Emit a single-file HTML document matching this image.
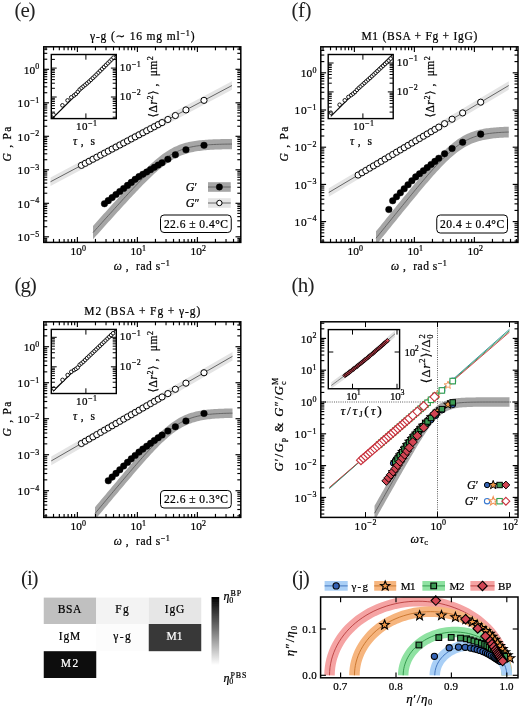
<!DOCTYPE html>
<html lang="en"><head><meta charset="utf-8"><title>Figure panels e-j</title>
<style>html,body{margin:0;padding:0;background:#fff}svg{display:block}</style></head>
<body>
<svg width="520" height="709" viewBox="0 0 520 709" font-family='"Liberation Serif", "DejaVu Serif", serif'>
<rect x="0" y="0" width="520" height="709" fill="#fff" stroke="none" stroke-width="1" />
<defs><filter id="soft" x="0" y="0" width="100%" height="100%" filterUnits="userSpaceOnUse"><feGaussianBlur stdDeviation="0.5"/></filter></defs>
<g filter="url(#soft)">
<rect x="0" y="0" width="520" height="709" fill="#fff" stroke="none" stroke-width="1" />
<clipPath id="clipe"><rect x="43.75" y="46.8" width="197.05" height="195.6"/></clipPath>
<g clip-path="url(#clipe)">
<path d="M50.5 177.45 L141.25 129.32 L232 81.2 L232 89.8 L141.25 137.93 L50.5 186.05 Z" fill="#e4e4e4" stroke="none" stroke-width="1" />
<path d="M50.5 181.75 L141.25 133.62 L232 85.5" fill="none" stroke="#444" stroke-width="0.8" />
<path d="M93 225.9 L94.54 224.18 L96.09 222.46 L97.63 220.74 L99.18 219.02 L100.72 217.31 L102.27 215.59 L103.81 213.87 L105.36 212.16 L106.9 210.45 L108.44 208.74 L109.99 207.03 L111.53 205.32 L113.08 203.61 L114.62 201.91 L116.17 200.21 L117.71 198.51 L119.26 196.82 L120.8 195.12 L122.34 193.44 L123.89 191.76 L125.43 190.08 L126.98 188.41 L128.52 186.74 L130.07 185.09 L131.61 183.44 L133.16 181.8 L134.7 180.17 L136.24 178.55 L137.79 176.94 L139.33 175.35 L140.88 173.77 L142.42 172.21 L143.97 170.67 L145.51 169.15 L147.06 167.65 L148.6 166.17 L150.14 164.72 L151.69 163.3 L153.23 161.91 L154.78 160.55 L156.32 159.23 L157.87 157.95 L159.41 156.71 L160.96 155.5 L162.5 154.35 L164.04 153.24 L165.59 152.17 L167.13 151.16 L168.68 150.2 L170.22 149.28 L171.77 148.42 L173.31 147.61 L174.86 146.85 L176.4 146.14 L177.94 145.48 L179.49 144.87 L181.03 144.3 L182.58 143.78 L184.12 143.3 L185.67 142.86 L187.21 142.46 L188.76 142.09 L190.3 141.76 L191.84 141.46 L193.39 141.18 L194.93 140.93 L196.48 140.71 L198.02 140.51 L199.57 140.33 L201.11 140.16 L202.66 140.02 L204.2 139.89 L205.74 139.77 L207.29 139.66 L208.83 139.57 L210.38 139.49 L211.92 139.41 L213.47 139.34 L215.01 139.28 L216.56 139.23 L218.1 139.18 L219.64 139.14 L221.19 139.1 L222.73 139.07 L224.28 139.04 L225.82 139.01 L227.37 138.99 L228.91 138.97 L230.46 138.95 L232 138.93 L232 149.17 L230.46 149.19 L228.91 149.21 L227.37 149.24 L225.82 149.27 L224.28 149.3 L222.73 149.34 L221.19 149.38 L219.64 149.42 L218.1 149.48 L216.56 149.54 L215.01 149.6 L213.47 149.67 L211.92 149.76 L210.38 149.85 L208.83 149.95 L207.29 150.07 L205.74 150.2 L204.2 150.34 L202.66 150.5 L201.11 150.68 L199.57 150.88 L198.02 151.1 L196.48 151.35 L194.93 151.62 L193.39 151.92 L191.84 152.24 L190.3 152.61 L188.76 153 L187.21 153.44 L185.67 153.91 L184.12 154.43 L182.58 154.99 L181.03 155.59 L179.49 156.25 L177.94 156.95 L176.4 157.7 L174.86 158.5 L173.31 159.36 L171.77 160.26 L170.22 161.22 L168.68 162.22 L167.13 163.28 L165.59 164.38 L164.04 165.53 L162.5 166.73 L160.96 167.96 L159.41 169.24 L157.87 170.56 L156.32 171.91 L154.78 173.3 L153.23 174.71 L151.69 176.16 L150.14 177.63 L148.6 179.13 L147.06 180.65 L145.51 182.18 L143.97 183.74 L142.42 185.32 L140.88 186.91 L139.33 188.51 L137.79 190.13 L136.24 191.76 L134.7 193.4 L133.16 195.05 L131.61 196.7 L130.07 198.37 L128.52 200.04 L126.98 201.71 L125.43 203.39 L123.89 205.08 L122.34 206.77 L120.8 208.46 L119.26 210.16 L117.71 211.86 L116.17 213.57 L114.62 215.27 L113.08 216.98 L111.53 218.69 L109.99 220.4 L108.44 222.11 L106.9 223.83 L105.36 225.54 L103.81 227.26 L102.27 228.97 L100.72 230.69 L99.18 232.41 L97.63 234.13 L96.09 235.85 L94.54 237.57 L93 239.29 Z" fill="#a6a6a6" stroke="none" stroke-width="1" />
<path d="M93 232.6 L94.54 230.88 L96.09 229.16 L97.63 227.44 L99.18 225.72 L100.72 224 L102.27 222.28 L103.81 220.57 L105.36 218.85 L106.9 217.14 L108.44 215.42 L109.99 213.71 L111.53 212 L113.08 210.3 L114.62 208.59 L116.17 206.89 L117.71 205.19 L119.26 203.49 L120.8 201.79 L122.34 200.1 L123.89 198.42 L125.43 196.74 L126.98 195.06 L128.52 193.39 L130.07 191.73 L131.61 190.07 L133.16 188.42 L134.7 186.78 L136.24 185.15 L137.79 183.54 L139.33 181.93 L140.88 180.34 L142.42 178.76 L143.97 177.21 L145.51 175.66 L147.06 174.15 L148.6 172.65 L150.14 171.17 L151.69 169.73 L153.23 168.31 L154.78 166.92 L156.32 165.57 L157.87 164.25 L159.41 162.97 L160.96 161.73 L162.5 160.54 L164.04 159.39 L165.59 158.28 L167.13 157.22 L168.68 156.21 L170.22 155.25 L171.77 154.34 L173.31 153.48 L174.86 152.68 L176.4 151.92 L177.94 151.22 L179.49 150.56 L181.03 149.95 L182.58 149.38 L184.12 148.86 L185.67 148.39 L187.21 147.95 L188.76 147.55 L190.3 147.18 L191.84 146.85 L193.39 146.55 L194.93 146.28 L196.48 146.03 L198.02 145.81 L199.57 145.6 L201.11 145.42 L202.66 145.26 L204.2 145.11 L205.74 144.98 L207.29 144.87 L208.83 144.76 L210.38 144.67 L211.92 144.58 L213.47 144.51 L215.01 144.44 L216.56 144.38 L218.1 144.33 L219.64 144.28 L221.19 144.24 L222.73 144.2 L224.28 144.17 L225.82 144.14 L227.37 144.11 L228.91 144.09 L230.46 144.07 L232 144.05" fill="none" stroke="#555" stroke-width="0.8" />
</g>
<circle cx="104.46" cy="203.69" r="3.3" fill="#000" stroke="#000" stroke-width="0.4"/>
<circle cx="108.3" cy="200.64" r="3.3" fill="#000" stroke="#000" stroke-width="0.4"/>
<circle cx="112.14" cy="197.6" r="3.3" fill="#000" stroke="#000" stroke-width="0.4"/>
<circle cx="115.98" cy="194.56" r="3.3" fill="#000" stroke="#000" stroke-width="0.4"/>
<circle cx="119.82" cy="191.51" r="3.3" fill="#000" stroke="#000" stroke-width="0.4"/>
<circle cx="123.66" cy="188.47" r="3.3" fill="#000" stroke="#000" stroke-width="0.4"/>
<circle cx="127.5" cy="185.42" r="3.3" fill="#000" stroke="#000" stroke-width="0.4"/>
<circle cx="131.34" cy="182.38" r="3.3" fill="#000" stroke="#000" stroke-width="0.4"/>
<circle cx="135.18" cy="179.34" r="3.3" fill="#000" stroke="#000" stroke-width="0.4"/>
<circle cx="139.02" cy="176.59" r="3.3" fill="#000" stroke="#000" stroke-width="0.4"/>
<circle cx="142.86" cy="174.28" r="3.3" fill="#000" stroke="#000" stroke-width="0.4"/>
<circle cx="146.7" cy="171.98" r="3.3" fill="#000" stroke="#000" stroke-width="0.4"/>
<circle cx="150.54" cy="169.67" r="3.3" fill="#000" stroke="#000" stroke-width="0.4"/>
<circle cx="154.38" cy="167.37" r="3.3" fill="#000" stroke="#000" stroke-width="0.4"/>
<circle cx="158.22" cy="165.07" r="3.3" fill="#000" stroke="#000" stroke-width="0.4"/>
<circle cx="162.06" cy="162.76" r="3.3" fill="#000" stroke="#000" stroke-width="0.4"/>
<circle cx="167.88" cy="159.27" r="3.3" fill="#000" stroke="#000" stroke-width="0.4"/>
<circle cx="175.37" cy="154.81" r="3.3" fill="#000" stroke="#000" stroke-width="0.4"/>
<circle cx="185.94" cy="149.77" r="3.3" fill="#000" stroke="#000" stroke-width="0.4"/>
<circle cx="204" cy="145.32" r="3.3" fill="#000" stroke="#000" stroke-width="0.4"/>
<circle cx="81.42" cy="165.35" r="3.1" fill="#fff" stroke="#000" stroke-width="1"/>
<circle cx="85.26" cy="163.32" r="3.1" fill="#fff" stroke="#000" stroke-width="1"/>
<circle cx="89.1" cy="161.28" r="3.1" fill="#fff" stroke="#000" stroke-width="1"/>
<circle cx="92.94" cy="159.24" r="3.1" fill="#fff" stroke="#000" stroke-width="1"/>
<circle cx="96.78" cy="157.21" r="3.1" fill="#fff" stroke="#000" stroke-width="1"/>
<circle cx="100.62" cy="155.17" r="3.1" fill="#fff" stroke="#000" stroke-width="1"/>
<circle cx="104.46" cy="153.13" r="3.1" fill="#fff" stroke="#000" stroke-width="1"/>
<circle cx="108.3" cy="151.1" r="3.1" fill="#fff" stroke="#000" stroke-width="1"/>
<circle cx="112.14" cy="149.06" r="3.1" fill="#fff" stroke="#000" stroke-width="1"/>
<circle cx="115.98" cy="147.02" r="3.1" fill="#fff" stroke="#000" stroke-width="1"/>
<circle cx="119.82" cy="144.99" r="3.1" fill="#fff" stroke="#000" stroke-width="1"/>
<circle cx="123.66" cy="142.95" r="3.1" fill="#fff" stroke="#000" stroke-width="1"/>
<circle cx="127.5" cy="140.92" r="3.1" fill="#fff" stroke="#000" stroke-width="1"/>
<circle cx="131.34" cy="138.88" r="3.1" fill="#fff" stroke="#000" stroke-width="1"/>
<circle cx="135.18" cy="136.84" r="3.1" fill="#fff" stroke="#000" stroke-width="1"/>
<circle cx="139.02" cy="134.81" r="3.1" fill="#fff" stroke="#000" stroke-width="1"/>
<circle cx="142.86" cy="132.77" r="3.1" fill="#fff" stroke="#000" stroke-width="1"/>
<circle cx="146.7" cy="130.73" r="3.1" fill="#fff" stroke="#000" stroke-width="1"/>
<circle cx="150.54" cy="128.7" r="3.1" fill="#fff" stroke="#000" stroke-width="1"/>
<circle cx="154.38" cy="126.66" r="3.1" fill="#fff" stroke="#000" stroke-width="1"/>
<circle cx="158.22" cy="124.62" r="3.1" fill="#fff" stroke="#000" stroke-width="1"/>
<circle cx="162.06" cy="122.59" r="3.1" fill="#fff" stroke="#000" stroke-width="1"/>
<circle cx="167.88" cy="119.5" r="3.1" fill="#fff" stroke="#000" stroke-width="1"/>
<circle cx="175.37" cy="115.53" r="3.1" fill="#fff" stroke="#000" stroke-width="1"/>
<circle cx="185.94" cy="109.93" r="3.1" fill="#fff" stroke="#000" stroke-width="1"/>
<circle cx="204" cy="100.35" r="3.1" fill="#fff" stroke="#000" stroke-width="1"/>
<line x1="46.03" y1="242.4" x2="46.03" y2="238.9" stroke="#000" stroke-width="1.15" />
<line x1="46.03" y1="46.8" x2="46.03" y2="50.3" stroke="#000" stroke-width="1.15" />
<line x1="53.52" y1="242.4" x2="53.52" y2="238.9" stroke="#000" stroke-width="1.15" />
<line x1="53.52" y1="46.8" x2="53.52" y2="50.3" stroke="#000" stroke-width="1.15" />
<line x1="59.34" y1="242.4" x2="59.34" y2="238.9" stroke="#000" stroke-width="1.15" />
<line x1="59.34" y1="46.8" x2="59.34" y2="50.3" stroke="#000" stroke-width="1.15" />
<line x1="64.09" y1="242.4" x2="64.09" y2="238.9" stroke="#000" stroke-width="1.15" />
<line x1="64.09" y1="46.8" x2="64.09" y2="50.3" stroke="#000" stroke-width="1.15" />
<line x1="68.11" y1="242.4" x2="68.11" y2="238.9" stroke="#000" stroke-width="1.15" />
<line x1="68.11" y1="46.8" x2="68.11" y2="50.3" stroke="#000" stroke-width="1.15" />
<line x1="71.59" y1="242.4" x2="71.59" y2="238.9" stroke="#000" stroke-width="1.15" />
<line x1="71.59" y1="46.8" x2="71.59" y2="50.3" stroke="#000" stroke-width="1.15" />
<line x1="74.65" y1="242.4" x2="74.65" y2="238.9" stroke="#000" stroke-width="1.15" />
<line x1="74.65" y1="46.8" x2="74.65" y2="50.3" stroke="#000" stroke-width="1.15" />
<line x1="77.4" y1="242.4" x2="77.4" y2="237.1" stroke="#000" stroke-width="1.15" />
<line x1="77.4" y1="46.8" x2="77.4" y2="52.1" stroke="#000" stroke-width="1.15" />
<line x1="95.46" y1="242.4" x2="95.46" y2="238.9" stroke="#000" stroke-width="1.15" />
<line x1="95.46" y1="46.8" x2="95.46" y2="50.3" stroke="#000" stroke-width="1.15" />
<line x1="106.03" y1="242.4" x2="106.03" y2="238.9" stroke="#000" stroke-width="1.15" />
<line x1="106.03" y1="46.8" x2="106.03" y2="50.3" stroke="#000" stroke-width="1.15" />
<line x1="113.52" y1="242.4" x2="113.52" y2="238.9" stroke="#000" stroke-width="1.15" />
<line x1="113.52" y1="46.8" x2="113.52" y2="50.3" stroke="#000" stroke-width="1.15" />
<line x1="119.34" y1="242.4" x2="119.34" y2="238.9" stroke="#000" stroke-width="1.15" />
<line x1="119.34" y1="46.8" x2="119.34" y2="50.3" stroke="#000" stroke-width="1.15" />
<line x1="124.09" y1="242.4" x2="124.09" y2="238.9" stroke="#000" stroke-width="1.15" />
<line x1="124.09" y1="46.8" x2="124.09" y2="50.3" stroke="#000" stroke-width="1.15" />
<line x1="128.11" y1="242.4" x2="128.11" y2="238.9" stroke="#000" stroke-width="1.15" />
<line x1="128.11" y1="46.8" x2="128.11" y2="50.3" stroke="#000" stroke-width="1.15" />
<line x1="131.59" y1="242.4" x2="131.59" y2="238.9" stroke="#000" stroke-width="1.15" />
<line x1="131.59" y1="46.8" x2="131.59" y2="50.3" stroke="#000" stroke-width="1.15" />
<line x1="134.65" y1="242.4" x2="134.65" y2="238.9" stroke="#000" stroke-width="1.15" />
<line x1="134.65" y1="46.8" x2="134.65" y2="50.3" stroke="#000" stroke-width="1.15" />
<line x1="137.4" y1="242.4" x2="137.4" y2="237.1" stroke="#000" stroke-width="1.15" />
<line x1="137.4" y1="46.8" x2="137.4" y2="52.1" stroke="#000" stroke-width="1.15" />
<line x1="155.46" y1="242.4" x2="155.46" y2="238.9" stroke="#000" stroke-width="1.15" />
<line x1="155.46" y1="46.8" x2="155.46" y2="50.3" stroke="#000" stroke-width="1.15" />
<line x1="166.03" y1="242.4" x2="166.03" y2="238.9" stroke="#000" stroke-width="1.15" />
<line x1="166.03" y1="46.8" x2="166.03" y2="50.3" stroke="#000" stroke-width="1.15" />
<line x1="173.52" y1="242.4" x2="173.52" y2="238.9" stroke="#000" stroke-width="1.15" />
<line x1="173.52" y1="46.8" x2="173.52" y2="50.3" stroke="#000" stroke-width="1.15" />
<line x1="179.34" y1="242.4" x2="179.34" y2="238.9" stroke="#000" stroke-width="1.15" />
<line x1="179.34" y1="46.8" x2="179.34" y2="50.3" stroke="#000" stroke-width="1.15" />
<line x1="184.09" y1="242.4" x2="184.09" y2="238.9" stroke="#000" stroke-width="1.15" />
<line x1="184.09" y1="46.8" x2="184.09" y2="50.3" stroke="#000" stroke-width="1.15" />
<line x1="188.11" y1="242.4" x2="188.11" y2="238.9" stroke="#000" stroke-width="1.15" />
<line x1="188.11" y1="46.8" x2="188.11" y2="50.3" stroke="#000" stroke-width="1.15" />
<line x1="191.59" y1="242.4" x2="191.59" y2="238.9" stroke="#000" stroke-width="1.15" />
<line x1="191.59" y1="46.8" x2="191.59" y2="50.3" stroke="#000" stroke-width="1.15" />
<line x1="194.65" y1="242.4" x2="194.65" y2="238.9" stroke="#000" stroke-width="1.15" />
<line x1="194.65" y1="46.8" x2="194.65" y2="50.3" stroke="#000" stroke-width="1.15" />
<line x1="197.4" y1="242.4" x2="197.4" y2="237.1" stroke="#000" stroke-width="1.15" />
<line x1="197.4" y1="46.8" x2="197.4" y2="52.1" stroke="#000" stroke-width="1.15" />
<line x1="215.46" y1="242.4" x2="215.46" y2="238.9" stroke="#000" stroke-width="1.15" />
<line x1="215.46" y1="46.8" x2="215.46" y2="50.3" stroke="#000" stroke-width="1.15" />
<line x1="226.03" y1="242.4" x2="226.03" y2="238.9" stroke="#000" stroke-width="1.15" />
<line x1="226.03" y1="46.8" x2="226.03" y2="50.3" stroke="#000" stroke-width="1.15" />
<line x1="233.52" y1="242.4" x2="233.52" y2="238.9" stroke="#000" stroke-width="1.15" />
<line x1="233.52" y1="46.8" x2="233.52" y2="50.3" stroke="#000" stroke-width="1.15" />
<line x1="239.34" y1="242.4" x2="239.34" y2="238.9" stroke="#000" stroke-width="1.15" />
<line x1="239.34" y1="46.8" x2="239.34" y2="50.3" stroke="#000" stroke-width="1.15" />
<line x1="43.75" y1="241.99" x2="47.25" y2="241.99" stroke="#000" stroke-width="1.15" />
<line x1="240.8" y1="241.99" x2="237.3" y2="241.99" stroke="#000" stroke-width="1.15" />
<line x1="43.75" y1="240.05" x2="47.25" y2="240.05" stroke="#000" stroke-width="1.15" />
<line x1="240.8" y1="240.05" x2="237.3" y2="240.05" stroke="#000" stroke-width="1.15" />
<line x1="43.75" y1="238.33" x2="47.25" y2="238.33" stroke="#000" stroke-width="1.15" />
<line x1="240.8" y1="238.33" x2="237.3" y2="238.33" stroke="#000" stroke-width="1.15" />
<line x1="43.75" y1="236.8" x2="49.05" y2="236.8" stroke="#000" stroke-width="1.15" />
<line x1="240.8" y1="236.8" x2="235.5" y2="236.8" stroke="#000" stroke-width="1.15" />
<line x1="43.75" y1="226.72" x2="47.25" y2="226.72" stroke="#000" stroke-width="1.15" />
<line x1="240.8" y1="226.72" x2="237.3" y2="226.72" stroke="#000" stroke-width="1.15" />
<line x1="43.75" y1="220.82" x2="47.25" y2="220.82" stroke="#000" stroke-width="1.15" />
<line x1="240.8" y1="220.82" x2="237.3" y2="220.82" stroke="#000" stroke-width="1.15" />
<line x1="43.75" y1="216.63" x2="47.25" y2="216.63" stroke="#000" stroke-width="1.15" />
<line x1="240.8" y1="216.63" x2="237.3" y2="216.63" stroke="#000" stroke-width="1.15" />
<line x1="43.75" y1="213.38" x2="47.25" y2="213.38" stroke="#000" stroke-width="1.15" />
<line x1="240.8" y1="213.38" x2="237.3" y2="213.38" stroke="#000" stroke-width="1.15" />
<line x1="43.75" y1="210.73" x2="47.25" y2="210.73" stroke="#000" stroke-width="1.15" />
<line x1="240.8" y1="210.73" x2="237.3" y2="210.73" stroke="#000" stroke-width="1.15" />
<line x1="43.75" y1="208.49" x2="47.25" y2="208.49" stroke="#000" stroke-width="1.15" />
<line x1="240.8" y1="208.49" x2="237.3" y2="208.49" stroke="#000" stroke-width="1.15" />
<line x1="43.75" y1="206.55" x2="47.25" y2="206.55" stroke="#000" stroke-width="1.15" />
<line x1="240.8" y1="206.55" x2="237.3" y2="206.55" stroke="#000" stroke-width="1.15" />
<line x1="43.75" y1="204.83" x2="47.25" y2="204.83" stroke="#000" stroke-width="1.15" />
<line x1="240.8" y1="204.83" x2="237.3" y2="204.83" stroke="#000" stroke-width="1.15" />
<line x1="43.75" y1="203.3" x2="49.05" y2="203.3" stroke="#000" stroke-width="1.15" />
<line x1="240.8" y1="203.3" x2="235.5" y2="203.3" stroke="#000" stroke-width="1.15" />
<line x1="43.75" y1="193.22" x2="47.25" y2="193.22" stroke="#000" stroke-width="1.15" />
<line x1="240.8" y1="193.22" x2="237.3" y2="193.22" stroke="#000" stroke-width="1.15" />
<line x1="43.75" y1="187.32" x2="47.25" y2="187.32" stroke="#000" stroke-width="1.15" />
<line x1="240.8" y1="187.32" x2="237.3" y2="187.32" stroke="#000" stroke-width="1.15" />
<line x1="43.75" y1="183.13" x2="47.25" y2="183.13" stroke="#000" stroke-width="1.15" />
<line x1="240.8" y1="183.13" x2="237.3" y2="183.13" stroke="#000" stroke-width="1.15" />
<line x1="43.75" y1="179.88" x2="47.25" y2="179.88" stroke="#000" stroke-width="1.15" />
<line x1="240.8" y1="179.88" x2="237.3" y2="179.88" stroke="#000" stroke-width="1.15" />
<line x1="43.75" y1="177.23" x2="47.25" y2="177.23" stroke="#000" stroke-width="1.15" />
<line x1="240.8" y1="177.23" x2="237.3" y2="177.23" stroke="#000" stroke-width="1.15" />
<line x1="43.75" y1="174.99" x2="47.25" y2="174.99" stroke="#000" stroke-width="1.15" />
<line x1="240.8" y1="174.99" x2="237.3" y2="174.99" stroke="#000" stroke-width="1.15" />
<line x1="43.75" y1="173.05" x2="47.25" y2="173.05" stroke="#000" stroke-width="1.15" />
<line x1="240.8" y1="173.05" x2="237.3" y2="173.05" stroke="#000" stroke-width="1.15" />
<line x1="43.75" y1="171.33" x2="47.25" y2="171.33" stroke="#000" stroke-width="1.15" />
<line x1="240.8" y1="171.33" x2="237.3" y2="171.33" stroke="#000" stroke-width="1.15" />
<line x1="43.75" y1="169.8" x2="49.05" y2="169.8" stroke="#000" stroke-width="1.15" />
<line x1="240.8" y1="169.8" x2="235.5" y2="169.8" stroke="#000" stroke-width="1.15" />
<line x1="43.75" y1="159.72" x2="47.25" y2="159.72" stroke="#000" stroke-width="1.15" />
<line x1="240.8" y1="159.72" x2="237.3" y2="159.72" stroke="#000" stroke-width="1.15" />
<line x1="43.75" y1="153.82" x2="47.25" y2="153.82" stroke="#000" stroke-width="1.15" />
<line x1="240.8" y1="153.82" x2="237.3" y2="153.82" stroke="#000" stroke-width="1.15" />
<line x1="43.75" y1="149.63" x2="47.25" y2="149.63" stroke="#000" stroke-width="1.15" />
<line x1="240.8" y1="149.63" x2="237.3" y2="149.63" stroke="#000" stroke-width="1.15" />
<line x1="43.75" y1="146.38" x2="47.25" y2="146.38" stroke="#000" stroke-width="1.15" />
<line x1="240.8" y1="146.38" x2="237.3" y2="146.38" stroke="#000" stroke-width="1.15" />
<line x1="43.75" y1="143.73" x2="47.25" y2="143.73" stroke="#000" stroke-width="1.15" />
<line x1="240.8" y1="143.73" x2="237.3" y2="143.73" stroke="#000" stroke-width="1.15" />
<line x1="43.75" y1="141.49" x2="47.25" y2="141.49" stroke="#000" stroke-width="1.15" />
<line x1="240.8" y1="141.49" x2="237.3" y2="141.49" stroke="#000" stroke-width="1.15" />
<line x1="43.75" y1="139.55" x2="47.25" y2="139.55" stroke="#000" stroke-width="1.15" />
<line x1="240.8" y1="139.55" x2="237.3" y2="139.55" stroke="#000" stroke-width="1.15" />
<line x1="43.75" y1="137.83" x2="47.25" y2="137.83" stroke="#000" stroke-width="1.15" />
<line x1="240.8" y1="137.83" x2="237.3" y2="137.83" stroke="#000" stroke-width="1.15" />
<line x1="43.75" y1="136.3" x2="49.05" y2="136.3" stroke="#000" stroke-width="1.15" />
<line x1="240.8" y1="136.3" x2="235.5" y2="136.3" stroke="#000" stroke-width="1.15" />
<line x1="43.75" y1="126.22" x2="47.25" y2="126.22" stroke="#000" stroke-width="1.15" />
<line x1="240.8" y1="126.22" x2="237.3" y2="126.22" stroke="#000" stroke-width="1.15" />
<line x1="43.75" y1="120.32" x2="47.25" y2="120.32" stroke="#000" stroke-width="1.15" />
<line x1="240.8" y1="120.32" x2="237.3" y2="120.32" stroke="#000" stroke-width="1.15" />
<line x1="43.75" y1="116.13" x2="47.25" y2="116.13" stroke="#000" stroke-width="1.15" />
<line x1="240.8" y1="116.13" x2="237.3" y2="116.13" stroke="#000" stroke-width="1.15" />
<line x1="43.75" y1="112.88" x2="47.25" y2="112.88" stroke="#000" stroke-width="1.15" />
<line x1="240.8" y1="112.88" x2="237.3" y2="112.88" stroke="#000" stroke-width="1.15" />
<line x1="43.75" y1="110.23" x2="47.25" y2="110.23" stroke="#000" stroke-width="1.15" />
<line x1="240.8" y1="110.23" x2="237.3" y2="110.23" stroke="#000" stroke-width="1.15" />
<line x1="43.75" y1="107.99" x2="47.25" y2="107.99" stroke="#000" stroke-width="1.15" />
<line x1="240.8" y1="107.99" x2="237.3" y2="107.99" stroke="#000" stroke-width="1.15" />
<line x1="43.75" y1="106.05" x2="47.25" y2="106.05" stroke="#000" stroke-width="1.15" />
<line x1="240.8" y1="106.05" x2="237.3" y2="106.05" stroke="#000" stroke-width="1.15" />
<line x1="43.75" y1="104.33" x2="47.25" y2="104.33" stroke="#000" stroke-width="1.15" />
<line x1="240.8" y1="104.33" x2="237.3" y2="104.33" stroke="#000" stroke-width="1.15" />
<line x1="43.75" y1="102.8" x2="49.05" y2="102.8" stroke="#000" stroke-width="1.15" />
<line x1="240.8" y1="102.8" x2="235.5" y2="102.8" stroke="#000" stroke-width="1.15" />
<line x1="43.75" y1="92.72" x2="47.25" y2="92.72" stroke="#000" stroke-width="1.15" />
<line x1="240.8" y1="92.72" x2="237.3" y2="92.72" stroke="#000" stroke-width="1.15" />
<line x1="43.75" y1="86.82" x2="47.25" y2="86.82" stroke="#000" stroke-width="1.15" />
<line x1="240.8" y1="86.82" x2="237.3" y2="86.82" stroke="#000" stroke-width="1.15" />
<line x1="43.75" y1="82.63" x2="47.25" y2="82.63" stroke="#000" stroke-width="1.15" />
<line x1="240.8" y1="82.63" x2="237.3" y2="82.63" stroke="#000" stroke-width="1.15" />
<line x1="43.75" y1="79.38" x2="47.25" y2="79.38" stroke="#000" stroke-width="1.15" />
<line x1="240.8" y1="79.38" x2="237.3" y2="79.38" stroke="#000" stroke-width="1.15" />
<line x1="43.75" y1="76.73" x2="47.25" y2="76.73" stroke="#000" stroke-width="1.15" />
<line x1="240.8" y1="76.73" x2="237.3" y2="76.73" stroke="#000" stroke-width="1.15" />
<line x1="43.75" y1="74.49" x2="47.25" y2="74.49" stroke="#000" stroke-width="1.15" />
<line x1="240.8" y1="74.49" x2="237.3" y2="74.49" stroke="#000" stroke-width="1.15" />
<line x1="43.75" y1="72.55" x2="47.25" y2="72.55" stroke="#000" stroke-width="1.15" />
<line x1="240.8" y1="72.55" x2="237.3" y2="72.55" stroke="#000" stroke-width="1.15" />
<line x1="43.75" y1="70.83" x2="47.25" y2="70.83" stroke="#000" stroke-width="1.15" />
<line x1="240.8" y1="70.83" x2="237.3" y2="70.83" stroke="#000" stroke-width="1.15" />
<line x1="43.75" y1="69.3" x2="49.05" y2="69.3" stroke="#000" stroke-width="1.15" />
<line x1="240.8" y1="69.3" x2="235.5" y2="69.3" stroke="#000" stroke-width="1.15" />
<line x1="43.75" y1="59.22" x2="47.25" y2="59.22" stroke="#000" stroke-width="1.15" />
<line x1="240.8" y1="59.22" x2="237.3" y2="59.22" stroke="#000" stroke-width="1.15" />
<line x1="43.75" y1="53.32" x2="47.25" y2="53.32" stroke="#000" stroke-width="1.15" />
<line x1="240.8" y1="53.32" x2="237.3" y2="53.32" stroke="#000" stroke-width="1.15" />
<line x1="43.75" y1="49.13" x2="47.25" y2="49.13" stroke="#000" stroke-width="1.15" />
<line x1="240.8" y1="49.13" x2="237.3" y2="49.13" stroke="#000" stroke-width="1.15" />
<rect x="43.75" y="46.8" width="197.05" height="195.6" fill="none" stroke="#000" stroke-width="1.5" />
<text x="78.2" y="255.2" font-size="11.4" text-anchor="middle" fill="#000" stroke="#000" stroke-width="0.22"  textLength="15.6" lengthAdjust="spacing">10<tspan font-size="7.98" dy="-4.33">0</tspan></text>
<text x="138.2" y="255.2" font-size="11.4" text-anchor="middle" fill="#000" stroke="#000" stroke-width="0.22"  textLength="15.6" lengthAdjust="spacing">10<tspan font-size="7.98" dy="-4.33">1</tspan></text>
<text x="198.2" y="255.2" font-size="11.4" text-anchor="middle" fill="#000" stroke="#000" stroke-width="0.22"  textLength="15.6" lengthAdjust="spacing">10<tspan font-size="7.98" dy="-4.33">2</tspan></text>
<text x="39.35" y="73.5" font-size="11.4" text-anchor="end" fill="#000" stroke="#000" stroke-width="0.22"  textLength="15.6" lengthAdjust="spacing">10<tspan font-size="7.98" dy="-4.33">0</tspan></text>
<text x="39.35" y="107" font-size="11.4" text-anchor="end" fill="#000" stroke="#000" stroke-width="0.22"  textLength="21.8" lengthAdjust="spacing">10<tspan font-size="7.98" dy="-4.33">−1</tspan></text>
<text x="39.35" y="140.5" font-size="11.4" text-anchor="end" fill="#000" stroke="#000" stroke-width="0.22"  textLength="21.8" lengthAdjust="spacing">10<tspan font-size="7.98" dy="-4.33">−2</tspan></text>
<text x="39.35" y="174" font-size="11.4" text-anchor="end" fill="#000" stroke="#000" stroke-width="0.22"  textLength="21.8" lengthAdjust="spacing">10<tspan font-size="7.98" dy="-4.33">−3</tspan></text>
<text x="39.35" y="207.5" font-size="11.4" text-anchor="end" fill="#000" stroke="#000" stroke-width="0.22"  textLength="21.8" lengthAdjust="spacing">10<tspan font-size="7.98" dy="-4.33">−4</tspan></text>
<text x="39.35" y="241" font-size="11.4" text-anchor="end" fill="#000" stroke="#000" stroke-width="0.22"  textLength="21.8" lengthAdjust="spacing">10<tspan font-size="7.98" dy="-4.33">−5</tspan></text>
<text x="141.78" y="270.4" font-size="11.5" text-anchor="middle" fill="#000" stroke="#000" stroke-width="0.22"  textLength="56" lengthAdjust="spacing"><tspan font-style="italic">&#969;</tspan><tspan> ,&#160; rad s</tspan><tspan font-size="8.05" dy="-4.37">&#8722;1</tspan></text>
<text x="10.55" y="144.1" font-size="11.5" text-anchor="middle" fill="#000" stroke="#000" stroke-width="0.22" transform="rotate(-90 10.55 144.1)"  textLength="35" lengthAdjust="spacing"><tspan font-style="italic">G</tspan><tspan> ,&#160;Pa</tspan></text>
<text x="142.28" y="40" font-size="11.5" text-anchor="middle" fill="#000" stroke="#000" stroke-width="0.22"  textLength="104.5" lengthAdjust="spacing"><tspan>&#947;-g (&#8764; 16 mg ml</tspan><tspan font-size="8.05" dy="-4.37">&#8722;1</tspan><tspan dy="4.37">)</tspan></text>
<rect x="160.5" y="215" width="70.75" height="17.5" fill="#fff" stroke="#000" stroke-width="1" rx="3.5" ry="3.5"/>
<text x="195.88" y="227.75" font-size="11.5" text-anchor="middle" fill="#000" stroke="#000" stroke-width="0.22"  textLength="64" lengthAdjust="spacing">22.6 &#177; 0.4&#176;C</text>
<rect x="208" y="182.2" width="22.75" height="9.6" fill="#a6a6a6" stroke="none" stroke-width="1" />
<line x1="208" y1="187" x2="230.75" y2="187" stroke="#555" stroke-width="0.8" />
<circle cx="219.38" cy="187" r="3.2" fill="#000" stroke="#000" stroke-width="0.4"/>
<rect x="208" y="198.2" width="22.75" height="9.6" fill="#e4e4e4" stroke="none" stroke-width="1" />
<line x1="208" y1="203" x2="230.75" y2="203" stroke="#444" stroke-width="0.8" />
<circle cx="219.38" cy="203" r="2.7" fill="#fff" stroke="#000" stroke-width="1"/>
<text x="197" y="191.2" font-size="12" text-anchor="end" fill="#000" stroke="#000" stroke-width="0.22" ><tspan font-style="italic">G</tspan>&#8242;</text>
<text x="199.5" y="207.4" font-size="12" text-anchor="end" fill="#000" stroke="#000" stroke-width="0.22" ><tspan font-style="italic">G</tspan>&#8243;</text>
<rect x="51.3" y="54.5" width="65" height="64.1" fill="#fff" stroke="none" stroke-width="1" />
<clipPath id="clipei"><rect x="51.3" y="54.5" width="65" height="64.1"/></clipPath>
<g clip-path="url(#clipei)">
<line x1="52.2" y1="118.6" x2="116.6" y2="54.2" stroke="#000" stroke-width="1.2" />
<circle cx="53.6" cy="114.79" r="1.8" fill="#fff" stroke="#000" stroke-width="0.9"/>
<circle cx="62.42" cy="105.32" r="1.8" fill="#fff" stroke="#000" stroke-width="0.9"/>
<circle cx="67.58" cy="100.39" r="1.8" fill="#fff" stroke="#000" stroke-width="0.9"/>
<circle cx="71.24" cy="97.35" r="1.8" fill="#fff" stroke="#000" stroke-width="0.9"/>
<circle cx="74.08" cy="95.41" r="1.8" fill="#fff" stroke="#000" stroke-width="0.9"/>
<circle cx="75.96" cy="93.98" r="1.8" fill="#fff" stroke="#000" stroke-width="0.9"/>
<circle cx="77.83" cy="91.8" r="1.8" fill="#fff" stroke="#000" stroke-width="0.9"/>
<circle cx="79.71" cy="89.49" r="1.8" fill="#fff" stroke="#000" stroke-width="0.9"/>
<circle cx="81.58" cy="87.88" r="1.8" fill="#fff" stroke="#000" stroke-width="0.9"/>
<circle cx="83.46" cy="86.32" r="1.8" fill="#fff" stroke="#000" stroke-width="0.9"/>
<circle cx="85.33" cy="84.79" r="1.8" fill="#fff" stroke="#000" stroke-width="0.9"/>
<circle cx="87.21" cy="83.25" r="1.8" fill="#fff" stroke="#000" stroke-width="0.9"/>
<circle cx="89.08" cy="81.58" r="1.8" fill="#fff" stroke="#000" stroke-width="0.9"/>
<circle cx="90.96" cy="79.81" r="1.8" fill="#fff" stroke="#000" stroke-width="0.9"/>
<circle cx="92.83" cy="78.04" r="1.8" fill="#fff" stroke="#000" stroke-width="0.9"/>
<circle cx="94.71" cy="76.28" r="1.8" fill="#fff" stroke="#000" stroke-width="0.9"/>
<circle cx="96.58" cy="74.43" r="1.8" fill="#fff" stroke="#000" stroke-width="0.9"/>
<circle cx="98.46" cy="72.56" r="1.8" fill="#fff" stroke="#000" stroke-width="0.9"/>
<circle cx="100.33" cy="70.7" r="1.8" fill="#fff" stroke="#000" stroke-width="0.9"/>
<circle cx="102.21" cy="68.83" r="1.8" fill="#fff" stroke="#000" stroke-width="0.9"/>
<circle cx="104.08" cy="66.97" r="1.8" fill="#fff" stroke="#000" stroke-width="0.9"/>
<circle cx="105.96" cy="65.1" r="1.8" fill="#fff" stroke="#000" stroke-width="0.9"/>
<circle cx="107.83" cy="63.24" r="1.8" fill="#fff" stroke="#000" stroke-width="0.9"/>
<circle cx="109.71" cy="61.37" r="1.8" fill="#fff" stroke="#000" stroke-width="0.9"/>
<circle cx="111.58" cy="59.51" r="1.8" fill="#fff" stroke="#000" stroke-width="0.9"/>
<circle cx="113.46" cy="57.64" r="1.8" fill="#fff" stroke="#000" stroke-width="0.9"/>
</g>
<line x1="51.3" y1="117.2" x2="54.9" y2="117.2" stroke="#000" stroke-width="1" />
<line x1="116.3" y1="117.2" x2="112.7" y2="117.2" stroke="#000" stroke-width="1" />
<line x1="51.3" y1="112.11" x2="54.9" y2="112.11" stroke="#000" stroke-width="1" />
<line x1="116.3" y1="112.11" x2="112.7" y2="112.11" stroke="#000" stroke-width="1" />
<line x1="51.3" y1="108.5" x2="54.9" y2="108.5" stroke="#000" stroke-width="1" />
<line x1="116.3" y1="108.5" x2="112.7" y2="108.5" stroke="#000" stroke-width="1" />
<line x1="51.3" y1="105.7" x2="54.9" y2="105.7" stroke="#000" stroke-width="1" />
<line x1="116.3" y1="105.7" x2="112.7" y2="105.7" stroke="#000" stroke-width="1" />
<line x1="51.3" y1="103.41" x2="54.9" y2="103.41" stroke="#000" stroke-width="1" />
<line x1="116.3" y1="103.41" x2="112.7" y2="103.41" stroke="#000" stroke-width="1" />
<line x1="51.3" y1="101.48" x2="54.9" y2="101.48" stroke="#000" stroke-width="1" />
<line x1="116.3" y1="101.48" x2="112.7" y2="101.48" stroke="#000" stroke-width="1" />
<line x1="51.3" y1="99.8" x2="54.9" y2="99.8" stroke="#000" stroke-width="1" />
<line x1="116.3" y1="99.8" x2="112.7" y2="99.8" stroke="#000" stroke-width="1" />
<line x1="51.3" y1="98.32" x2="54.9" y2="98.32" stroke="#000" stroke-width="1" />
<line x1="116.3" y1="98.32" x2="112.7" y2="98.32" stroke="#000" stroke-width="1" />
<line x1="51.3" y1="97" x2="56.7" y2="97" stroke="#000" stroke-width="1" />
<line x1="116.3" y1="97" x2="110.9" y2="97" stroke="#000" stroke-width="1" />
<line x1="51.3" y1="88.3" x2="54.9" y2="88.3" stroke="#000" stroke-width="1" />
<line x1="116.3" y1="88.3" x2="112.7" y2="88.3" stroke="#000" stroke-width="1" />
<line x1="51.3" y1="83.21" x2="54.9" y2="83.21" stroke="#000" stroke-width="1" />
<line x1="116.3" y1="83.21" x2="112.7" y2="83.21" stroke="#000" stroke-width="1" />
<line x1="51.3" y1="79.6" x2="54.9" y2="79.6" stroke="#000" stroke-width="1" />
<line x1="116.3" y1="79.6" x2="112.7" y2="79.6" stroke="#000" stroke-width="1" />
<line x1="51.3" y1="76.8" x2="54.9" y2="76.8" stroke="#000" stroke-width="1" />
<line x1="116.3" y1="76.8" x2="112.7" y2="76.8" stroke="#000" stroke-width="1" />
<line x1="51.3" y1="74.51" x2="54.9" y2="74.51" stroke="#000" stroke-width="1" />
<line x1="116.3" y1="74.51" x2="112.7" y2="74.51" stroke="#000" stroke-width="1" />
<line x1="51.3" y1="72.58" x2="54.9" y2="72.58" stroke="#000" stroke-width="1" />
<line x1="116.3" y1="72.58" x2="112.7" y2="72.58" stroke="#000" stroke-width="1" />
<line x1="51.3" y1="70.9" x2="54.9" y2="70.9" stroke="#000" stroke-width="1" />
<line x1="116.3" y1="70.9" x2="112.7" y2="70.9" stroke="#000" stroke-width="1" />
<line x1="51.3" y1="69.42" x2="54.9" y2="69.42" stroke="#000" stroke-width="1" />
<line x1="116.3" y1="69.42" x2="112.7" y2="69.42" stroke="#000" stroke-width="1" />
<line x1="51.3" y1="68.1" x2="56.7" y2="68.1" stroke="#000" stroke-width="1" />
<line x1="116.3" y1="68.1" x2="110.9" y2="68.1" stroke="#000" stroke-width="1" />
<line x1="51.3" y1="59.4" x2="54.9" y2="59.4" stroke="#000" stroke-width="1" />
<line x1="116.3" y1="59.4" x2="112.7" y2="59.4" stroke="#000" stroke-width="1" />
<line x1="85.9" y1="118.6" x2="85.9" y2="113.4" stroke="#000" stroke-width="1" />
<line x1="85.9" y1="54.5" x2="85.9" y2="59.7" stroke="#000" stroke-width="1" />
<rect x="51.3" y="54.5" width="65" height="64.1" fill="none" stroke="#000" stroke-width="1.4" />
<text x="86.4" y="130.4" font-size="11" text-anchor="middle" fill="#000" stroke="#000" stroke-width="0.22"  textLength="21" lengthAdjust="spacing">10<tspan font-size="7.98" dy="-4.33">−1</tspan></text>
<text x="119.8" y="70.9" font-size="11" text-anchor="start" fill="#000" stroke="#000" stroke-width="0.22"  textLength="21" lengthAdjust="spacing">10<tspan font-size="7.98" dy="-4.33">−1</tspan></text>
<text x="119.8" y="99.8" font-size="11" text-anchor="start" fill="#000" stroke="#000" stroke-width="0.22"  textLength="21" lengthAdjust="spacing">10<tspan font-size="7.98" dy="-4.33">−2</tspan></text>
<text x="83.9" y="145.1" font-size="11.5" text-anchor="middle" fill="#000" stroke="#000" stroke-width="0.22"  textLength="22" lengthAdjust="spacing"><tspan font-style="italic">&#964;</tspan><tspan> ,&#160; s</tspan></text>
<text x="157.3" y="86.85" font-size="11.5" text-anchor="middle" fill="#000" stroke="#000" stroke-width="0.22" transform="rotate(-90 157.3 86.85)"  textLength="61.5" lengthAdjust="spacing"><tspan>&#10216;&#916;</tspan><tspan font-style="italic">r</tspan><tspan font-size="8.05" dy="-4.37">2</tspan><tspan dy="4.37">&#10217; ,&#160; &#956;m</tspan><tspan font-size="8.05" dy="-4.37">2</tspan></text>
<clipPath id="clipf"><rect x="320.8" y="46.8" width="197.2" height="195.6"/></clipPath>
<g clip-path="url(#clipf)">
<path d="M328.75 188.2 L418.75 134.7 L508.75 81.2 L508.75 89.8 L418.75 143.3 L328.75 196.8 Z" fill="#e4e4e4" stroke="none" stroke-width="1" />
<path d="M328.75 192.5 L418.75 139 L508.75 85.5" fill="none" stroke="#444" stroke-width="0.8" />
<path d="M376 231.36 L377.48 229.54 L378.95 227.71 L380.43 225.89 L381.9 224.06 L383.38 222.24 L384.85 220.41 L386.32 218.59 L387.8 216.77 L389.27 214.95 L390.75 213.12 L392.23 211.3 L393.7 209.49 L395.18 207.67 L396.65 205.85 L398.12 204.04 L399.6 202.22 L401.07 200.41 L402.55 198.6 L404.02 196.8 L405.5 194.99 L406.98 193.19 L408.45 191.39 L409.93 189.6 L411.4 187.81 L412.88 186.02 L414.35 184.24 L415.82 182.46 L417.3 180.69 L418.77 178.93 L420.25 177.18 L421.73 175.43 L423.2 173.69 L424.68 171.96 L426.15 170.25 L427.62 168.55 L429.1 166.86 L430.57 165.19 L432.05 163.53 L433.52 161.89 L435 160.27 L436.48 158.68 L437.95 157.11 L439.43 155.56 L440.9 154.05 L442.38 152.56 L443.85 151.11 L445.32 149.69 L446.8 148.31 L448.27 146.97 L449.75 145.67 L451.23 144.41 L452.7 143.2 L454.18 142.03 L455.65 140.92 L457.12 139.85 L458.6 138.84 L460.07 137.88 L461.55 136.97 L463.02 136.11 L464.5 135.3 L465.98 134.54 L467.45 133.84 L468.93 133.18 L470.4 132.56 L471.88 132 L473.35 131.48 L474.82 130.99 L476.3 130.55 L477.77 130.15 L479.25 129.78 L480.73 129.44 L482.2 129.13 L483.68 128.85 L485.15 128.59 L486.62 128.36 L488.1 128.15 L489.57 127.97 L491.05 127.8 L492.52 127.64 L494 127.5 L495.48 127.38 L496.95 127.27 L498.43 127.17 L499.9 127.08 L501.38 126.99 L502.85 126.92 L504.32 126.86 L505.8 126.8 L507.27 126.74 L508.75 126.7 L508.75 137.38 L507.27 137.44 L505.8 137.5 L504.32 137.58 L502.85 137.65 L501.38 137.74 L499.9 137.84 L498.43 137.95 L496.95 138.07 L495.48 138.21 L494 138.36 L492.52 138.52 L491.05 138.71 L489.57 138.91 L488.1 139.13 L486.62 139.38 L485.15 139.66 L483.68 139.96 L482.2 140.29 L480.73 140.65 L479.25 141.05 L477.77 141.48 L476.3 141.95 L474.82 142.46 L473.35 143.02 L471.88 143.62 L470.4 144.27 L468.93 144.96 L467.45 145.71 L465.98 146.5 L464.5 147.35 L463.02 148.24 L461.55 149.19 L460.07 150.19 L458.6 151.25 L457.12 152.35 L455.65 153.5 L454.18 154.7 L452.7 155.95 L451.23 157.24 L449.75 158.57 L448.27 159.94 L446.8 161.35 L445.32 162.79 L443.85 164.27 L442.38 165.78 L440.9 167.32 L439.43 168.88 L437.95 170.47 L436.48 172.08 L435 173.72 L433.52 175.37 L432.05 177.04 L430.57 178.72 L429.1 180.42 L427.62 182.13 L426.15 183.86 L424.68 185.59 L423.2 187.34 L421.73 189.09 L420.25 190.85 L418.77 192.62 L417.3 194.39 L415.82 196.17 L414.35 197.96 L412.88 199.75 L411.4 201.54 L409.93 203.34 L408.45 205.14 L406.98 206.94 L405.5 208.75 L404.02 210.56 L402.55 212.37 L401.07 214.18 L399.6 216 L398.12 217.81 L396.65 219.63 L395.18 221.45 L393.7 223.27 L392.23 225.09 L390.75 226.91 L389.27 228.73 L387.8 230.56 L386.32 232.38 L384.85 234.2 L383.38 236.03 L381.9 237.86 L380.43 239.68 L378.95 241.51 L377.48 243.33 L376 245.16 Z" fill="#a6a6a6" stroke="none" stroke-width="1" />
<path d="M376 238.26 L377.48 236.44 L378.95 234.61 L380.43 232.78 L381.9 230.96 L383.38 229.13 L384.85 227.31 L386.32 225.49 L387.8 223.66 L389.27 221.84 L390.75 220.02 L392.23 218.2 L393.7 216.38 L395.18 214.56 L396.65 212.74 L398.12 210.92 L399.6 209.11 L401.07 207.3 L402.55 205.49 L404.02 203.68 L405.5 201.87 L406.98 200.07 L408.45 198.26 L409.93 196.47 L411.4 194.67 L412.88 192.88 L414.35 191.1 L415.82 189.32 L417.3 187.54 L418.77 185.77 L420.25 184.01 L421.73 182.26 L423.2 180.51 L424.68 178.78 L426.15 177.05 L427.62 175.34 L429.1 173.64 L430.57 171.95 L432.05 170.28 L433.52 168.63 L435 167 L436.48 165.38 L437.95 163.79 L439.43 162.22 L440.9 160.68 L442.38 159.17 L443.85 157.69 L445.32 156.24 L446.8 154.83 L448.27 153.45 L449.75 152.12 L451.23 150.82 L452.7 149.57 L454.18 148.37 L455.65 147.21 L457.12 146.1 L458.6 145.04 L460.07 144.04 L461.55 143.08 L463.02 142.18 L464.5 141.32 L465.98 140.52 L467.45 139.77 L468.93 139.07 L470.4 138.42 L471.88 137.81 L473.35 137.25 L474.82 136.73 L476.3 136.25 L477.77 135.81 L479.25 135.41 L480.73 135.04 L482.2 134.71 L483.68 134.4 L485.15 134.13 L486.62 133.87 L488.1 133.64 L489.57 133.44 L491.05 133.25 L492.52 133.08 L494 132.93 L495.48 132.79 L496.95 132.67 L498.43 132.56 L499.9 132.46 L501.38 132.37 L502.85 132.29 L504.32 132.22 L505.8 132.15 L507.27 132.09 L508.75 132.04" fill="none" stroke="#555" stroke-width="0.8" />
</g>
<circle cx="388.84" cy="209.51" r="3.3" fill="#000" stroke="#000" stroke-width="0.4"/>
<circle cx="392.68" cy="200.75" r="3.3" fill="#000" stroke="#000" stroke-width="0.4"/>
<circle cx="396.52" cy="196.75" r="3.3" fill="#000" stroke="#000" stroke-width="0.4"/>
<circle cx="400.36" cy="192.75" r="3.3" fill="#000" stroke="#000" stroke-width="0.4"/>
<circle cx="404.2" cy="188.75" r="3.3" fill="#000" stroke="#000" stroke-width="0.4"/>
<circle cx="408.04" cy="184.75" r="3.3" fill="#000" stroke="#000" stroke-width="0.4"/>
<circle cx="411.88" cy="180.75" r="3.3" fill="#000" stroke="#000" stroke-width="0.4"/>
<circle cx="415.72" cy="176.92" r="3.3" fill="#000" stroke="#000" stroke-width="0.4"/>
<circle cx="419.56" cy="173.81" r="3.3" fill="#000" stroke="#000" stroke-width="0.4"/>
<circle cx="423.4" cy="170.71" r="3.3" fill="#000" stroke="#000" stroke-width="0.4"/>
<circle cx="427.24" cy="167.6" r="3.3" fill="#000" stroke="#000" stroke-width="0.4"/>
<circle cx="431.08" cy="164.49" r="3.3" fill="#000" stroke="#000" stroke-width="0.4"/>
<circle cx="434.92" cy="161.39" r="3.3" fill="#000" stroke="#000" stroke-width="0.4"/>
<circle cx="438.76" cy="158.28" r="3.3" fill="#000" stroke="#000" stroke-width="0.4"/>
<circle cx="444.58" cy="153.68" r="3.3" fill="#000" stroke="#000" stroke-width="0.4"/>
<circle cx="452.07" cy="148.55" r="3.3" fill="#000" stroke="#000" stroke-width="0.4"/>
<circle cx="462.64" cy="142.22" r="3.3" fill="#000" stroke="#000" stroke-width="0.4"/>
<circle cx="480.7" cy="134.16" r="3.3" fill="#000" stroke="#000" stroke-width="0.4"/>
<circle cx="358.12" cy="175.04" r="3.1" fill="#fff" stroke="#000" stroke-width="1"/>
<circle cx="361.96" cy="172.76" r="3.1" fill="#fff" stroke="#000" stroke-width="1"/>
<circle cx="365.8" cy="170.47" r="3.1" fill="#fff" stroke="#000" stroke-width="1"/>
<circle cx="369.64" cy="168.19" r="3.1" fill="#fff" stroke="#000" stroke-width="1"/>
<circle cx="373.48" cy="165.91" r="3.1" fill="#fff" stroke="#000" stroke-width="1"/>
<circle cx="377.32" cy="163.63" r="3.1" fill="#fff" stroke="#000" stroke-width="1"/>
<circle cx="381.16" cy="161.34" r="3.1" fill="#fff" stroke="#000" stroke-width="1"/>
<circle cx="385" cy="159.06" r="3.1" fill="#fff" stroke="#000" stroke-width="1"/>
<circle cx="388.84" cy="156.78" r="3.1" fill="#fff" stroke="#000" stroke-width="1"/>
<circle cx="392.68" cy="154.5" r="3.1" fill="#fff" stroke="#000" stroke-width="1"/>
<circle cx="396.52" cy="152.21" r="3.1" fill="#fff" stroke="#000" stroke-width="1"/>
<circle cx="400.36" cy="149.93" r="3.1" fill="#fff" stroke="#000" stroke-width="1"/>
<circle cx="404.2" cy="147.65" r="3.1" fill="#fff" stroke="#000" stroke-width="1"/>
<circle cx="408.04" cy="145.37" r="3.1" fill="#fff" stroke="#000" stroke-width="1"/>
<circle cx="411.88" cy="143.08" r="3.1" fill="#fff" stroke="#000" stroke-width="1"/>
<circle cx="415.72" cy="140.8" r="3.1" fill="#fff" stroke="#000" stroke-width="1"/>
<circle cx="419.56" cy="138.52" r="3.1" fill="#fff" stroke="#000" stroke-width="1"/>
<circle cx="423.4" cy="136.23" r="3.1" fill="#fff" stroke="#000" stroke-width="1"/>
<circle cx="427.24" cy="133.95" r="3.1" fill="#fff" stroke="#000" stroke-width="1"/>
<circle cx="431.08" cy="131.67" r="3.1" fill="#fff" stroke="#000" stroke-width="1"/>
<circle cx="434.92" cy="129.39" r="3.1" fill="#fff" stroke="#000" stroke-width="1"/>
<circle cx="438.76" cy="127.1" r="3.1" fill="#fff" stroke="#000" stroke-width="1"/>
<circle cx="444.58" cy="123.65" r="3.1" fill="#fff" stroke="#000" stroke-width="1"/>
<circle cx="452.07" cy="119.19" r="3.1" fill="#fff" stroke="#000" stroke-width="1"/>
<circle cx="462.64" cy="112.91" r="3.1" fill="#fff" stroke="#000" stroke-width="1"/>
<circle cx="480.7" cy="102.17" r="3.1" fill="#fff" stroke="#000" stroke-width="1"/>
<line x1="323.03" y1="242.4" x2="323.03" y2="238.9" stroke="#000" stroke-width="1.15" />
<line x1="323.03" y1="46.8" x2="323.03" y2="50.3" stroke="#000" stroke-width="1.15" />
<line x1="330.52" y1="242.4" x2="330.52" y2="238.9" stroke="#000" stroke-width="1.15" />
<line x1="330.52" y1="46.8" x2="330.52" y2="50.3" stroke="#000" stroke-width="1.15" />
<line x1="336.34" y1="242.4" x2="336.34" y2="238.9" stroke="#000" stroke-width="1.15" />
<line x1="336.34" y1="46.8" x2="336.34" y2="50.3" stroke="#000" stroke-width="1.15" />
<line x1="341.09" y1="242.4" x2="341.09" y2="238.9" stroke="#000" stroke-width="1.15" />
<line x1="341.09" y1="46.8" x2="341.09" y2="50.3" stroke="#000" stroke-width="1.15" />
<line x1="345.11" y1="242.4" x2="345.11" y2="238.9" stroke="#000" stroke-width="1.15" />
<line x1="345.11" y1="46.8" x2="345.11" y2="50.3" stroke="#000" stroke-width="1.15" />
<line x1="348.59" y1="242.4" x2="348.59" y2="238.9" stroke="#000" stroke-width="1.15" />
<line x1="348.59" y1="46.8" x2="348.59" y2="50.3" stroke="#000" stroke-width="1.15" />
<line x1="351.65" y1="242.4" x2="351.65" y2="238.9" stroke="#000" stroke-width="1.15" />
<line x1="351.65" y1="46.8" x2="351.65" y2="50.3" stroke="#000" stroke-width="1.15" />
<line x1="354.4" y1="242.4" x2="354.4" y2="237.1" stroke="#000" stroke-width="1.15" />
<line x1="354.4" y1="46.8" x2="354.4" y2="52.1" stroke="#000" stroke-width="1.15" />
<line x1="372.46" y1="242.4" x2="372.46" y2="238.9" stroke="#000" stroke-width="1.15" />
<line x1="372.46" y1="46.8" x2="372.46" y2="50.3" stroke="#000" stroke-width="1.15" />
<line x1="383.03" y1="242.4" x2="383.03" y2="238.9" stroke="#000" stroke-width="1.15" />
<line x1="383.03" y1="46.8" x2="383.03" y2="50.3" stroke="#000" stroke-width="1.15" />
<line x1="390.52" y1="242.4" x2="390.52" y2="238.9" stroke="#000" stroke-width="1.15" />
<line x1="390.52" y1="46.8" x2="390.52" y2="50.3" stroke="#000" stroke-width="1.15" />
<line x1="396.34" y1="242.4" x2="396.34" y2="238.9" stroke="#000" stroke-width="1.15" />
<line x1="396.34" y1="46.8" x2="396.34" y2="50.3" stroke="#000" stroke-width="1.15" />
<line x1="401.09" y1="242.4" x2="401.09" y2="238.9" stroke="#000" stroke-width="1.15" />
<line x1="401.09" y1="46.8" x2="401.09" y2="50.3" stroke="#000" stroke-width="1.15" />
<line x1="405.11" y1="242.4" x2="405.11" y2="238.9" stroke="#000" stroke-width="1.15" />
<line x1="405.11" y1="46.8" x2="405.11" y2="50.3" stroke="#000" stroke-width="1.15" />
<line x1="408.59" y1="242.4" x2="408.59" y2="238.9" stroke="#000" stroke-width="1.15" />
<line x1="408.59" y1="46.8" x2="408.59" y2="50.3" stroke="#000" stroke-width="1.15" />
<line x1="411.65" y1="242.4" x2="411.65" y2="238.9" stroke="#000" stroke-width="1.15" />
<line x1="411.65" y1="46.8" x2="411.65" y2="50.3" stroke="#000" stroke-width="1.15" />
<line x1="414.4" y1="242.4" x2="414.4" y2="237.1" stroke="#000" stroke-width="1.15" />
<line x1="414.4" y1="46.8" x2="414.4" y2="52.1" stroke="#000" stroke-width="1.15" />
<line x1="432.46" y1="242.4" x2="432.46" y2="238.9" stroke="#000" stroke-width="1.15" />
<line x1="432.46" y1="46.8" x2="432.46" y2="50.3" stroke="#000" stroke-width="1.15" />
<line x1="443.03" y1="242.4" x2="443.03" y2="238.9" stroke="#000" stroke-width="1.15" />
<line x1="443.03" y1="46.8" x2="443.03" y2="50.3" stroke="#000" stroke-width="1.15" />
<line x1="450.52" y1="242.4" x2="450.52" y2="238.9" stroke="#000" stroke-width="1.15" />
<line x1="450.52" y1="46.8" x2="450.52" y2="50.3" stroke="#000" stroke-width="1.15" />
<line x1="456.34" y1="242.4" x2="456.34" y2="238.9" stroke="#000" stroke-width="1.15" />
<line x1="456.34" y1="46.8" x2="456.34" y2="50.3" stroke="#000" stroke-width="1.15" />
<line x1="461.09" y1="242.4" x2="461.09" y2="238.9" stroke="#000" stroke-width="1.15" />
<line x1="461.09" y1="46.8" x2="461.09" y2="50.3" stroke="#000" stroke-width="1.15" />
<line x1="465.11" y1="242.4" x2="465.11" y2="238.9" stroke="#000" stroke-width="1.15" />
<line x1="465.11" y1="46.8" x2="465.11" y2="50.3" stroke="#000" stroke-width="1.15" />
<line x1="468.59" y1="242.4" x2="468.59" y2="238.9" stroke="#000" stroke-width="1.15" />
<line x1="468.59" y1="46.8" x2="468.59" y2="50.3" stroke="#000" stroke-width="1.15" />
<line x1="471.65" y1="242.4" x2="471.65" y2="238.9" stroke="#000" stroke-width="1.15" />
<line x1="471.65" y1="46.8" x2="471.65" y2="50.3" stroke="#000" stroke-width="1.15" />
<line x1="474.4" y1="242.4" x2="474.4" y2="237.1" stroke="#000" stroke-width="1.15" />
<line x1="474.4" y1="46.8" x2="474.4" y2="52.1" stroke="#000" stroke-width="1.15" />
<line x1="492.46" y1="242.4" x2="492.46" y2="238.9" stroke="#000" stroke-width="1.15" />
<line x1="492.46" y1="46.8" x2="492.46" y2="50.3" stroke="#000" stroke-width="1.15" />
<line x1="503.03" y1="242.4" x2="503.03" y2="238.9" stroke="#000" stroke-width="1.15" />
<line x1="503.03" y1="46.8" x2="503.03" y2="50.3" stroke="#000" stroke-width="1.15" />
<line x1="510.52" y1="242.4" x2="510.52" y2="238.9" stroke="#000" stroke-width="1.15" />
<line x1="510.52" y1="46.8" x2="510.52" y2="50.3" stroke="#000" stroke-width="1.15" />
<line x1="516.34" y1="242.4" x2="516.34" y2="238.9" stroke="#000" stroke-width="1.15" />
<line x1="516.34" y1="46.8" x2="516.34" y2="50.3" stroke="#000" stroke-width="1.15" />
<line x1="320.8" y1="241.05" x2="324.3" y2="241.05" stroke="#000" stroke-width="1.15" />
<line x1="518" y1="241.05" x2="514.5" y2="241.05" stroke="#000" stroke-width="1.15" />
<line x1="320.8" y1="236.4" x2="324.3" y2="236.4" stroke="#000" stroke-width="1.15" />
<line x1="518" y1="236.4" x2="514.5" y2="236.4" stroke="#000" stroke-width="1.15" />
<line x1="320.8" y1="232.8" x2="324.3" y2="232.8" stroke="#000" stroke-width="1.15" />
<line x1="518" y1="232.8" x2="514.5" y2="232.8" stroke="#000" stroke-width="1.15" />
<line x1="320.8" y1="229.85" x2="324.3" y2="229.85" stroke="#000" stroke-width="1.15" />
<line x1="518" y1="229.85" x2="514.5" y2="229.85" stroke="#000" stroke-width="1.15" />
<line x1="320.8" y1="227.36" x2="324.3" y2="227.36" stroke="#000" stroke-width="1.15" />
<line x1="518" y1="227.36" x2="514.5" y2="227.36" stroke="#000" stroke-width="1.15" />
<line x1="320.8" y1="225.21" x2="324.3" y2="225.21" stroke="#000" stroke-width="1.15" />
<line x1="518" y1="225.21" x2="514.5" y2="225.21" stroke="#000" stroke-width="1.15" />
<line x1="320.8" y1="223.3" x2="324.3" y2="223.3" stroke="#000" stroke-width="1.15" />
<line x1="518" y1="223.3" x2="514.5" y2="223.3" stroke="#000" stroke-width="1.15" />
<line x1="320.8" y1="221.6" x2="326.1" y2="221.6" stroke="#000" stroke-width="1.15" />
<line x1="518" y1="221.6" x2="512.7" y2="221.6" stroke="#000" stroke-width="1.15" />
<line x1="320.8" y1="210.4" x2="324.3" y2="210.4" stroke="#000" stroke-width="1.15" />
<line x1="518" y1="210.4" x2="514.5" y2="210.4" stroke="#000" stroke-width="1.15" />
<line x1="320.8" y1="203.85" x2="324.3" y2="203.85" stroke="#000" stroke-width="1.15" />
<line x1="518" y1="203.85" x2="514.5" y2="203.85" stroke="#000" stroke-width="1.15" />
<line x1="320.8" y1="199.2" x2="324.3" y2="199.2" stroke="#000" stroke-width="1.15" />
<line x1="518" y1="199.2" x2="514.5" y2="199.2" stroke="#000" stroke-width="1.15" />
<line x1="320.8" y1="195.6" x2="324.3" y2="195.6" stroke="#000" stroke-width="1.15" />
<line x1="518" y1="195.6" x2="514.5" y2="195.6" stroke="#000" stroke-width="1.15" />
<line x1="320.8" y1="192.65" x2="324.3" y2="192.65" stroke="#000" stroke-width="1.15" />
<line x1="518" y1="192.65" x2="514.5" y2="192.65" stroke="#000" stroke-width="1.15" />
<line x1="320.8" y1="190.16" x2="324.3" y2="190.16" stroke="#000" stroke-width="1.15" />
<line x1="518" y1="190.16" x2="514.5" y2="190.16" stroke="#000" stroke-width="1.15" />
<line x1="320.8" y1="188.01" x2="324.3" y2="188.01" stroke="#000" stroke-width="1.15" />
<line x1="518" y1="188.01" x2="514.5" y2="188.01" stroke="#000" stroke-width="1.15" />
<line x1="320.8" y1="186.1" x2="324.3" y2="186.1" stroke="#000" stroke-width="1.15" />
<line x1="518" y1="186.1" x2="514.5" y2="186.1" stroke="#000" stroke-width="1.15" />
<line x1="320.8" y1="184.4" x2="326.1" y2="184.4" stroke="#000" stroke-width="1.15" />
<line x1="518" y1="184.4" x2="512.7" y2="184.4" stroke="#000" stroke-width="1.15" />
<line x1="320.8" y1="173.2" x2="324.3" y2="173.2" stroke="#000" stroke-width="1.15" />
<line x1="518" y1="173.2" x2="514.5" y2="173.2" stroke="#000" stroke-width="1.15" />
<line x1="320.8" y1="166.65" x2="324.3" y2="166.65" stroke="#000" stroke-width="1.15" />
<line x1="518" y1="166.65" x2="514.5" y2="166.65" stroke="#000" stroke-width="1.15" />
<line x1="320.8" y1="162" x2="324.3" y2="162" stroke="#000" stroke-width="1.15" />
<line x1="518" y1="162" x2="514.5" y2="162" stroke="#000" stroke-width="1.15" />
<line x1="320.8" y1="158.4" x2="324.3" y2="158.4" stroke="#000" stroke-width="1.15" />
<line x1="518" y1="158.4" x2="514.5" y2="158.4" stroke="#000" stroke-width="1.15" />
<line x1="320.8" y1="155.45" x2="324.3" y2="155.45" stroke="#000" stroke-width="1.15" />
<line x1="518" y1="155.45" x2="514.5" y2="155.45" stroke="#000" stroke-width="1.15" />
<line x1="320.8" y1="152.96" x2="324.3" y2="152.96" stroke="#000" stroke-width="1.15" />
<line x1="518" y1="152.96" x2="514.5" y2="152.96" stroke="#000" stroke-width="1.15" />
<line x1="320.8" y1="150.81" x2="324.3" y2="150.81" stroke="#000" stroke-width="1.15" />
<line x1="518" y1="150.81" x2="514.5" y2="150.81" stroke="#000" stroke-width="1.15" />
<line x1="320.8" y1="148.9" x2="324.3" y2="148.9" stroke="#000" stroke-width="1.15" />
<line x1="518" y1="148.9" x2="514.5" y2="148.9" stroke="#000" stroke-width="1.15" />
<line x1="320.8" y1="147.2" x2="326.1" y2="147.2" stroke="#000" stroke-width="1.15" />
<line x1="518" y1="147.2" x2="512.7" y2="147.2" stroke="#000" stroke-width="1.15" />
<line x1="320.8" y1="136" x2="324.3" y2="136" stroke="#000" stroke-width="1.15" />
<line x1="518" y1="136" x2="514.5" y2="136" stroke="#000" stroke-width="1.15" />
<line x1="320.8" y1="129.45" x2="324.3" y2="129.45" stroke="#000" stroke-width="1.15" />
<line x1="518" y1="129.45" x2="514.5" y2="129.45" stroke="#000" stroke-width="1.15" />
<line x1="320.8" y1="124.8" x2="324.3" y2="124.8" stroke="#000" stroke-width="1.15" />
<line x1="518" y1="124.8" x2="514.5" y2="124.8" stroke="#000" stroke-width="1.15" />
<line x1="320.8" y1="121.2" x2="324.3" y2="121.2" stroke="#000" stroke-width="1.15" />
<line x1="518" y1="121.2" x2="514.5" y2="121.2" stroke="#000" stroke-width="1.15" />
<line x1="320.8" y1="118.25" x2="324.3" y2="118.25" stroke="#000" stroke-width="1.15" />
<line x1="518" y1="118.25" x2="514.5" y2="118.25" stroke="#000" stroke-width="1.15" />
<line x1="320.8" y1="115.76" x2="324.3" y2="115.76" stroke="#000" stroke-width="1.15" />
<line x1="518" y1="115.76" x2="514.5" y2="115.76" stroke="#000" stroke-width="1.15" />
<line x1="320.8" y1="113.61" x2="324.3" y2="113.61" stroke="#000" stroke-width="1.15" />
<line x1="518" y1="113.61" x2="514.5" y2="113.61" stroke="#000" stroke-width="1.15" />
<line x1="320.8" y1="111.7" x2="324.3" y2="111.7" stroke="#000" stroke-width="1.15" />
<line x1="518" y1="111.7" x2="514.5" y2="111.7" stroke="#000" stroke-width="1.15" />
<line x1="320.8" y1="110" x2="326.1" y2="110" stroke="#000" stroke-width="1.15" />
<line x1="518" y1="110" x2="512.7" y2="110" stroke="#000" stroke-width="1.15" />
<line x1="320.8" y1="98.8" x2="324.3" y2="98.8" stroke="#000" stroke-width="1.15" />
<line x1="518" y1="98.8" x2="514.5" y2="98.8" stroke="#000" stroke-width="1.15" />
<line x1="320.8" y1="92.25" x2="324.3" y2="92.25" stroke="#000" stroke-width="1.15" />
<line x1="518" y1="92.25" x2="514.5" y2="92.25" stroke="#000" stroke-width="1.15" />
<line x1="320.8" y1="87.6" x2="324.3" y2="87.6" stroke="#000" stroke-width="1.15" />
<line x1="518" y1="87.6" x2="514.5" y2="87.6" stroke="#000" stroke-width="1.15" />
<line x1="320.8" y1="84" x2="324.3" y2="84" stroke="#000" stroke-width="1.15" />
<line x1="518" y1="84" x2="514.5" y2="84" stroke="#000" stroke-width="1.15" />
<line x1="320.8" y1="81.05" x2="324.3" y2="81.05" stroke="#000" stroke-width="1.15" />
<line x1="518" y1="81.05" x2="514.5" y2="81.05" stroke="#000" stroke-width="1.15" />
<line x1="320.8" y1="78.56" x2="324.3" y2="78.56" stroke="#000" stroke-width="1.15" />
<line x1="518" y1="78.56" x2="514.5" y2="78.56" stroke="#000" stroke-width="1.15" />
<line x1="320.8" y1="76.41" x2="324.3" y2="76.41" stroke="#000" stroke-width="1.15" />
<line x1="518" y1="76.41" x2="514.5" y2="76.41" stroke="#000" stroke-width="1.15" />
<line x1="320.8" y1="74.5" x2="324.3" y2="74.5" stroke="#000" stroke-width="1.15" />
<line x1="518" y1="74.5" x2="514.5" y2="74.5" stroke="#000" stroke-width="1.15" />
<line x1="320.8" y1="72.8" x2="326.1" y2="72.8" stroke="#000" stroke-width="1.15" />
<line x1="518" y1="72.8" x2="512.7" y2="72.8" stroke="#000" stroke-width="1.15" />
<line x1="320.8" y1="61.6" x2="324.3" y2="61.6" stroke="#000" stroke-width="1.15" />
<line x1="518" y1="61.6" x2="514.5" y2="61.6" stroke="#000" stroke-width="1.15" />
<line x1="320.8" y1="55.05" x2="324.3" y2="55.05" stroke="#000" stroke-width="1.15" />
<line x1="518" y1="55.05" x2="514.5" y2="55.05" stroke="#000" stroke-width="1.15" />
<line x1="320.8" y1="50.4" x2="324.3" y2="50.4" stroke="#000" stroke-width="1.15" />
<line x1="518" y1="50.4" x2="514.5" y2="50.4" stroke="#000" stroke-width="1.15" />
<rect x="320.8" y="46.8" width="197.2" height="195.6" fill="none" stroke="#000" stroke-width="1.5" />
<text x="355.2" y="255.2" font-size="11.4" text-anchor="middle" fill="#000" stroke="#000" stroke-width="0.22"  textLength="15.6" lengthAdjust="spacing">10<tspan font-size="7.98" dy="-4.33">0</tspan></text>
<text x="415.2" y="255.2" font-size="11.4" text-anchor="middle" fill="#000" stroke="#000" stroke-width="0.22"  textLength="15.6" lengthAdjust="spacing">10<tspan font-size="7.98" dy="-4.33">1</tspan></text>
<text x="475.2" y="255.2" font-size="11.4" text-anchor="middle" fill="#000" stroke="#000" stroke-width="0.22"  textLength="15.6" lengthAdjust="spacing">10<tspan font-size="7.98" dy="-4.33">2</tspan></text>
<text x="316.4" y="77" font-size="11.4" text-anchor="end" fill="#000" stroke="#000" stroke-width="0.22"  textLength="15.6" lengthAdjust="spacing">10<tspan font-size="7.98" dy="-4.33">0</tspan></text>
<text x="316.4" y="114.2" font-size="11.4" text-anchor="end" fill="#000" stroke="#000" stroke-width="0.22"  textLength="21.8" lengthAdjust="spacing">10<tspan font-size="7.98" dy="-4.33">−1</tspan></text>
<text x="316.4" y="151.4" font-size="11.4" text-anchor="end" fill="#000" stroke="#000" stroke-width="0.22"  textLength="21.8" lengthAdjust="spacing">10<tspan font-size="7.98" dy="-4.33">−2</tspan></text>
<text x="316.4" y="188.6" font-size="11.4" text-anchor="end" fill="#000" stroke="#000" stroke-width="0.22"  textLength="21.8" lengthAdjust="spacing">10<tspan font-size="7.98" dy="-4.33">−3</tspan></text>
<text x="316.4" y="225.8" font-size="11.4" text-anchor="end" fill="#000" stroke="#000" stroke-width="0.22"  textLength="21.8" lengthAdjust="spacing">10<tspan font-size="7.98" dy="-4.33">−4</tspan></text>
<text x="418.9" y="270.4" font-size="11.5" text-anchor="middle" fill="#000" stroke="#000" stroke-width="0.22"  textLength="56" lengthAdjust="spacing"><tspan font-style="italic">&#969;</tspan><tspan> ,&#160; rad s</tspan><tspan font-size="8.05" dy="-4.37">&#8722;1</tspan></text>
<text x="287.6" y="144.1" font-size="11.5" text-anchor="middle" fill="#000" stroke="#000" stroke-width="0.22" transform="rotate(-90 287.6 144.1)"  textLength="35" lengthAdjust="spacing"><tspan font-style="italic">G</tspan><tspan> ,&#160;Pa</tspan></text>
<text x="419.4" y="40" font-size="11.5" text-anchor="middle" fill="#000" stroke="#000" stroke-width="0.22"  textLength="116" lengthAdjust="spacing">M1 (BSA + Fg + IgG)</text>
<rect x="436.75" y="215" width="70.75" height="18" fill="#fff" stroke="#000" stroke-width="1" rx="3.5" ry="3.5"/>
<text x="472.12" y="228" font-size="11.5" text-anchor="middle" fill="#000" stroke="#000" stroke-width="0.22"  textLength="64" lengthAdjust="spacing">20.4 &#177; 0.4&#176;C</text>
<rect x="328.2" y="54.5" width="65" height="64.1" fill="#fff" stroke="none" stroke-width="1" />
<clipPath id="clipfi"><rect x="328.2" y="54.5" width="65" height="64.1"/></clipPath>
<g clip-path="url(#clipfi)">
<line x1="330.8" y1="116.3" x2="392.1" y2="55" stroke="#000" stroke-width="1.2" />
<circle cx="330.8" cy="112.7" r="1.8" fill="#fff" stroke="#000" stroke-width="0.9"/>
<circle cx="339.62" cy="104.75" r="1.8" fill="#fff" stroke="#000" stroke-width="0.9"/>
<circle cx="344.78" cy="100.3" r="1.8" fill="#fff" stroke="#000" stroke-width="0.9"/>
<circle cx="348.44" cy="96.95" r="1.8" fill="#fff" stroke="#000" stroke-width="0.9"/>
<circle cx="351.28" cy="95.08" r="1.8" fill="#fff" stroke="#000" stroke-width="0.9"/>
<circle cx="353.16" cy="93.63" r="1.8" fill="#fff" stroke="#000" stroke-width="0.9"/>
<circle cx="355.03" cy="92.01" r="1.8" fill="#fff" stroke="#000" stroke-width="0.9"/>
<circle cx="356.91" cy="89.88" r="1.8" fill="#fff" stroke="#000" stroke-width="0.9"/>
<circle cx="358.78" cy="88.05" r="1.8" fill="#fff" stroke="#000" stroke-width="0.9"/>
<circle cx="360.66" cy="86.37" r="1.8" fill="#fff" stroke="#000" stroke-width="0.9"/>
<circle cx="362.53" cy="84.69" r="1.8" fill="#fff" stroke="#000" stroke-width="0.9"/>
<circle cx="364.41" cy="83.01" r="1.8" fill="#fff" stroke="#000" stroke-width="0.9"/>
<circle cx="366.28" cy="81.33" r="1.8" fill="#fff" stroke="#000" stroke-width="0.9"/>
<circle cx="368.16" cy="79.65" r="1.8" fill="#fff" stroke="#000" stroke-width="0.9"/>
<circle cx="370.03" cy="77.97" r="1.8" fill="#fff" stroke="#000" stroke-width="0.9"/>
<circle cx="371.91" cy="76.23" r="1.8" fill="#fff" stroke="#000" stroke-width="0.9"/>
<circle cx="373.78" cy="74.48" r="1.8" fill="#fff" stroke="#000" stroke-width="0.9"/>
<circle cx="375.66" cy="72.74" r="1.8" fill="#fff" stroke="#000" stroke-width="0.9"/>
<circle cx="377.53" cy="71" r="1.8" fill="#fff" stroke="#000" stroke-width="0.9"/>
<circle cx="379.41" cy="69.25" r="1.8" fill="#fff" stroke="#000" stroke-width="0.9"/>
<circle cx="381.28" cy="67.51" r="1.8" fill="#fff" stroke="#000" stroke-width="0.9"/>
<circle cx="383.16" cy="65.77" r="1.8" fill="#fff" stroke="#000" stroke-width="0.9"/>
<circle cx="385.03" cy="64.02" r="1.8" fill="#fff" stroke="#000" stroke-width="0.9"/>
<circle cx="386.91" cy="62.28" r="1.8" fill="#fff" stroke="#000" stroke-width="0.9"/>
<circle cx="388.78" cy="60.52" r="1.8" fill="#fff" stroke="#000" stroke-width="0.9"/>
<circle cx="390.66" cy="58.64" r="1.8" fill="#fff" stroke="#000" stroke-width="0.9"/>
</g>
<line x1="328.2" y1="112.1" x2="331.8" y2="112.1" stroke="#000" stroke-width="1" />
<line x1="393.2" y1="112.1" x2="389.6" y2="112.1" stroke="#000" stroke-width="1" />
<line x1="328.2" y1="107.01" x2="331.8" y2="107.01" stroke="#000" stroke-width="1" />
<line x1="393.2" y1="107.01" x2="389.6" y2="107.01" stroke="#000" stroke-width="1" />
<line x1="328.2" y1="103.4" x2="331.8" y2="103.4" stroke="#000" stroke-width="1" />
<line x1="393.2" y1="103.4" x2="389.6" y2="103.4" stroke="#000" stroke-width="1" />
<line x1="328.2" y1="100.6" x2="331.8" y2="100.6" stroke="#000" stroke-width="1" />
<line x1="393.2" y1="100.6" x2="389.6" y2="100.6" stroke="#000" stroke-width="1" />
<line x1="328.2" y1="98.31" x2="331.8" y2="98.31" stroke="#000" stroke-width="1" />
<line x1="393.2" y1="98.31" x2="389.6" y2="98.31" stroke="#000" stroke-width="1" />
<line x1="328.2" y1="96.38" x2="331.8" y2="96.38" stroke="#000" stroke-width="1" />
<line x1="393.2" y1="96.38" x2="389.6" y2="96.38" stroke="#000" stroke-width="1" />
<line x1="328.2" y1="94.7" x2="331.8" y2="94.7" stroke="#000" stroke-width="1" />
<line x1="393.2" y1="94.7" x2="389.6" y2="94.7" stroke="#000" stroke-width="1" />
<line x1="328.2" y1="93.22" x2="331.8" y2="93.22" stroke="#000" stroke-width="1" />
<line x1="393.2" y1="93.22" x2="389.6" y2="93.22" stroke="#000" stroke-width="1" />
<line x1="328.2" y1="91.9" x2="333.6" y2="91.9" stroke="#000" stroke-width="1" />
<line x1="393.2" y1="91.9" x2="387.8" y2="91.9" stroke="#000" stroke-width="1" />
<line x1="328.2" y1="83.2" x2="331.8" y2="83.2" stroke="#000" stroke-width="1" />
<line x1="393.2" y1="83.2" x2="389.6" y2="83.2" stroke="#000" stroke-width="1" />
<line x1="328.2" y1="78.11" x2="331.8" y2="78.11" stroke="#000" stroke-width="1" />
<line x1="393.2" y1="78.11" x2="389.6" y2="78.11" stroke="#000" stroke-width="1" />
<line x1="328.2" y1="74.5" x2="331.8" y2="74.5" stroke="#000" stroke-width="1" />
<line x1="393.2" y1="74.5" x2="389.6" y2="74.5" stroke="#000" stroke-width="1" />
<line x1="328.2" y1="71.7" x2="331.8" y2="71.7" stroke="#000" stroke-width="1" />
<line x1="393.2" y1="71.7" x2="389.6" y2="71.7" stroke="#000" stroke-width="1" />
<line x1="328.2" y1="69.41" x2="331.8" y2="69.41" stroke="#000" stroke-width="1" />
<line x1="393.2" y1="69.41" x2="389.6" y2="69.41" stroke="#000" stroke-width="1" />
<line x1="328.2" y1="67.48" x2="331.8" y2="67.48" stroke="#000" stroke-width="1" />
<line x1="393.2" y1="67.48" x2="389.6" y2="67.48" stroke="#000" stroke-width="1" />
<line x1="328.2" y1="65.8" x2="331.8" y2="65.8" stroke="#000" stroke-width="1" />
<line x1="393.2" y1="65.8" x2="389.6" y2="65.8" stroke="#000" stroke-width="1" />
<line x1="328.2" y1="64.32" x2="331.8" y2="64.32" stroke="#000" stroke-width="1" />
<line x1="393.2" y1="64.32" x2="389.6" y2="64.32" stroke="#000" stroke-width="1" />
<line x1="328.2" y1="63" x2="333.6" y2="63" stroke="#000" stroke-width="1" />
<line x1="393.2" y1="63" x2="387.8" y2="63" stroke="#000" stroke-width="1" />
<line x1="362.9" y1="118.6" x2="362.9" y2="113.4" stroke="#000" stroke-width="1" />
<line x1="362.9" y1="54.5" x2="362.9" y2="59.7" stroke="#000" stroke-width="1" />
<rect x="328.2" y="54.5" width="65" height="64.1" fill="none" stroke="#000" stroke-width="1.4" />
<text x="363.4" y="130.4" font-size="11" text-anchor="middle" fill="#000" stroke="#000" stroke-width="0.22"  textLength="21" lengthAdjust="spacing">10<tspan font-size="7.98" dy="-4.33">−1</tspan></text>
<text x="396.7" y="65.8" font-size="11" text-anchor="start" fill="#000" stroke="#000" stroke-width="0.22"  textLength="21" lengthAdjust="spacing">10<tspan font-size="7.98" dy="-4.33">−1</tspan></text>
<text x="396.7" y="94.7" font-size="11" text-anchor="start" fill="#000" stroke="#000" stroke-width="0.22"  textLength="21" lengthAdjust="spacing">10<tspan font-size="7.98" dy="-4.33">−2</tspan></text>
<text x="360.9" y="145.1" font-size="11.5" text-anchor="middle" fill="#000" stroke="#000" stroke-width="0.22"  textLength="22" lengthAdjust="spacing"><tspan font-style="italic">&#964;</tspan><tspan> ,&#160; s</tspan></text>
<text x="434.2" y="86.85" font-size="11.5" text-anchor="middle" fill="#000" stroke="#000" stroke-width="0.22" transform="rotate(-90 434.2 86.85)"  textLength="61.5" lengthAdjust="spacing"><tspan>&#10216;&#916;</tspan><tspan font-style="italic">r</tspan><tspan font-size="8.05" dy="-4.37">2</tspan><tspan dy="4.37">&#10217; ,&#160; &#956;m</tspan><tspan font-size="8.05" dy="-4.37">2</tspan></text>
<clipPath id="clipg"><rect x="43.75" y="321.8" width="197.05" height="195.6"/></clipPath>
<g clip-path="url(#clipg)">
<path d="M51.25 456.6 L141.88 404.3 L232.5 352 L232.5 360.6 L141.88 412.9 L51.25 465.2 Z" fill="#e4e4e4" stroke="none" stroke-width="1" />
<path d="M51.25 460.9 L141.88 408.6 L232.5 356.3" fill="none" stroke="#444" stroke-width="0.8" />
<path d="M95 507.19 L96.53 505.36 L98.06 503.53 L99.58 501.7 L101.11 499.87 L102.64 498.04 L104.17 496.22 L105.69 494.39 L107.22 492.56 L108.75 490.74 L110.28 488.92 L111.81 487.09 L113.33 485.27 L114.86 483.45 L116.39 481.64 L117.92 479.82 L119.44 478.01 L120.97 476.2 L122.5 474.39 L124.03 472.58 L125.56 470.78 L127.08 468.98 L128.61 467.19 L130.14 465.4 L131.67 463.62 L133.19 461.84 L134.72 460.07 L136.25 458.3 L137.78 456.55 L139.31 454.8 L140.83 453.07 L142.36 451.34 L143.89 449.63 L145.42 447.94 L146.94 446.25 L148.47 444.59 L150 442.94 L151.53 441.32 L153.06 439.72 L154.58 438.14 L156.11 436.59 L157.64 435.07 L159.17 433.58 L160.69 432.12 L162.22 430.71 L163.75 429.32 L165.28 427.99 L166.81 426.69 L168.33 425.44 L169.86 424.24 L171.39 423.09 L172.92 421.98 L174.44 420.94 L175.97 419.94 L177.5 419 L179.03 418.11 L180.56 417.27 L182.08 416.49 L183.61 415.76 L185.14 415.08 L186.67 414.45 L188.19 413.87 L189.72 413.34 L191.25 412.84 L192.78 412.39 L194.31 411.98 L195.83 411.6 L197.36 411.26 L198.89 410.95 L200.42 410.67 L201.94 410.41 L203.47 410.18 L205 409.98 L206.53 409.79 L208.06 409.62 L209.58 409.47 L211.11 409.33 L212.64 409.21 L214.17 409.1 L215.69 409.01 L217.22 408.92 L218.75 408.84 L220.28 408.77 L221.81 408.71 L223.33 408.65 L224.86 408.6 L226.39 408.56 L227.92 408.52 L229.44 408.49 L230.97 408.45 L232.5 408.43 L232.5 417.88 L230.97 417.91 L229.44 417.95 L227.92 417.99 L226.39 418.04 L224.86 418.09 L223.33 418.15 L221.81 418.22 L220.28 418.3 L218.75 418.38 L217.22 418.48 L215.69 418.58 L214.17 418.7 L212.64 418.83 L211.11 418.98 L209.58 419.14 L208.06 419.33 L206.53 419.53 L205 419.75 L203.47 420 L201.94 420.28 L200.42 420.58 L198.89 420.91 L197.36 421.28 L195.83 421.68 L194.31 422.13 L192.78 422.61 L191.25 423.13 L189.72 423.7 L188.19 424.32 L186.67 424.98 L185.14 425.7 L183.61 426.47 L182.08 427.29 L180.56 428.17 L179.03 429.09 L177.5 430.08 L175.97 431.11 L174.44 432.2 L172.92 433.34 L171.39 434.53 L169.86 435.77 L168.33 437.05 L166.81 438.38 L165.28 439.75 L163.75 441.16 L162.22 442.6 L160.69 444.09 L159.17 445.6 L157.64 447.14 L156.11 448.71 L154.58 450.31 L153.06 451.93 L151.53 453.57 L150 455.23 L148.47 456.91 L146.94 458.6 L145.42 460.31 L143.89 462.03 L142.36 463.76 L140.83 465.5 L139.31 467.26 L137.78 469.02 L136.25 470.79 L134.72 472.56 L133.19 474.34 L131.67 476.13 L130.14 477.92 L128.61 479.72 L127.08 481.52 L125.56 483.33 L124.03 485.13 L122.5 486.95 L120.97 488.76 L119.44 490.57 L117.92 492.39 L116.39 494.21 L114.86 496.03 L113.33 497.85 L111.81 499.68 L110.28 501.5 L108.75 503.32 L107.22 505.15 L105.69 506.98 L104.17 508.81 L102.64 510.63 L101.11 512.46 L99.58 514.29 L98.06 516.12 L96.53 517.95 L95 519.78 Z" fill="#a6a6a6" stroke="none" stroke-width="1" />
<path d="M95 513.49 L96.53 511.65 L98.06 509.83 L99.58 508 L101.11 506.17 L102.64 504.34 L104.17 502.51 L105.69 500.68 L107.22 498.86 L108.75 497.03 L110.28 495.21 L111.81 493.38 L113.33 491.56 L114.86 489.74 L116.39 487.92 L117.92 486.11 L119.44 484.29 L120.97 482.48 L122.5 480.67 L124.03 478.86 L125.56 477.05 L127.08 475.25 L128.61 473.46 L130.14 471.66 L131.67 469.87 L133.19 468.09 L134.72 466.32 L136.25 464.55 L137.78 462.78 L139.31 461.03 L140.83 459.29 L142.36 457.55 L143.89 455.83 L145.42 454.12 L146.94 452.43 L148.47 450.75 L150 449.09 L151.53 447.44 L153.06 445.82 L154.58 444.22 L156.11 442.65 L157.64 441.11 L159.17 439.59 L160.69 438.1 L162.22 436.65 L163.75 435.24 L165.28 433.87 L166.81 432.53 L168.33 431.25 L169.86 430 L171.39 428.81 L172.92 427.66 L174.44 426.57 L175.97 425.53 L177.5 424.54 L179.03 423.6 L180.56 422.72 L182.08 421.89 L183.61 421.12 L185.14 420.39 L186.67 419.72 L188.19 419.1 L189.72 418.52 L191.25 417.99 L192.78 417.5 L194.31 417.05 L195.83 416.64 L197.36 416.27 L198.89 415.93 L200.42 415.62 L201.94 415.34 L203.47 415.09 L205 414.86 L206.53 414.66 L208.06 414.47 L209.58 414.31 L211.11 414.16 L212.64 414.02 L214.17 413.9 L215.69 413.79 L217.22 413.7 L218.75 413.61 L220.28 413.53 L221.81 413.47 L223.33 413.4 L224.86 413.35 L226.39 413.3 L227.92 413.26 L229.44 413.22 L230.97 413.18 L232.5 413.15" fill="none" stroke="#555" stroke-width="0.8" />
</g>
<circle cx="108.3" cy="480.75" r="3.3" fill="#000" stroke="#000" stroke-width="0.4"/>
<circle cx="112.14" cy="477.08" r="3.3" fill="#000" stroke="#000" stroke-width="0.4"/>
<circle cx="115.98" cy="473.41" r="3.3" fill="#000" stroke="#000" stroke-width="0.4"/>
<circle cx="119.82" cy="469.74" r="3.3" fill="#000" stroke="#000" stroke-width="0.4"/>
<circle cx="123.66" cy="466.06" r="3.3" fill="#000" stroke="#000" stroke-width="0.4"/>
<circle cx="127.5" cy="462.39" r="3.3" fill="#000" stroke="#000" stroke-width="0.4"/>
<circle cx="131.34" cy="458.83" r="3.3" fill="#000" stroke="#000" stroke-width="0.4"/>
<circle cx="135.18" cy="455.47" r="3.3" fill="#000" stroke="#000" stroke-width="0.4"/>
<circle cx="139.02" cy="452.11" r="3.3" fill="#000" stroke="#000" stroke-width="0.4"/>
<circle cx="142.86" cy="449.1" r="3.3" fill="#000" stroke="#000" stroke-width="0.4"/>
<circle cx="146.7" cy="446.22" r="3.3" fill="#000" stroke="#000" stroke-width="0.4"/>
<circle cx="150.54" cy="443.34" r="3.3" fill="#000" stroke="#000" stroke-width="0.4"/>
<circle cx="154.38" cy="440.46" r="3.3" fill="#000" stroke="#000" stroke-width="0.4"/>
<circle cx="158.22" cy="437.74" r="3.3" fill="#000" stroke="#000" stroke-width="0.4"/>
<circle cx="162.06" cy="435.06" r="3.3" fill="#000" stroke="#000" stroke-width="0.4"/>
<circle cx="167.88" cy="431.04" r="3.3" fill="#000" stroke="#000" stroke-width="0.4"/>
<circle cx="175.37" cy="426.8" r="3.3" fill="#000" stroke="#000" stroke-width="0.4"/>
<circle cx="185.94" cy="421.06" r="3.3" fill="#000" stroke="#000" stroke-width="0.4"/>
<circle cx="204" cy="413.43" r="3.3" fill="#000" stroke="#000" stroke-width="0.4"/>
<circle cx="81.42" cy="443.49" r="3.1" fill="#fff" stroke="#000" stroke-width="1"/>
<circle cx="85.26" cy="441.27" r="3.1" fill="#fff" stroke="#000" stroke-width="1"/>
<circle cx="89.1" cy="439.06" r="3.1" fill="#fff" stroke="#000" stroke-width="1"/>
<circle cx="92.94" cy="436.84" r="3.1" fill="#fff" stroke="#000" stroke-width="1"/>
<circle cx="96.78" cy="434.62" r="3.1" fill="#fff" stroke="#000" stroke-width="1"/>
<circle cx="100.62" cy="432.41" r="3.1" fill="#fff" stroke="#000" stroke-width="1"/>
<circle cx="104.46" cy="430.19" r="3.1" fill="#fff" stroke="#000" stroke-width="1"/>
<circle cx="108.3" cy="427.98" r="3.1" fill="#fff" stroke="#000" stroke-width="1"/>
<circle cx="112.14" cy="425.76" r="3.1" fill="#fff" stroke="#000" stroke-width="1"/>
<circle cx="115.98" cy="423.54" r="3.1" fill="#fff" stroke="#000" stroke-width="1"/>
<circle cx="119.82" cy="421.33" r="3.1" fill="#fff" stroke="#000" stroke-width="1"/>
<circle cx="123.66" cy="419.11" r="3.1" fill="#fff" stroke="#000" stroke-width="1"/>
<circle cx="127.5" cy="416.89" r="3.1" fill="#fff" stroke="#000" stroke-width="1"/>
<circle cx="131.34" cy="414.68" r="3.1" fill="#fff" stroke="#000" stroke-width="1"/>
<circle cx="135.18" cy="412.46" r="3.1" fill="#fff" stroke="#000" stroke-width="1"/>
<circle cx="139.02" cy="410.25" r="3.1" fill="#fff" stroke="#000" stroke-width="1"/>
<circle cx="142.86" cy="408.03" r="3.1" fill="#fff" stroke="#000" stroke-width="1"/>
<circle cx="146.7" cy="405.81" r="3.1" fill="#fff" stroke="#000" stroke-width="1"/>
<circle cx="150.54" cy="403.6" r="3.1" fill="#fff" stroke="#000" stroke-width="1"/>
<circle cx="154.38" cy="401.38" r="3.1" fill="#fff" stroke="#000" stroke-width="1"/>
<circle cx="158.22" cy="399.17" r="3.1" fill="#fff" stroke="#000" stroke-width="1"/>
<circle cx="162.06" cy="396.95" r="3.1" fill="#fff" stroke="#000" stroke-width="1"/>
<circle cx="167.88" cy="393.59" r="3.1" fill="#fff" stroke="#000" stroke-width="1"/>
<circle cx="175.37" cy="389.27" r="3.1" fill="#fff" stroke="#000" stroke-width="1"/>
<circle cx="185.94" cy="383.17" r="3.1" fill="#fff" stroke="#000" stroke-width="1"/>
<circle cx="204" cy="372.75" r="3.1" fill="#fff" stroke="#000" stroke-width="1"/>
<line x1="46.03" y1="517.4" x2="46.03" y2="513.9" stroke="#000" stroke-width="1.15" />
<line x1="46.03" y1="321.8" x2="46.03" y2="325.3" stroke="#000" stroke-width="1.15" />
<line x1="53.52" y1="517.4" x2="53.52" y2="513.9" stroke="#000" stroke-width="1.15" />
<line x1="53.52" y1="321.8" x2="53.52" y2="325.3" stroke="#000" stroke-width="1.15" />
<line x1="59.34" y1="517.4" x2="59.34" y2="513.9" stroke="#000" stroke-width="1.15" />
<line x1="59.34" y1="321.8" x2="59.34" y2="325.3" stroke="#000" stroke-width="1.15" />
<line x1="64.09" y1="517.4" x2="64.09" y2="513.9" stroke="#000" stroke-width="1.15" />
<line x1="64.09" y1="321.8" x2="64.09" y2="325.3" stroke="#000" stroke-width="1.15" />
<line x1="68.11" y1="517.4" x2="68.11" y2="513.9" stroke="#000" stroke-width="1.15" />
<line x1="68.11" y1="321.8" x2="68.11" y2="325.3" stroke="#000" stroke-width="1.15" />
<line x1="71.59" y1="517.4" x2="71.59" y2="513.9" stroke="#000" stroke-width="1.15" />
<line x1="71.59" y1="321.8" x2="71.59" y2="325.3" stroke="#000" stroke-width="1.15" />
<line x1="74.65" y1="517.4" x2="74.65" y2="513.9" stroke="#000" stroke-width="1.15" />
<line x1="74.65" y1="321.8" x2="74.65" y2="325.3" stroke="#000" stroke-width="1.15" />
<line x1="77.4" y1="517.4" x2="77.4" y2="512.1" stroke="#000" stroke-width="1.15" />
<line x1="77.4" y1="321.8" x2="77.4" y2="327.1" stroke="#000" stroke-width="1.15" />
<line x1="95.46" y1="517.4" x2="95.46" y2="513.9" stroke="#000" stroke-width="1.15" />
<line x1="95.46" y1="321.8" x2="95.46" y2="325.3" stroke="#000" stroke-width="1.15" />
<line x1="106.03" y1="517.4" x2="106.03" y2="513.9" stroke="#000" stroke-width="1.15" />
<line x1="106.03" y1="321.8" x2="106.03" y2="325.3" stroke="#000" stroke-width="1.15" />
<line x1="113.52" y1="517.4" x2="113.52" y2="513.9" stroke="#000" stroke-width="1.15" />
<line x1="113.52" y1="321.8" x2="113.52" y2="325.3" stroke="#000" stroke-width="1.15" />
<line x1="119.34" y1="517.4" x2="119.34" y2="513.9" stroke="#000" stroke-width="1.15" />
<line x1="119.34" y1="321.8" x2="119.34" y2="325.3" stroke="#000" stroke-width="1.15" />
<line x1="124.09" y1="517.4" x2="124.09" y2="513.9" stroke="#000" stroke-width="1.15" />
<line x1="124.09" y1="321.8" x2="124.09" y2="325.3" stroke="#000" stroke-width="1.15" />
<line x1="128.11" y1="517.4" x2="128.11" y2="513.9" stroke="#000" stroke-width="1.15" />
<line x1="128.11" y1="321.8" x2="128.11" y2="325.3" stroke="#000" stroke-width="1.15" />
<line x1="131.59" y1="517.4" x2="131.59" y2="513.9" stroke="#000" stroke-width="1.15" />
<line x1="131.59" y1="321.8" x2="131.59" y2="325.3" stroke="#000" stroke-width="1.15" />
<line x1="134.65" y1="517.4" x2="134.65" y2="513.9" stroke="#000" stroke-width="1.15" />
<line x1="134.65" y1="321.8" x2="134.65" y2="325.3" stroke="#000" stroke-width="1.15" />
<line x1="137.4" y1="517.4" x2="137.4" y2="512.1" stroke="#000" stroke-width="1.15" />
<line x1="137.4" y1="321.8" x2="137.4" y2="327.1" stroke="#000" stroke-width="1.15" />
<line x1="155.46" y1="517.4" x2="155.46" y2="513.9" stroke="#000" stroke-width="1.15" />
<line x1="155.46" y1="321.8" x2="155.46" y2="325.3" stroke="#000" stroke-width="1.15" />
<line x1="166.03" y1="517.4" x2="166.03" y2="513.9" stroke="#000" stroke-width="1.15" />
<line x1="166.03" y1="321.8" x2="166.03" y2="325.3" stroke="#000" stroke-width="1.15" />
<line x1="173.52" y1="517.4" x2="173.52" y2="513.9" stroke="#000" stroke-width="1.15" />
<line x1="173.52" y1="321.8" x2="173.52" y2="325.3" stroke="#000" stroke-width="1.15" />
<line x1="179.34" y1="517.4" x2="179.34" y2="513.9" stroke="#000" stroke-width="1.15" />
<line x1="179.34" y1="321.8" x2="179.34" y2="325.3" stroke="#000" stroke-width="1.15" />
<line x1="184.09" y1="517.4" x2="184.09" y2="513.9" stroke="#000" stroke-width="1.15" />
<line x1="184.09" y1="321.8" x2="184.09" y2="325.3" stroke="#000" stroke-width="1.15" />
<line x1="188.11" y1="517.4" x2="188.11" y2="513.9" stroke="#000" stroke-width="1.15" />
<line x1="188.11" y1="321.8" x2="188.11" y2="325.3" stroke="#000" stroke-width="1.15" />
<line x1="191.59" y1="517.4" x2="191.59" y2="513.9" stroke="#000" stroke-width="1.15" />
<line x1="191.59" y1="321.8" x2="191.59" y2="325.3" stroke="#000" stroke-width="1.15" />
<line x1="194.65" y1="517.4" x2="194.65" y2="513.9" stroke="#000" stroke-width="1.15" />
<line x1="194.65" y1="321.8" x2="194.65" y2="325.3" stroke="#000" stroke-width="1.15" />
<line x1="197.4" y1="517.4" x2="197.4" y2="512.1" stroke="#000" stroke-width="1.15" />
<line x1="197.4" y1="321.8" x2="197.4" y2="327.1" stroke="#000" stroke-width="1.15" />
<line x1="215.46" y1="517.4" x2="215.46" y2="513.9" stroke="#000" stroke-width="1.15" />
<line x1="215.46" y1="321.8" x2="215.46" y2="325.3" stroke="#000" stroke-width="1.15" />
<line x1="226.03" y1="517.4" x2="226.03" y2="513.9" stroke="#000" stroke-width="1.15" />
<line x1="226.03" y1="321.8" x2="226.03" y2="325.3" stroke="#000" stroke-width="1.15" />
<line x1="233.52" y1="517.4" x2="233.52" y2="513.9" stroke="#000" stroke-width="1.15" />
<line x1="233.52" y1="321.8" x2="233.52" y2="325.3" stroke="#000" stroke-width="1.15" />
<line x1="239.34" y1="517.4" x2="239.34" y2="513.9" stroke="#000" stroke-width="1.15" />
<line x1="239.34" y1="321.8" x2="239.34" y2="325.3" stroke="#000" stroke-width="1.15" />
<line x1="43.75" y1="515.86" x2="47.25" y2="515.86" stroke="#000" stroke-width="1.15" />
<line x1="240.8" y1="515.86" x2="237.3" y2="515.86" stroke="#000" stroke-width="1.15" />
<line x1="43.75" y1="509.52" x2="47.25" y2="509.52" stroke="#000" stroke-width="1.15" />
<line x1="240.8" y1="509.52" x2="237.3" y2="509.52" stroke="#000" stroke-width="1.15" />
<line x1="43.75" y1="505.03" x2="47.25" y2="505.03" stroke="#000" stroke-width="1.15" />
<line x1="240.8" y1="505.03" x2="237.3" y2="505.03" stroke="#000" stroke-width="1.15" />
<line x1="43.75" y1="501.54" x2="47.25" y2="501.54" stroke="#000" stroke-width="1.15" />
<line x1="240.8" y1="501.54" x2="237.3" y2="501.54" stroke="#000" stroke-width="1.15" />
<line x1="43.75" y1="498.69" x2="47.25" y2="498.69" stroke="#000" stroke-width="1.15" />
<line x1="240.8" y1="498.69" x2="237.3" y2="498.69" stroke="#000" stroke-width="1.15" />
<line x1="43.75" y1="496.28" x2="47.25" y2="496.28" stroke="#000" stroke-width="1.15" />
<line x1="240.8" y1="496.28" x2="237.3" y2="496.28" stroke="#000" stroke-width="1.15" />
<line x1="43.75" y1="494.19" x2="47.25" y2="494.19" stroke="#000" stroke-width="1.15" />
<line x1="240.8" y1="494.19" x2="237.3" y2="494.19" stroke="#000" stroke-width="1.15" />
<line x1="43.75" y1="492.35" x2="47.25" y2="492.35" stroke="#000" stroke-width="1.15" />
<line x1="240.8" y1="492.35" x2="237.3" y2="492.35" stroke="#000" stroke-width="1.15" />
<line x1="43.75" y1="490.7" x2="49.05" y2="490.7" stroke="#000" stroke-width="1.15" />
<line x1="240.8" y1="490.7" x2="235.5" y2="490.7" stroke="#000" stroke-width="1.15" />
<line x1="43.75" y1="479.86" x2="47.25" y2="479.86" stroke="#000" stroke-width="1.15" />
<line x1="240.8" y1="479.86" x2="237.3" y2="479.86" stroke="#000" stroke-width="1.15" />
<line x1="43.75" y1="473.52" x2="47.25" y2="473.52" stroke="#000" stroke-width="1.15" />
<line x1="240.8" y1="473.52" x2="237.3" y2="473.52" stroke="#000" stroke-width="1.15" />
<line x1="43.75" y1="469.03" x2="47.25" y2="469.03" stroke="#000" stroke-width="1.15" />
<line x1="240.8" y1="469.03" x2="237.3" y2="469.03" stroke="#000" stroke-width="1.15" />
<line x1="43.75" y1="465.54" x2="47.25" y2="465.54" stroke="#000" stroke-width="1.15" />
<line x1="240.8" y1="465.54" x2="237.3" y2="465.54" stroke="#000" stroke-width="1.15" />
<line x1="43.75" y1="462.69" x2="47.25" y2="462.69" stroke="#000" stroke-width="1.15" />
<line x1="240.8" y1="462.69" x2="237.3" y2="462.69" stroke="#000" stroke-width="1.15" />
<line x1="43.75" y1="460.28" x2="47.25" y2="460.28" stroke="#000" stroke-width="1.15" />
<line x1="240.8" y1="460.28" x2="237.3" y2="460.28" stroke="#000" stroke-width="1.15" />
<line x1="43.75" y1="458.19" x2="47.25" y2="458.19" stroke="#000" stroke-width="1.15" />
<line x1="240.8" y1="458.19" x2="237.3" y2="458.19" stroke="#000" stroke-width="1.15" />
<line x1="43.75" y1="456.35" x2="47.25" y2="456.35" stroke="#000" stroke-width="1.15" />
<line x1="240.8" y1="456.35" x2="237.3" y2="456.35" stroke="#000" stroke-width="1.15" />
<line x1="43.75" y1="454.7" x2="49.05" y2="454.7" stroke="#000" stroke-width="1.15" />
<line x1="240.8" y1="454.7" x2="235.5" y2="454.7" stroke="#000" stroke-width="1.15" />
<line x1="43.75" y1="443.86" x2="47.25" y2="443.86" stroke="#000" stroke-width="1.15" />
<line x1="240.8" y1="443.86" x2="237.3" y2="443.86" stroke="#000" stroke-width="1.15" />
<line x1="43.75" y1="437.52" x2="47.25" y2="437.52" stroke="#000" stroke-width="1.15" />
<line x1="240.8" y1="437.52" x2="237.3" y2="437.52" stroke="#000" stroke-width="1.15" />
<line x1="43.75" y1="433.03" x2="47.25" y2="433.03" stroke="#000" stroke-width="1.15" />
<line x1="240.8" y1="433.03" x2="237.3" y2="433.03" stroke="#000" stroke-width="1.15" />
<line x1="43.75" y1="429.54" x2="47.25" y2="429.54" stroke="#000" stroke-width="1.15" />
<line x1="240.8" y1="429.54" x2="237.3" y2="429.54" stroke="#000" stroke-width="1.15" />
<line x1="43.75" y1="426.69" x2="47.25" y2="426.69" stroke="#000" stroke-width="1.15" />
<line x1="240.8" y1="426.69" x2="237.3" y2="426.69" stroke="#000" stroke-width="1.15" />
<line x1="43.75" y1="424.28" x2="47.25" y2="424.28" stroke="#000" stroke-width="1.15" />
<line x1="240.8" y1="424.28" x2="237.3" y2="424.28" stroke="#000" stroke-width="1.15" />
<line x1="43.75" y1="422.19" x2="47.25" y2="422.19" stroke="#000" stroke-width="1.15" />
<line x1="240.8" y1="422.19" x2="237.3" y2="422.19" stroke="#000" stroke-width="1.15" />
<line x1="43.75" y1="420.35" x2="47.25" y2="420.35" stroke="#000" stroke-width="1.15" />
<line x1="240.8" y1="420.35" x2="237.3" y2="420.35" stroke="#000" stroke-width="1.15" />
<line x1="43.75" y1="418.7" x2="49.05" y2="418.7" stroke="#000" stroke-width="1.15" />
<line x1="240.8" y1="418.7" x2="235.5" y2="418.7" stroke="#000" stroke-width="1.15" />
<line x1="43.75" y1="407.86" x2="47.25" y2="407.86" stroke="#000" stroke-width="1.15" />
<line x1="240.8" y1="407.86" x2="237.3" y2="407.86" stroke="#000" stroke-width="1.15" />
<line x1="43.75" y1="401.52" x2="47.25" y2="401.52" stroke="#000" stroke-width="1.15" />
<line x1="240.8" y1="401.52" x2="237.3" y2="401.52" stroke="#000" stroke-width="1.15" />
<line x1="43.75" y1="397.03" x2="47.25" y2="397.03" stroke="#000" stroke-width="1.15" />
<line x1="240.8" y1="397.03" x2="237.3" y2="397.03" stroke="#000" stroke-width="1.15" />
<line x1="43.75" y1="393.54" x2="47.25" y2="393.54" stroke="#000" stroke-width="1.15" />
<line x1="240.8" y1="393.54" x2="237.3" y2="393.54" stroke="#000" stroke-width="1.15" />
<line x1="43.75" y1="390.69" x2="47.25" y2="390.69" stroke="#000" stroke-width="1.15" />
<line x1="240.8" y1="390.69" x2="237.3" y2="390.69" stroke="#000" stroke-width="1.15" />
<line x1="43.75" y1="388.28" x2="47.25" y2="388.28" stroke="#000" stroke-width="1.15" />
<line x1="240.8" y1="388.28" x2="237.3" y2="388.28" stroke="#000" stroke-width="1.15" />
<line x1="43.75" y1="386.19" x2="47.25" y2="386.19" stroke="#000" stroke-width="1.15" />
<line x1="240.8" y1="386.19" x2="237.3" y2="386.19" stroke="#000" stroke-width="1.15" />
<line x1="43.75" y1="384.35" x2="47.25" y2="384.35" stroke="#000" stroke-width="1.15" />
<line x1="240.8" y1="384.35" x2="237.3" y2="384.35" stroke="#000" stroke-width="1.15" />
<line x1="43.75" y1="382.7" x2="49.05" y2="382.7" stroke="#000" stroke-width="1.15" />
<line x1="240.8" y1="382.7" x2="235.5" y2="382.7" stroke="#000" stroke-width="1.15" />
<line x1="43.75" y1="371.86" x2="47.25" y2="371.86" stroke="#000" stroke-width="1.15" />
<line x1="240.8" y1="371.86" x2="237.3" y2="371.86" stroke="#000" stroke-width="1.15" />
<line x1="43.75" y1="365.52" x2="47.25" y2="365.52" stroke="#000" stroke-width="1.15" />
<line x1="240.8" y1="365.52" x2="237.3" y2="365.52" stroke="#000" stroke-width="1.15" />
<line x1="43.75" y1="361.03" x2="47.25" y2="361.03" stroke="#000" stroke-width="1.15" />
<line x1="240.8" y1="361.03" x2="237.3" y2="361.03" stroke="#000" stroke-width="1.15" />
<line x1="43.75" y1="357.54" x2="47.25" y2="357.54" stroke="#000" stroke-width="1.15" />
<line x1="240.8" y1="357.54" x2="237.3" y2="357.54" stroke="#000" stroke-width="1.15" />
<line x1="43.75" y1="354.69" x2="47.25" y2="354.69" stroke="#000" stroke-width="1.15" />
<line x1="240.8" y1="354.69" x2="237.3" y2="354.69" stroke="#000" stroke-width="1.15" />
<line x1="43.75" y1="352.28" x2="47.25" y2="352.28" stroke="#000" stroke-width="1.15" />
<line x1="240.8" y1="352.28" x2="237.3" y2="352.28" stroke="#000" stroke-width="1.15" />
<line x1="43.75" y1="350.19" x2="47.25" y2="350.19" stroke="#000" stroke-width="1.15" />
<line x1="240.8" y1="350.19" x2="237.3" y2="350.19" stroke="#000" stroke-width="1.15" />
<line x1="43.75" y1="348.35" x2="47.25" y2="348.35" stroke="#000" stroke-width="1.15" />
<line x1="240.8" y1="348.35" x2="237.3" y2="348.35" stroke="#000" stroke-width="1.15" />
<line x1="43.75" y1="346.7" x2="49.05" y2="346.7" stroke="#000" stroke-width="1.15" />
<line x1="240.8" y1="346.7" x2="235.5" y2="346.7" stroke="#000" stroke-width="1.15" />
<line x1="43.75" y1="335.86" x2="47.25" y2="335.86" stroke="#000" stroke-width="1.15" />
<line x1="240.8" y1="335.86" x2="237.3" y2="335.86" stroke="#000" stroke-width="1.15" />
<line x1="43.75" y1="329.52" x2="47.25" y2="329.52" stroke="#000" stroke-width="1.15" />
<line x1="240.8" y1="329.52" x2="237.3" y2="329.52" stroke="#000" stroke-width="1.15" />
<line x1="43.75" y1="325.03" x2="47.25" y2="325.03" stroke="#000" stroke-width="1.15" />
<line x1="240.8" y1="325.03" x2="237.3" y2="325.03" stroke="#000" stroke-width="1.15" />
<rect x="43.75" y="321.8" width="197.05" height="195.6" fill="none" stroke="#000" stroke-width="1.5" />
<text x="78.2" y="530.2" font-size="11.4" text-anchor="middle" fill="#000" stroke="#000" stroke-width="0.22"  textLength="15.6" lengthAdjust="spacing">10<tspan font-size="7.98" dy="-4.33">0</tspan></text>
<text x="138.2" y="530.2" font-size="11.4" text-anchor="middle" fill="#000" stroke="#000" stroke-width="0.22"  textLength="15.6" lengthAdjust="spacing">10<tspan font-size="7.98" dy="-4.33">1</tspan></text>
<text x="198.2" y="530.2" font-size="11.4" text-anchor="middle" fill="#000" stroke="#000" stroke-width="0.22"  textLength="15.6" lengthAdjust="spacing">10<tspan font-size="7.98" dy="-4.33">2</tspan></text>
<text x="39.35" y="350.9" font-size="11.4" text-anchor="end" fill="#000" stroke="#000" stroke-width="0.22"  textLength="15.6" lengthAdjust="spacing">10<tspan font-size="7.98" dy="-4.33">0</tspan></text>
<text x="39.35" y="386.9" font-size="11.4" text-anchor="end" fill="#000" stroke="#000" stroke-width="0.22"  textLength="21.8" lengthAdjust="spacing">10<tspan font-size="7.98" dy="-4.33">−1</tspan></text>
<text x="39.35" y="422.9" font-size="11.4" text-anchor="end" fill="#000" stroke="#000" stroke-width="0.22"  textLength="21.8" lengthAdjust="spacing">10<tspan font-size="7.98" dy="-4.33">−2</tspan></text>
<text x="39.35" y="458.9" font-size="11.4" text-anchor="end" fill="#000" stroke="#000" stroke-width="0.22"  textLength="21.8" lengthAdjust="spacing">10<tspan font-size="7.98" dy="-4.33">−3</tspan></text>
<text x="39.35" y="494.9" font-size="11.4" text-anchor="end" fill="#000" stroke="#000" stroke-width="0.22"  textLength="21.8" lengthAdjust="spacing">10<tspan font-size="7.98" dy="-4.33">−4</tspan></text>
<text x="141.78" y="545.4" font-size="11.5" text-anchor="middle" fill="#000" stroke="#000" stroke-width="0.22"  textLength="56" lengthAdjust="spacing"><tspan font-style="italic">&#969;</tspan><tspan> ,&#160; rad s</tspan><tspan font-size="8.05" dy="-4.37">&#8722;1</tspan></text>
<text x="10.55" y="419.1" font-size="11.5" text-anchor="middle" fill="#000" stroke="#000" stroke-width="0.22" transform="rotate(-90 10.55 419.1)"  textLength="35" lengthAdjust="spacing"><tspan font-style="italic">G</tspan><tspan> ,&#160;Pa</tspan></text>
<text x="142.28" y="315" font-size="11.5" text-anchor="middle" fill="#000" stroke="#000" stroke-width="0.22"  textLength="116" lengthAdjust="spacing">M2 (BSA + Fg + &#947;-g)</text>
<rect x="160.5" y="490.5" width="70.75" height="17.5" fill="#fff" stroke="#000" stroke-width="1" rx="3.5" ry="3.5"/>
<text x="195.88" y="503.25" font-size="11.5" text-anchor="middle" fill="#000" stroke="#000" stroke-width="0.22"  textLength="64" lengthAdjust="spacing">22.6 &#177; 0.3&#176;C</text>
<rect x="51.3" y="329.4" width="65" height="64.1" fill="#fff" stroke="none" stroke-width="1" />
<clipPath id="clipgi"><rect x="51.3" y="329.4" width="65" height="64.1"/></clipPath>
<g clip-path="url(#clipgi)">
<line x1="53" y1="391.3" x2="116.6" y2="328.9" stroke="#000" stroke-width="1.2" />
<circle cx="53.8" cy="388.5" r="1.8" fill="#fff" stroke="#000" stroke-width="0.9"/>
<circle cx="62.53" cy="379.87" r="1.8" fill="#fff" stroke="#000" stroke-width="0.9"/>
<circle cx="67.64" cy="375.03" r="1.8" fill="#fff" stroke="#000" stroke-width="0.9"/>
<circle cx="71.26" cy="371.81" r="1.8" fill="#fff" stroke="#000" stroke-width="0.9"/>
<circle cx="74.07" cy="370.07" r="1.8" fill="#fff" stroke="#000" stroke-width="0.9"/>
<circle cx="75.93" cy="368.9" r="1.8" fill="#fff" stroke="#000" stroke-width="0.9"/>
<circle cx="77.78" cy="367.53" r="1.8" fill="#fff" stroke="#000" stroke-width="0.9"/>
<circle cx="79.64" cy="364.79" r="1.8" fill="#fff" stroke="#000" stroke-width="0.9"/>
<circle cx="81.49" cy="363.35" r="1.8" fill="#fff" stroke="#000" stroke-width="0.9"/>
<circle cx="83.35" cy="361.77" r="1.8" fill="#fff" stroke="#000" stroke-width="0.9"/>
<circle cx="85.21" cy="359.94" r="1.8" fill="#fff" stroke="#000" stroke-width="0.9"/>
<circle cx="87.06" cy="358.12" r="1.8" fill="#fff" stroke="#000" stroke-width="0.9"/>
<circle cx="88.92" cy="356.33" r="1.8" fill="#fff" stroke="#000" stroke-width="0.9"/>
<circle cx="90.77" cy="354.58" r="1.8" fill="#fff" stroke="#000" stroke-width="0.9"/>
<circle cx="92.63" cy="352.83" r="1.8" fill="#fff" stroke="#000" stroke-width="0.9"/>
<circle cx="94.49" cy="351.08" r="1.8" fill="#fff" stroke="#000" stroke-width="0.9"/>
<circle cx="96.34" cy="349.31" r="1.8" fill="#fff" stroke="#000" stroke-width="0.9"/>
<circle cx="98.2" cy="347.53" r="1.8" fill="#fff" stroke="#000" stroke-width="0.9"/>
<circle cx="100.05" cy="345.74" r="1.8" fill="#fff" stroke="#000" stroke-width="0.9"/>
<circle cx="101.91" cy="343.96" r="1.8" fill="#fff" stroke="#000" stroke-width="0.9"/>
<circle cx="103.77" cy="342.18" r="1.8" fill="#fff" stroke="#000" stroke-width="0.9"/>
<circle cx="105.62" cy="340.39" r="1.8" fill="#fff" stroke="#000" stroke-width="0.9"/>
<circle cx="107.48" cy="338.61" r="1.8" fill="#fff" stroke="#000" stroke-width="0.9"/>
<circle cx="109.33" cy="336.83" r="1.8" fill="#fff" stroke="#000" stroke-width="0.9"/>
<circle cx="111.19" cy="335.04" r="1.8" fill="#fff" stroke="#000" stroke-width="0.9"/>
<circle cx="113.05" cy="333.26" r="1.8" fill="#fff" stroke="#000" stroke-width="0.9"/>
</g>
<line x1="51.3" y1="387.42" x2="54.9" y2="387.42" stroke="#000" stroke-width="1" />
<line x1="116.3" y1="387.42" x2="112.7" y2="387.42" stroke="#000" stroke-width="1" />
<line x1="51.3" y1="382.22" x2="54.9" y2="382.22" stroke="#000" stroke-width="1" />
<line x1="116.3" y1="382.22" x2="112.7" y2="382.22" stroke="#000" stroke-width="1" />
<line x1="51.3" y1="378.54" x2="54.9" y2="378.54" stroke="#000" stroke-width="1" />
<line x1="116.3" y1="378.54" x2="112.7" y2="378.54" stroke="#000" stroke-width="1" />
<line x1="51.3" y1="375.68" x2="54.9" y2="375.68" stroke="#000" stroke-width="1" />
<line x1="116.3" y1="375.68" x2="112.7" y2="375.68" stroke="#000" stroke-width="1" />
<line x1="51.3" y1="373.34" x2="54.9" y2="373.34" stroke="#000" stroke-width="1" />
<line x1="116.3" y1="373.34" x2="112.7" y2="373.34" stroke="#000" stroke-width="1" />
<line x1="51.3" y1="371.37" x2="54.9" y2="371.37" stroke="#000" stroke-width="1" />
<line x1="116.3" y1="371.37" x2="112.7" y2="371.37" stroke="#000" stroke-width="1" />
<line x1="51.3" y1="369.66" x2="54.9" y2="369.66" stroke="#000" stroke-width="1" />
<line x1="116.3" y1="369.66" x2="112.7" y2="369.66" stroke="#000" stroke-width="1" />
<line x1="51.3" y1="368.15" x2="54.9" y2="368.15" stroke="#000" stroke-width="1" />
<line x1="116.3" y1="368.15" x2="112.7" y2="368.15" stroke="#000" stroke-width="1" />
<line x1="51.3" y1="366.8" x2="56.7" y2="366.8" stroke="#000" stroke-width="1" />
<line x1="116.3" y1="366.8" x2="110.9" y2="366.8" stroke="#000" stroke-width="1" />
<line x1="51.3" y1="357.92" x2="54.9" y2="357.92" stroke="#000" stroke-width="1" />
<line x1="116.3" y1="357.92" x2="112.7" y2="357.92" stroke="#000" stroke-width="1" />
<line x1="51.3" y1="352.72" x2="54.9" y2="352.72" stroke="#000" stroke-width="1" />
<line x1="116.3" y1="352.72" x2="112.7" y2="352.72" stroke="#000" stroke-width="1" />
<line x1="51.3" y1="349.04" x2="54.9" y2="349.04" stroke="#000" stroke-width="1" />
<line x1="116.3" y1="349.04" x2="112.7" y2="349.04" stroke="#000" stroke-width="1" />
<line x1="51.3" y1="346.18" x2="54.9" y2="346.18" stroke="#000" stroke-width="1" />
<line x1="116.3" y1="346.18" x2="112.7" y2="346.18" stroke="#000" stroke-width="1" />
<line x1="51.3" y1="343.84" x2="54.9" y2="343.84" stroke="#000" stroke-width="1" />
<line x1="116.3" y1="343.84" x2="112.7" y2="343.84" stroke="#000" stroke-width="1" />
<line x1="51.3" y1="341.87" x2="54.9" y2="341.87" stroke="#000" stroke-width="1" />
<line x1="116.3" y1="341.87" x2="112.7" y2="341.87" stroke="#000" stroke-width="1" />
<line x1="51.3" y1="340.16" x2="54.9" y2="340.16" stroke="#000" stroke-width="1" />
<line x1="116.3" y1="340.16" x2="112.7" y2="340.16" stroke="#000" stroke-width="1" />
<line x1="51.3" y1="338.65" x2="54.9" y2="338.65" stroke="#000" stroke-width="1" />
<line x1="116.3" y1="338.65" x2="112.7" y2="338.65" stroke="#000" stroke-width="1" />
<line x1="51.3" y1="337.3" x2="56.7" y2="337.3" stroke="#000" stroke-width="1" />
<line x1="116.3" y1="337.3" x2="110.9" y2="337.3" stroke="#000" stroke-width="1" />
<line x1="85.9" y1="393.5" x2="85.9" y2="388.3" stroke="#000" stroke-width="1" />
<line x1="85.9" y1="329.4" x2="85.9" y2="334.6" stroke="#000" stroke-width="1" />
<rect x="51.3" y="329.4" width="65" height="64.1" fill="none" stroke="#000" stroke-width="1.4" />
<text x="86.4" y="405.3" font-size="11" text-anchor="middle" fill="#000" stroke="#000" stroke-width="0.22"  textLength="21" lengthAdjust="spacing">10<tspan font-size="7.98" dy="-4.33">−1</tspan></text>
<text x="119.8" y="340.1" font-size="11" text-anchor="start" fill="#000" stroke="#000" stroke-width="0.22"  textLength="21" lengthAdjust="spacing">10<tspan font-size="7.98" dy="-4.33">−1</tspan></text>
<text x="119.8" y="369.6" font-size="11" text-anchor="start" fill="#000" stroke="#000" stroke-width="0.22"  textLength="21" lengthAdjust="spacing">10<tspan font-size="7.98" dy="-4.33">−2</tspan></text>
<text x="83.9" y="420" font-size="11.5" text-anchor="middle" fill="#000" stroke="#000" stroke-width="0.22"  textLength="22" lengthAdjust="spacing"><tspan font-style="italic">&#964;</tspan><tspan> ,&#160; s</tspan></text>
<text x="157.3" y="361.75" font-size="11.5" text-anchor="middle" fill="#000" stroke="#000" stroke-width="0.22" transform="rotate(-90 157.3 361.75)"  textLength="61.5" lengthAdjust="spacing"><tspan>&#10216;&#916;</tspan><tspan font-style="italic">r</tspan><tspan font-size="8.05" dy="-4.37">2</tspan><tspan dy="4.37">&#10217; ,&#160; &#956;m</tspan><tspan font-size="8.05" dy="-4.37">2</tspan></text>
<clipPath id="cliph"><rect x="320.8" y="321.8" width="197.2" height="195.6"/></clipPath>
<line x1="437.5" y1="321.8" x2="437.5" y2="517.4" stroke="#222" stroke-width="0.8" stroke-dasharray="0.9 1.3"/>
<line x1="320.8" y1="402" x2="518" y2="402" stroke="#222" stroke-width="0.8" stroke-dasharray="0.9 1.3"/>
<g clip-path="url(#cliph)">
<path d="M374.5 505.81 L376 503.16 L377.5 500.51 L379 497.86 L380.5 495.21 L382 492.56 L383.5 489.92 L385 487.27 L386.5 484.62 L388 481.98 L389.5 479.34 L391 476.69 L392.5 474.05 L394 471.41 L395.5 468.78 L397 466.14 L398.5 463.51 L400 460.89 L401.5 458.27 L403 455.65 L404.5 453.04 L406 450.44 L407.5 447.85 L409 445.28 L410.5 442.72 L412 440.17 L413.5 437.65 L415 435.15 L416.5 432.69 L418 430.26 L419.5 427.87 L421 425.53 L422.5 423.25 L424 421.03 L425.5 418.89 L427 416.83 L428.5 414.87 L430 413 L431.5 411.25 L433 409.62 L434.5 408.11 L436 406.73 L437.5 405.47 L439 404.35 L440.5 403.34 L442 402.45 L443.5 401.68 L445 401 L446.5 400.42 L448 399.92 L449.5 399.5 L451 399.14 L452.5 398.83 L454 398.58 L455.5 398.36 L457 398.18 L458.5 398.03 L460 397.91 L461.5 397.8 L463 397.72 L464.5 397.64 L466 397.58 L467.5 397.54 L469 397.49 L470.5 397.46 L472 397.43 L473.5 397.41 L475 397.39 L476.5 397.37 L478 397.36 L479.5 397.35 L481 397.34 L482.5 397.33 L484 397.33 L485.5 397.32 L487 397.32 L488.5 397.32 L490 397.31 L491.5 397.31 L493 397.31 L494.5 397.31 L496 397.31 L497.5 397.31 L499 397.3 L500.5 397.3 L502 397.3 L503.5 397.3 L505 397.3 L506.5 397.3 L508 397.3 L509.5 397.3 L509.5 406.7 L508 406.7 L506.5 406.7 L505 406.7 L503.5 406.7 L502 406.7 L500.5 406.71 L499 406.71 L497.5 406.71 L496 406.71 L494.5 406.71 L493 406.71 L491.5 406.72 L490 406.72 L488.5 406.72 L487 406.73 L485.5 406.74 L484 406.74 L482.5 406.75 L481 406.76 L479.5 406.78 L478 406.79 L476.5 406.81 L475 406.84 L473.5 406.87 L472 406.9 L470.5 406.94 L469 406.99 L467.5 407.05 L466 407.13 L464.5 407.22 L463 407.32 L461.5 407.45 L460 407.6 L458.5 407.79 L457 408.01 L455.5 408.27 L454 408.58 L452.5 408.95 L451 409.38 L449.5 409.89 L448 410.48 L446.5 411.17 L445 411.95 L443.5 412.85 L442 413.87 L440.5 415.01 L439 416.28 L437.5 417.67 L436 419.2 L434.5 420.84 L433 422.6 L431.5 424.48 L430 426.45 L428.5 428.52 L427 430.67 L425.5 432.9 L424 435.19 L422.5 437.53 L421 439.93 L419.5 442.36 L418 444.83 L416.5 447.33 L415 449.86 L413.5 452.4 L412 454.97 L410.5 457.54 L409 460.13 L407.5 462.74 L406 465.34 L404.5 467.96 L403 470.58 L401.5 473.21 L400 475.84 L398.5 478.47 L397 481.11 L395.5 483.75 L394 486.39 L392.5 489.03 L391 491.68 L389.5 494.32 L388 496.97 L386.5 499.62 L385 502.26 L383.5 504.91 L382 507.56 L380.5 510.21 L379 512.86 L377.5 515.51 L376 518.15 L374.5 520.8 Z" fill="#a6a6a6" stroke="none" stroke-width="1" />
<path d="M374.5 513.3 L376 510.66 L377.5 508.01 L379 505.36 L380.5 502.71 L382 500.06 L383.5 497.41 L385 494.77 L386.5 492.12 L388 489.47 L389.5 486.83 L391 484.19 L392.5 481.54 L394 478.9 L395.5 476.26 L397 473.63 L398.5 470.99 L400 468.36 L401.5 465.74 L403 463.12 L404.5 460.5 L406 457.89 L407.5 455.29 L409 452.71 L410.5 450.13 L412 447.57 L413.5 445.03 L415 442.51 L416.5 440.01 L418 437.55 L419.5 435.12 L421 432.73 L422.5 430.39 L424 428.11 L425.5 425.89 L427 423.75 L428.5 421.69 L430 419.73 L431.5 417.87 L433 416.11 L434.5 414.48 L436 412.96 L437.5 411.57 L439 410.31 L440.5 409.18 L442 408.16 L443.5 407.27 L445 406.48 L446.5 405.79 L448 405.2 L449.5 404.69 L451 404.26 L452.5 403.89 L454 403.58 L455.5 403.32 L457 403.1 L458.5 402.91 L460 402.76 L461.5 402.63 L463 402.52 L464.5 402.43 L466 402.36 L467.5 402.29 L469 402.24 L470.5 402.2 L472 402.17 L473.5 402.14 L475 402.11 L476.5 402.09 L478 402.08 L479.5 402.06 L481 402.05 L482.5 402.04 L484 402.04 L485.5 402.03 L487 402.02 L488.5 402.02 L490 402.02 L491.5 402.01 L493 402.01 L494.5 402.01 L496 402.01 L497.5 402.01 L499 402.01 L500.5 402 L502 402 L503.5 402 L505 402 L506.5 402 L508 402 L509.5 402" fill="none" stroke="#555" stroke-width="0.8" />
<path d="M329.3 488.63 L509.5 329.24" fill="none" stroke="#2a8a9a" stroke-width="0.9" />
<path d="M329.3 488.07 L509.5 330.66" fill="none" stroke="#30a050" stroke-width="0.9" />
<path d="M329.3 487.51 L509.5 332.09" fill="none" stroke="#c8303c" stroke-width="0.9" />
</g>
<circle cx="379.35" cy="444.34" r="2.8" fill="#fff" stroke="#3a7ad0" stroke-width="1.1"/>
<circle cx="381.66" cy="442.35" r="2.8" fill="#fff" stroke="#3a7ad0" stroke-width="1.1"/>
<circle cx="383.96" cy="440.36" r="2.8" fill="#fff" stroke="#3a7ad0" stroke-width="1.1"/>
<circle cx="386.27" cy="438.38" r="2.8" fill="#fff" stroke="#3a7ad0" stroke-width="1.1"/>
<circle cx="388.57" cy="436.39" r="2.8" fill="#fff" stroke="#3a7ad0" stroke-width="1.1"/>
<circle cx="390.87" cy="434.4" r="2.8" fill="#fff" stroke="#3a7ad0" stroke-width="1.1"/>
<circle cx="393.18" cy="432.42" r="2.8" fill="#fff" stroke="#3a7ad0" stroke-width="1.1"/>
<circle cx="395.48" cy="430.43" r="2.8" fill="#fff" stroke="#3a7ad0" stroke-width="1.1"/>
<circle cx="397.79" cy="428.44" r="2.8" fill="#fff" stroke="#3a7ad0" stroke-width="1.1"/>
<circle cx="400.09" cy="426.45" r="2.8" fill="#fff" stroke="#3a7ad0" stroke-width="1.1"/>
<circle cx="402.39" cy="424.47" r="2.8" fill="#fff" stroke="#3a7ad0" stroke-width="1.1"/>
<circle cx="404.7" cy="422.48" r="2.8" fill="#fff" stroke="#3a7ad0" stroke-width="1.1"/>
<circle cx="407" cy="420.49" r="2.8" fill="#fff" stroke="#3a7ad0" stroke-width="1.1"/>
<circle cx="409.31" cy="418.51" r="2.8" fill="#fff" stroke="#3a7ad0" stroke-width="1.1"/>
<circle cx="411.61" cy="416.52" r="2.8" fill="#fff" stroke="#3a7ad0" stroke-width="1.1"/>
<circle cx="413.91" cy="414.53" r="2.8" fill="#fff" stroke="#3a7ad0" stroke-width="1.1"/>
<circle cx="416.22" cy="412.54" r="2.8" fill="#fff" stroke="#3a7ad0" stroke-width="1.1"/>
<circle cx="418.52" cy="410.56" r="2.8" fill="#fff" stroke="#3a7ad0" stroke-width="1.1"/>
<circle cx="420.83" cy="408.57" r="2.8" fill="#fff" stroke="#3a7ad0" stroke-width="1.1"/>
<circle cx="423.13" cy="406.58" r="2.8" fill="#fff" stroke="#3a7ad0" stroke-width="1.1"/>
<circle cx="425.43" cy="404.6" r="2.8" fill="#fff" stroke="#3a7ad0" stroke-width="1.1"/>
<circle cx="427.74" cy="402.61" r="2.8" fill="#fff" stroke="#3a7ad0" stroke-width="1.1"/>
<circle cx="431.23" cy="399.6" r="2.8" fill="#fff" stroke="#3a7ad0" stroke-width="1.1"/>
<circle cx="435.72" cy="395.72" r="2.8" fill="#fff" stroke="#3a7ad0" stroke-width="1.1"/>
<circle cx="442.06" cy="390.25" r="2.8" fill="#fff" stroke="#3a7ad0" stroke-width="1.1"/>
<circle cx="452.9" cy="380.91" r="2.8" fill="#fff" stroke="#3a7ad0" stroke-width="1.1"/>
<circle cx="393.18" cy="463.22" r="2.8" fill="#3464b4" stroke="#000" stroke-width="1"/>
<circle cx="395.48" cy="460.33" r="2.8" fill="#3464b4" stroke="#000" stroke-width="1"/>
<circle cx="397.79" cy="457.44" r="2.8" fill="#3464b4" stroke="#000" stroke-width="1"/>
<circle cx="400.09" cy="454.55" r="2.8" fill="#3464b4" stroke="#000" stroke-width="1"/>
<circle cx="402.39" cy="451.66" r="2.8" fill="#3464b4" stroke="#000" stroke-width="1"/>
<circle cx="404.7" cy="448.77" r="2.8" fill="#3464b4" stroke="#000" stroke-width="1"/>
<circle cx="407" cy="445.88" r="2.8" fill="#3464b4" stroke="#000" stroke-width="1"/>
<circle cx="409.31" cy="442.99" r="2.8" fill="#3464b4" stroke="#000" stroke-width="1"/>
<circle cx="411.61" cy="440.1" r="2.8" fill="#3464b4" stroke="#000" stroke-width="1"/>
<circle cx="413.91" cy="437.21" r="2.8" fill="#3464b4" stroke="#000" stroke-width="1"/>
<circle cx="416.22" cy="434.32" r="2.8" fill="#3464b4" stroke="#000" stroke-width="1"/>
<circle cx="418.52" cy="432.03" r="2.8" fill="#3464b4" stroke="#000" stroke-width="1"/>
<circle cx="420.83" cy="429.85" r="2.8" fill="#3464b4" stroke="#000" stroke-width="1"/>
<circle cx="423.13" cy="427.66" r="2.8" fill="#3464b4" stroke="#000" stroke-width="1"/>
<circle cx="425.43" cy="425.47" r="2.8" fill="#3464b4" stroke="#000" stroke-width="1"/>
<circle cx="427.74" cy="423.29" r="2.8" fill="#3464b4" stroke="#000" stroke-width="1"/>
<circle cx="431.23" cy="419.97" r="2.8" fill="#3464b4" stroke="#000" stroke-width="1"/>
<circle cx="435.72" cy="415.7" r="2.8" fill="#3464b4" stroke="#000" stroke-width="1"/>
<circle cx="442.06" cy="410.16" r="2.8" fill="#3464b4" stroke="#000" stroke-width="1"/>
<circle cx="452.9" cy="404.73" r="2.8" fill="#3464b4" stroke="#000" stroke-width="1"/>
<path d="M374.45 444.52 L375.45 447.19 L378.3 447.31 L376.07 449.09 L376.83 451.84 L374.45 450.27 L372.07 451.84 L372.84 449.09 L370.6 447.31 L373.45 447.19 Z" fill="#fff" stroke="#f09050" stroke-width="0.9" stroke-linejoin="miter"/>
<path d="M376.76 442.53 L377.76 445.2 L380.61 445.33 L378.37 447.1 L379.14 449.85 L376.76 448.28 L374.38 449.85 L375.14 447.1 L372.91 445.33 L375.76 445.2 Z" fill="#fff" stroke="#f09050" stroke-width="0.9" stroke-linejoin="miter"/>
<path d="M379.06 440.54 L380.06 443.22 L382.91 443.34 L380.68 445.12 L381.44 447.87 L379.06 446.29 L376.68 447.87 L377.44 445.12 L375.21 443.34 L378.06 443.22 Z" fill="#fff" stroke="#f09050" stroke-width="0.9" stroke-linejoin="miter"/>
<path d="M381.37 438.56 L382.36 441.23 L385.21 441.35 L382.98 443.13 L383.74 445.88 L381.37 444.3 L378.99 445.88 L379.75 443.13 L377.52 441.35 L380.37 441.23 Z" fill="#fff" stroke="#f09050" stroke-width="0.9" stroke-linejoin="miter"/>
<path d="M383.67 436.57 L384.67 439.24 L387.52 439.37 L385.29 441.14 L386.05 443.89 L383.67 442.32 L381.29 443.89 L382.05 441.14 L379.82 439.37 L382.67 439.24 Z" fill="#fff" stroke="#f09050" stroke-width="0.9" stroke-linejoin="miter"/>
<path d="M385.97 434.58 L386.97 437.25 L389.82 437.38 L387.59 439.15 L388.35 441.9 L385.97 440.33 L383.59 441.9 L384.36 439.15 L382.12 437.38 L384.97 437.25 Z" fill="#fff" stroke="#f09050" stroke-width="0.9" stroke-linejoin="miter"/>
<path d="M388.28 432.59 L389.28 435.27 L392.13 435.39 L389.89 437.17 L390.66 439.92 L388.28 438.34 L385.9 439.92 L386.66 437.17 L384.43 435.39 L387.28 435.27 Z" fill="#fff" stroke="#f09050" stroke-width="0.9" stroke-linejoin="miter"/>
<path d="M390.58 430.61 L391.58 433.28 L394.43 433.4 L392.2 435.18 L392.96 437.93 L390.58 436.36 L388.2 437.93 L388.96 435.18 L386.73 433.4 L389.58 433.28 Z" fill="#fff" stroke="#f09050" stroke-width="0.9" stroke-linejoin="miter"/>
<path d="M392.89 428.62 L393.88 431.29 L396.73 431.42 L394.5 433.19 L395.26 435.94 L392.89 434.37 L390.51 435.94 L391.27 433.19 L389.04 431.42 L391.89 431.29 Z" fill="#fff" stroke="#f09050" stroke-width="0.9" stroke-linejoin="miter"/>
<path d="M395.19 426.63 L396.19 429.31 L399.04 429.43 L396.81 431.21 L397.57 433.96 L395.19 432.38 L392.81 433.96 L393.57 431.21 L391.34 429.43 L394.19 429.31 Z" fill="#fff" stroke="#f09050" stroke-width="0.9" stroke-linejoin="miter"/>
<path d="M397.49 424.65 L398.49 427.32 L401.34 427.44 L399.11 429.22 L399.87 431.97 L397.49 430.39 L395.11 431.97 L395.88 429.22 L393.64 427.44 L396.49 427.32 Z" fill="#fff" stroke="#f09050" stroke-width="0.9" stroke-linejoin="miter"/>
<path d="M399.8 422.66 L400.8 425.33 L403.65 425.46 L401.41 427.23 L402.18 429.98 L399.8 428.41 L397.42 429.98 L398.18 427.23 L395.95 425.46 L398.8 425.33 Z" fill="#fff" stroke="#f09050" stroke-width="0.9" stroke-linejoin="miter"/>
<path d="M402.1 420.67 L403.1 423.34 L405.95 423.47 L403.72 425.24 L404.48 427.99 L402.1 426.42 L399.72 427.99 L400.48 425.24 L398.25 423.47 L401.1 423.34 Z" fill="#fff" stroke="#f09050" stroke-width="0.9" stroke-linejoin="miter"/>
<path d="M404.41 418.68 L405.4 421.36 L408.25 421.48 L406.02 423.26 L406.78 426.01 L404.41 424.43 L402.03 426.01 L402.79 423.26 L400.56 421.48 L403.41 421.36 Z" fill="#fff" stroke="#f09050" stroke-width="0.9" stroke-linejoin="miter"/>
<path d="M406.71 416.7 L407.71 419.37 L410.56 419.49 L408.33 421.27 L409.09 424.02 L406.71 422.44 L404.33 424.02 L405.09 421.27 L402.86 419.49 L405.71 419.37 Z" fill="#fff" stroke="#f09050" stroke-width="0.9" stroke-linejoin="miter"/>
<path d="M409.01 414.71 L410.01 417.38 L412.86 417.51 L410.63 419.28 L411.39 422.03 L409.01 420.46 L406.63 422.03 L407.4 419.28 L405.16 417.51 L408.01 417.38 Z" fill="#fff" stroke="#f09050" stroke-width="0.9" stroke-linejoin="miter"/>
<path d="M411.32 412.72 L412.32 415.39 L415.17 415.52 L412.93 417.3 L413.7 420.05 L411.32 418.47 L408.94 420.05 L409.7 417.3 L407.47 415.52 L410.32 415.39 Z" fill="#fff" stroke="#f09050" stroke-width="0.9" stroke-linejoin="miter"/>
<path d="M413.62 410.74 L414.62 413.41 L417.47 413.53 L415.24 415.31 L416 418.06 L413.62 416.48 L411.24 418.06 L412 415.31 L409.77 413.53 L412.62 413.41 Z" fill="#fff" stroke="#f09050" stroke-width="0.9" stroke-linejoin="miter"/>
<path d="M415.93 408.75 L416.92 411.42 L419.77 411.54 L417.54 413.32 L418.3 416.07 L415.93 414.5 L413.55 416.07 L414.31 413.32 L412.08 411.54 L414.93 411.42 Z" fill="#fff" stroke="#f09050" stroke-width="0.9" stroke-linejoin="miter"/>
<path d="M418.23 406.76 L419.23 409.43 L422.08 409.56 L419.85 411.33 L420.61 414.08 L418.23 412.51 L415.85 414.08 L416.61 411.33 L414.38 409.56 L417.23 409.43 Z" fill="#fff" stroke="#f09050" stroke-width="0.9" stroke-linejoin="miter"/>
<path d="M420.53 404.77 L421.53 407.45 L424.38 407.57 L422.15 409.35 L422.91 412.1 L420.53 410.52 L418.15 412.1 L418.92 409.35 L416.68 407.57 L419.53 407.45 Z" fill="#fff" stroke="#f09050" stroke-width="0.9" stroke-linejoin="miter"/>
<path d="M422.84 402.79 L423.84 405.46 L426.69 405.58 L424.45 407.36 L425.22 410.11 L422.84 408.53 L420.46 410.11 L421.22 407.36 L418.99 405.58 L421.84 405.46 Z" fill="#fff" stroke="#f09050" stroke-width="0.9" stroke-linejoin="miter"/>
<path d="M426.33 399.78 L427.33 402.45 L430.18 402.57 L427.94 404.35 L428.71 407.1 L426.33 405.53 L423.95 407.1 L424.71 404.35 L422.48 402.57 L425.33 402.45 Z" fill="#fff" stroke="#f09050" stroke-width="0.9" stroke-linejoin="miter"/>
<path d="M430.82 395.9 L431.82 398.57 L434.67 398.69 L432.44 400.47 L433.2 403.22 L430.82 401.65 L428.44 403.22 L429.21 400.47 L426.97 398.69 L429.82 398.57 Z" fill="#fff" stroke="#f09050" stroke-width="0.9" stroke-linejoin="miter"/>
<path d="M437.16 390.43 L438.16 393.1 L441.01 393.23 L438.78 395 L439.54 397.75 L437.16 396.18 L434.78 397.75 L435.55 395 L433.31 393.23 L436.16 393.1 Z" fill="#fff" stroke="#f09050" stroke-width="0.9" stroke-linejoin="miter"/>
<path d="M448 381.08 L449 383.76 L451.85 383.88 L449.62 385.66 L450.38 388.41 L448 386.83 L445.62 388.41 L446.38 385.66 L444.15 383.88 L447 383.76 Z" fill="#fff" stroke="#f09050" stroke-width="0.9" stroke-linejoin="miter"/>
<path d="M392.89 467.34 L394.02 470.37 L397.26 470.52 L394.72 472.53 L395.59 475.66 L392.89 473.87 L390.18 475.66 L391.05 472.53 L388.51 470.52 L391.75 470.37 Z" fill="#f09646" stroke="#000" stroke-width="1" stroke-linejoin="miter"/>
<path d="M395.19 457.58 L396.32 460.62 L399.56 460.76 L397.03 462.78 L397.89 465.9 L395.19 464.11 L392.49 465.9 L393.35 462.78 L390.81 460.76 L394.05 460.62 Z" fill="#f09646" stroke="#000" stroke-width="1" stroke-linejoin="miter"/>
<path d="M397.49 454.16 L398.63 457.2 L401.87 457.34 L399.33 459.36 L400.2 462.48 L397.49 460.69 L394.79 462.48 L395.66 459.36 L393.12 457.34 L396.36 457.2 Z" fill="#f09646" stroke="#000" stroke-width="1" stroke-linejoin="miter"/>
<path d="M399.8 450.74 L400.93 453.78 L404.17 453.92 L401.63 455.94 L402.5 459.06 L399.8 457.27 L397.09 459.06 L397.96 455.94 L395.42 453.92 L398.66 453.78 Z" fill="#f09646" stroke="#000" stroke-width="1" stroke-linejoin="miter"/>
<path d="M402.1 447.32 L403.24 450.36 L406.48 450.5 L403.94 452.52 L404.8 455.64 L402.1 453.85 L399.4 455.64 L400.26 452.52 L397.73 450.5 L400.97 450.36 Z" fill="#f09646" stroke="#000" stroke-width="1" stroke-linejoin="miter"/>
<path d="M404.41 443.9 L405.54 446.94 L408.78 447.08 L406.24 449.1 L407.11 452.22 L404.41 450.43 L401.7 452.22 L402.57 449.1 L400.03 447.08 L403.27 446.94 Z" fill="#f09646" stroke="#000" stroke-width="1" stroke-linejoin="miter"/>
<path d="M406.71 440.48 L407.84 443.52 L411.08 443.66 L408.55 445.68 L409.41 448.8 L406.71 447.01 L404.01 448.8 L404.87 445.68 L402.33 443.66 L405.57 443.52 Z" fill="#f09646" stroke="#000" stroke-width="1" stroke-linejoin="miter"/>
<path d="M409.01 437.06 L410.15 440.1 L413.39 440.24 L410.85 442.26 L411.72 445.38 L409.01 443.59 L406.31 445.38 L407.18 442.26 L404.64 440.24 L407.88 440.1 Z" fill="#f09646" stroke="#000" stroke-width="1" stroke-linejoin="miter"/>
<path d="M411.32 434.31 L412.45 437.35 L415.69 437.49 L413.15 439.51 L414.02 442.63 L411.32 440.85 L408.61 442.63 L409.48 439.51 L406.94 437.49 L410.18 437.35 Z" fill="#f09646" stroke="#000" stroke-width="1" stroke-linejoin="miter"/>
<path d="M413.62 431.66 L414.76 434.7 L418 434.84 L415.46 436.86 L416.32 439.98 L413.62 438.19 L410.92 439.98 L411.78 436.86 L409.25 434.84 L412.49 434.7 Z" fill="#f09646" stroke="#000" stroke-width="1" stroke-linejoin="miter"/>
<path d="M415.93 429 L417.06 432.04 L420.3 432.18 L417.76 434.2 L418.63 437.33 L415.93 435.54 L413.22 437.33 L414.09 434.2 L411.55 432.18 L414.79 432.04 Z" fill="#f09646" stroke="#000" stroke-width="1" stroke-linejoin="miter"/>
<path d="M418.23 426.35 L419.36 429.39 L422.6 429.53 L420.07 431.55 L420.93 434.67 L418.23 432.88 L415.53 434.67 L416.39 431.55 L413.85 429.53 L417.09 429.39 Z" fill="#f09646" stroke="#000" stroke-width="1" stroke-linejoin="miter"/>
<path d="M420.53 423.69 L421.67 426.73 L424.91 426.87 L422.37 428.89 L423.24 432.02 L420.53 430.23 L417.83 432.02 L418.7 428.89 L416.16 426.87 L419.4 426.73 Z" fill="#f09646" stroke="#000" stroke-width="1" stroke-linejoin="miter"/>
<path d="M422.84 421.04 L423.97 424.08 L427.21 424.22 L424.67 426.24 L425.54 429.36 L422.84 427.57 L420.13 429.36 L421 426.24 L418.46 424.22 L421.7 424.08 Z" fill="#f09646" stroke="#000" stroke-width="1" stroke-linejoin="miter"/>
<path d="M426.33 417.02 L427.46 420.06 L430.7 420.2 L428.16 422.22 L429.03 425.34 L426.33 423.55 L423.62 425.34 L424.49 422.22 L421.95 420.2 L425.19 420.06 Z" fill="#f09646" stroke="#000" stroke-width="1" stroke-linejoin="miter"/>
<path d="M430.82 412.58 L431.96 415.61 L435.2 415.75 L432.66 417.77 L433.53 420.9 L430.82 419.11 L428.12 420.9 L428.99 417.77 L426.45 415.75 L429.69 415.61 Z" fill="#f09646" stroke="#000" stroke-width="1" stroke-linejoin="miter"/>
<path d="M437.16 407.01 L438.3 410.05 L441.54 410.19 L439 412.21 L439.87 415.33 L437.16 413.54 L434.46 415.33 L435.33 412.21 L432.79 410.19 L436.03 410.05 Z" fill="#f09646" stroke="#000" stroke-width="1" stroke-linejoin="miter"/>
<path d="M448 400.05 L449.14 403.08 L452.37 403.23 L449.84 405.24 L450.7 408.37 L448 406.58 L445.3 408.37 L446.16 405.24 L443.63 403.23 L446.86 403.08 Z" fill="#f09646" stroke="#000" stroke-width="1" stroke-linejoin="miter"/>
<rect x="376.4" y="441.76" width="5.5" height="5.5" fill="#fff" stroke="#30a050" stroke-width="1.1" />
<rect x="378.71" y="439.77" width="5.5" height="5.5" fill="#fff" stroke="#30a050" stroke-width="1.1" />
<rect x="381.01" y="437.79" width="5.5" height="5.5" fill="#fff" stroke="#30a050" stroke-width="1.1" />
<rect x="383.32" y="435.8" width="5.5" height="5.5" fill="#fff" stroke="#30a050" stroke-width="1.1" />
<rect x="385.62" y="433.81" width="5.5" height="5.5" fill="#fff" stroke="#30a050" stroke-width="1.1" />
<rect x="387.92" y="431.83" width="5.5" height="5.5" fill="#fff" stroke="#30a050" stroke-width="1.1" />
<rect x="390.23" y="429.84" width="5.5" height="5.5" fill="#fff" stroke="#30a050" stroke-width="1.1" />
<rect x="392.53" y="427.85" width="5.5" height="5.5" fill="#fff" stroke="#30a050" stroke-width="1.1" />
<rect x="394.84" y="425.86" width="5.5" height="5.5" fill="#fff" stroke="#30a050" stroke-width="1.1" />
<rect x="397.14" y="423.88" width="5.5" height="5.5" fill="#fff" stroke="#30a050" stroke-width="1.1" />
<rect x="399.44" y="421.89" width="5.5" height="5.5" fill="#fff" stroke="#30a050" stroke-width="1.1" />
<rect x="401.75" y="419.9" width="5.5" height="5.5" fill="#fff" stroke="#30a050" stroke-width="1.1" />
<rect x="404.05" y="417.92" width="5.5" height="5.5" fill="#fff" stroke="#30a050" stroke-width="1.1" />
<rect x="406.36" y="415.93" width="5.5" height="5.5" fill="#fff" stroke="#30a050" stroke-width="1.1" />
<rect x="408.66" y="413.94" width="5.5" height="5.5" fill="#fff" stroke="#30a050" stroke-width="1.1" />
<rect x="410.96" y="411.95" width="5.5" height="5.5" fill="#fff" stroke="#30a050" stroke-width="1.1" />
<rect x="413.27" y="409.97" width="5.5" height="5.5" fill="#fff" stroke="#30a050" stroke-width="1.1" />
<rect x="415.57" y="407.98" width="5.5" height="5.5" fill="#fff" stroke="#30a050" stroke-width="1.1" />
<rect x="417.88" y="405.99" width="5.5" height="5.5" fill="#fff" stroke="#30a050" stroke-width="1.1" />
<rect x="420.18" y="404" width="5.5" height="5.5" fill="#fff" stroke="#30a050" stroke-width="1.1" />
<rect x="422.48" y="402.02" width="5.5" height="5.5" fill="#fff" stroke="#30a050" stroke-width="1.1" />
<rect x="424.79" y="400.03" width="5.5" height="5.5" fill="#fff" stroke="#30a050" stroke-width="1.1" />
<rect x="428.28" y="397.02" width="5.5" height="5.5" fill="#fff" stroke="#30a050" stroke-width="1.1" />
<rect x="432.77" y="393.14" width="5.5" height="5.5" fill="#fff" stroke="#30a050" stroke-width="1.1" />
<rect x="439.11" y="387.67" width="5.5" height="5.5" fill="#fff" stroke="#30a050" stroke-width="1.1" />
<rect x="449.95" y="378.33" width="5.5" height="5.5" fill="#fff" stroke="#30a050" stroke-width="1.1" />
<rect x="392.53" y="459.08" width="5.5" height="5.5" fill="#3c9c54" stroke="#000" stroke-width="1" />
<rect x="394.84" y="455.83" width="5.5" height="5.5" fill="#3c9c54" stroke="#000" stroke-width="1" />
<rect x="397.14" y="452.59" width="5.5" height="5.5" fill="#3c9c54" stroke="#000" stroke-width="1" />
<rect x="399.44" y="449.34" width="5.5" height="5.5" fill="#3c9c54" stroke="#000" stroke-width="1" />
<rect x="401.75" y="446.1" width="5.5" height="5.5" fill="#3c9c54" stroke="#000" stroke-width="1" />
<rect x="404.05" y="442.85" width="5.5" height="5.5" fill="#3c9c54" stroke="#000" stroke-width="1" />
<rect x="406.36" y="439.71" width="5.5" height="5.5" fill="#3c9c54" stroke="#000" stroke-width="1" />
<rect x="408.66" y="436.75" width="5.5" height="5.5" fill="#3c9c54" stroke="#000" stroke-width="1" />
<rect x="410.96" y="433.78" width="5.5" height="5.5" fill="#3c9c54" stroke="#000" stroke-width="1" />
<rect x="413.27" y="431.14" width="5.5" height="5.5" fill="#3c9c54" stroke="#000" stroke-width="1" />
<rect x="415.57" y="428.6" width="5.5" height="5.5" fill="#3c9c54" stroke="#000" stroke-width="1" />
<rect x="417.88" y="426.05" width="5.5" height="5.5" fill="#3c9c54" stroke="#000" stroke-width="1" />
<rect x="420.18" y="423.51" width="5.5" height="5.5" fill="#3c9c54" stroke="#000" stroke-width="1" />
<rect x="422.48" y="421.11" width="5.5" height="5.5" fill="#3c9c54" stroke="#000" stroke-width="1" />
<rect x="424.79" y="418.74" width="5.5" height="5.5" fill="#3c9c54" stroke="#000" stroke-width="1" />
<rect x="428.28" y="415.2" width="5.5" height="5.5" fill="#3c9c54" stroke="#000" stroke-width="1" />
<rect x="432.77" y="411.46" width="5.5" height="5.5" fill="#3c9c54" stroke="#000" stroke-width="1" />
<rect x="439.11" y="406.41" width="5.5" height="5.5" fill="#3c9c54" stroke="#000" stroke-width="1" />
<rect x="449.95" y="399.67" width="5.5" height="5.5" fill="#3c9c54" stroke="#000" stroke-width="1" />
<path d="M360.95 455.71 L365.45 460.21 L360.95 464.71 L356.45 460.21 Z" fill="#fff" stroke="#c8303c" stroke-width="1.1" />
<path d="M363.26 453.72 L367.76 458.22 L363.26 462.72 L358.76 458.22 Z" fill="#fff" stroke="#c8303c" stroke-width="1.1" />
<path d="M365.56 451.73 L370.06 456.23 L365.56 460.73 L361.06 456.23 Z" fill="#fff" stroke="#c8303c" stroke-width="1.1" />
<path d="M367.87 449.75 L372.37 454.25 L367.87 458.75 L363.37 454.25 Z" fill="#fff" stroke="#c8303c" stroke-width="1.1" />
<path d="M370.17 447.76 L374.67 452.26 L370.17 456.76 L365.67 452.26 Z" fill="#fff" stroke="#c8303c" stroke-width="1.1" />
<path d="M372.47 445.77 L376.97 450.27 L372.47 454.77 L367.97 450.27 Z" fill="#fff" stroke="#c8303c" stroke-width="1.1" />
<path d="M374.78 443.79 L379.28 448.29 L374.78 452.79 L370.28 448.29 Z" fill="#fff" stroke="#c8303c" stroke-width="1.1" />
<path d="M377.08 441.8 L381.58 446.3 L377.08 450.8 L372.58 446.3 Z" fill="#fff" stroke="#c8303c" stroke-width="1.1" />
<path d="M379.39 439.81 L383.89 444.31 L379.39 448.81 L374.89 444.31 Z" fill="#fff" stroke="#c8303c" stroke-width="1.1" />
<path d="M381.69 437.82 L386.19 442.32 L381.69 446.82 L377.19 442.32 Z" fill="#fff" stroke="#c8303c" stroke-width="1.1" />
<path d="M383.99 435.84 L388.49 440.34 L383.99 444.84 L379.49 440.34 Z" fill="#fff" stroke="#c8303c" stroke-width="1.1" />
<path d="M386.3 433.85 L390.8 438.35 L386.3 442.85 L381.8 438.35 Z" fill="#fff" stroke="#c8303c" stroke-width="1.1" />
<path d="M388.6 431.86 L393.1 436.36 L388.6 440.86 L384.1 436.36 Z" fill="#fff" stroke="#c8303c" stroke-width="1.1" />
<path d="M390.91 429.88 L395.41 434.38 L390.91 438.88 L386.41 434.38 Z" fill="#fff" stroke="#c8303c" stroke-width="1.1" />
<path d="M393.21 427.89 L397.71 432.39 L393.21 436.89 L388.71 432.39 Z" fill="#fff" stroke="#c8303c" stroke-width="1.1" />
<path d="M395.51 425.9 L400.01 430.4 L395.51 434.9 L391.01 430.4 Z" fill="#fff" stroke="#c8303c" stroke-width="1.1" />
<path d="M397.82 423.91 L402.32 428.41 L397.82 432.91 L393.32 428.41 Z" fill="#fff" stroke="#c8303c" stroke-width="1.1" />
<path d="M400.12 421.93 L404.62 426.43 L400.12 430.93 L395.62 426.43 Z" fill="#fff" stroke="#c8303c" stroke-width="1.1" />
<path d="M402.43 419.94 L406.93 424.44 L402.43 428.94 L397.93 424.44 Z" fill="#fff" stroke="#c8303c" stroke-width="1.1" />
<path d="M404.73 417.95 L409.23 422.45 L404.73 426.95 L400.23 422.45 Z" fill="#fff" stroke="#c8303c" stroke-width="1.1" />
<path d="M407.03 415.97 L411.53 420.47 L407.03 424.97 L402.53 420.47 Z" fill="#fff" stroke="#c8303c" stroke-width="1.1" />
<path d="M409.34 413.98 L413.84 418.48 L409.34 422.98 L404.84 418.48 Z" fill="#fff" stroke="#c8303c" stroke-width="1.1" />
<path d="M412.83 410.97 L417.33 415.47 L412.83 419.97 L408.33 415.47 Z" fill="#fff" stroke="#c8303c" stroke-width="1.1" />
<path d="M417.32 407.09 L421.82 411.59 L417.32 416.09 L412.82 411.59 Z" fill="#fff" stroke="#c8303c" stroke-width="1.1" />
<path d="M423.66 401.62 L428.16 406.12 L423.66 410.62 L419.16 406.12 Z" fill="#fff" stroke="#c8303c" stroke-width="1.1" />
<path d="M434.5 392.28 L439 396.78 L434.5 401.28 L430 396.78 Z" fill="#fff" stroke="#c8303c" stroke-width="1.1" />
<path d="M386.3 476.37 L390.8 480.87 L386.3 485.37 L381.8 480.87 Z" fill="#d24452" stroke="#000" stroke-width="1" />
<path d="M388.6 473.27 L393.1 477.77 L388.6 482.27 L384.1 477.77 Z" fill="#d24452" stroke="#000" stroke-width="1" />
<path d="M390.91 470.18 L395.41 474.68 L390.91 479.18 L386.41 474.68 Z" fill="#d24452" stroke="#000" stroke-width="1" />
<path d="M393.21 467.08 L397.71 471.58 L393.21 476.08 L388.71 471.58 Z" fill="#d24452" stroke="#000" stroke-width="1" />
<path d="M395.51 463.99 L400.01 468.49 L395.51 472.99 L391.01 468.49 Z" fill="#d24452" stroke="#000" stroke-width="1" />
<path d="M397.82 460.65 L402.32 465.15 L397.82 469.65 L393.32 465.15 Z" fill="#d24452" stroke="#000" stroke-width="1" />
<path d="M400.12 457.19 L404.62 461.69 L400.12 466.19 L395.62 461.69 Z" fill="#d24452" stroke="#000" stroke-width="1" />
<path d="M402.43 453.74 L406.93 458.24 L402.43 462.74 L397.93 458.24 Z" fill="#d24452" stroke="#000" stroke-width="1" />
<path d="M404.73 450.21 L409.23 454.71 L404.73 459.21 L400.23 454.71 Z" fill="#d24452" stroke="#000" stroke-width="1" />
<path d="M407.03 446.59 L411.53 451.09 L407.03 455.59 L402.53 451.09 Z" fill="#d24452" stroke="#000" stroke-width="1" />
<path d="M409.34 442.97 L413.84 447.47 L409.34 451.97 L404.84 447.47 Z" fill="#d24452" stroke="#000" stroke-width="1" />
<path d="M412.83 437.54 L417.33 442.04 L412.83 446.54 L408.33 442.04 Z" fill="#d24452" stroke="#000" stroke-width="1" />
<path d="M417.32 431.25 L421.82 435.75 L417.32 440.25 L412.82 435.75 Z" fill="#d24452" stroke="#000" stroke-width="1" />
<path d="M423.66 423.11 L428.16 427.61 L423.66 432.11 L419.16 427.61 Z" fill="#d24452" stroke="#000" stroke-width="1" />
<path d="M434.5 409.23 L439 413.73 L434.5 418.23 L430 413.73 Z" fill="#d24452" stroke="#000" stroke-width="1" />
<line x1="320.8" y1="514.03" x2="324.3" y2="514.03" stroke="#000" stroke-width="1.15" />
<line x1="518" y1="514.03" x2="514.5" y2="514.03" stroke="#000" stroke-width="1.15" />
<line x1="320.8" y1="510.05" x2="324.3" y2="510.05" stroke="#000" stroke-width="1.15" />
<line x1="518" y1="510.05" x2="514.5" y2="510.05" stroke="#000" stroke-width="1.15" />
<line x1="320.8" y1="506.97" x2="324.3" y2="506.97" stroke="#000" stroke-width="1.15" />
<line x1="518" y1="506.97" x2="514.5" y2="506.97" stroke="#000" stroke-width="1.15" />
<line x1="320.8" y1="504.45" x2="324.3" y2="504.45" stroke="#000" stroke-width="1.15" />
<line x1="518" y1="504.45" x2="514.5" y2="504.45" stroke="#000" stroke-width="1.15" />
<line x1="320.8" y1="502.33" x2="324.3" y2="502.33" stroke="#000" stroke-width="1.15" />
<line x1="518" y1="502.33" x2="514.5" y2="502.33" stroke="#000" stroke-width="1.15" />
<line x1="320.8" y1="500.48" x2="324.3" y2="500.48" stroke="#000" stroke-width="1.15" />
<line x1="518" y1="500.48" x2="514.5" y2="500.48" stroke="#000" stroke-width="1.15" />
<line x1="320.8" y1="498.86" x2="324.3" y2="498.86" stroke="#000" stroke-width="1.15" />
<line x1="518" y1="498.86" x2="514.5" y2="498.86" stroke="#000" stroke-width="1.15" />
<line x1="320.8" y1="497.4" x2="326.1" y2="497.4" stroke="#000" stroke-width="1.15" />
<line x1="518" y1="497.4" x2="512.7" y2="497.4" stroke="#000" stroke-width="1.15" />
<line x1="320.8" y1="487.83" x2="324.3" y2="487.83" stroke="#000" stroke-width="1.15" />
<line x1="518" y1="487.83" x2="514.5" y2="487.83" stroke="#000" stroke-width="1.15" />
<line x1="320.8" y1="482.23" x2="324.3" y2="482.23" stroke="#000" stroke-width="1.15" />
<line x1="518" y1="482.23" x2="514.5" y2="482.23" stroke="#000" stroke-width="1.15" />
<line x1="320.8" y1="478.25" x2="324.3" y2="478.25" stroke="#000" stroke-width="1.15" />
<line x1="518" y1="478.25" x2="514.5" y2="478.25" stroke="#000" stroke-width="1.15" />
<line x1="320.8" y1="475.17" x2="324.3" y2="475.17" stroke="#000" stroke-width="1.15" />
<line x1="518" y1="475.17" x2="514.5" y2="475.17" stroke="#000" stroke-width="1.15" />
<line x1="320.8" y1="472.65" x2="324.3" y2="472.65" stroke="#000" stroke-width="1.15" />
<line x1="518" y1="472.65" x2="514.5" y2="472.65" stroke="#000" stroke-width="1.15" />
<line x1="320.8" y1="470.53" x2="324.3" y2="470.53" stroke="#000" stroke-width="1.15" />
<line x1="518" y1="470.53" x2="514.5" y2="470.53" stroke="#000" stroke-width="1.15" />
<line x1="320.8" y1="468.68" x2="324.3" y2="468.68" stroke="#000" stroke-width="1.15" />
<line x1="518" y1="468.68" x2="514.5" y2="468.68" stroke="#000" stroke-width="1.15" />
<line x1="320.8" y1="467.06" x2="324.3" y2="467.06" stroke="#000" stroke-width="1.15" />
<line x1="518" y1="467.06" x2="514.5" y2="467.06" stroke="#000" stroke-width="1.15" />
<line x1="320.8" y1="465.6" x2="326.1" y2="465.6" stroke="#000" stroke-width="1.15" />
<line x1="518" y1="465.6" x2="512.7" y2="465.6" stroke="#000" stroke-width="1.15" />
<line x1="320.8" y1="456.03" x2="324.3" y2="456.03" stroke="#000" stroke-width="1.15" />
<line x1="518" y1="456.03" x2="514.5" y2="456.03" stroke="#000" stroke-width="1.15" />
<line x1="320.8" y1="450.43" x2="324.3" y2="450.43" stroke="#000" stroke-width="1.15" />
<line x1="518" y1="450.43" x2="514.5" y2="450.43" stroke="#000" stroke-width="1.15" />
<line x1="320.8" y1="446.45" x2="324.3" y2="446.45" stroke="#000" stroke-width="1.15" />
<line x1="518" y1="446.45" x2="514.5" y2="446.45" stroke="#000" stroke-width="1.15" />
<line x1="320.8" y1="443.37" x2="324.3" y2="443.37" stroke="#000" stroke-width="1.15" />
<line x1="518" y1="443.37" x2="514.5" y2="443.37" stroke="#000" stroke-width="1.15" />
<line x1="320.8" y1="440.85" x2="324.3" y2="440.85" stroke="#000" stroke-width="1.15" />
<line x1="518" y1="440.85" x2="514.5" y2="440.85" stroke="#000" stroke-width="1.15" />
<line x1="320.8" y1="438.73" x2="324.3" y2="438.73" stroke="#000" stroke-width="1.15" />
<line x1="518" y1="438.73" x2="514.5" y2="438.73" stroke="#000" stroke-width="1.15" />
<line x1="320.8" y1="436.88" x2="324.3" y2="436.88" stroke="#000" stroke-width="1.15" />
<line x1="518" y1="436.88" x2="514.5" y2="436.88" stroke="#000" stroke-width="1.15" />
<line x1="320.8" y1="435.26" x2="324.3" y2="435.26" stroke="#000" stroke-width="1.15" />
<line x1="518" y1="435.26" x2="514.5" y2="435.26" stroke="#000" stroke-width="1.15" />
<line x1="320.8" y1="433.8" x2="326.1" y2="433.8" stroke="#000" stroke-width="1.15" />
<line x1="518" y1="433.8" x2="512.7" y2="433.8" stroke="#000" stroke-width="1.15" />
<line x1="320.8" y1="424.23" x2="324.3" y2="424.23" stroke="#000" stroke-width="1.15" />
<line x1="518" y1="424.23" x2="514.5" y2="424.23" stroke="#000" stroke-width="1.15" />
<line x1="320.8" y1="418.63" x2="324.3" y2="418.63" stroke="#000" stroke-width="1.15" />
<line x1="518" y1="418.63" x2="514.5" y2="418.63" stroke="#000" stroke-width="1.15" />
<line x1="320.8" y1="414.65" x2="324.3" y2="414.65" stroke="#000" stroke-width="1.15" />
<line x1="518" y1="414.65" x2="514.5" y2="414.65" stroke="#000" stroke-width="1.15" />
<line x1="320.8" y1="411.57" x2="324.3" y2="411.57" stroke="#000" stroke-width="1.15" />
<line x1="518" y1="411.57" x2="514.5" y2="411.57" stroke="#000" stroke-width="1.15" />
<line x1="320.8" y1="409.05" x2="324.3" y2="409.05" stroke="#000" stroke-width="1.15" />
<line x1="518" y1="409.05" x2="514.5" y2="409.05" stroke="#000" stroke-width="1.15" />
<line x1="320.8" y1="406.93" x2="324.3" y2="406.93" stroke="#000" stroke-width="1.15" />
<line x1="518" y1="406.93" x2="514.5" y2="406.93" stroke="#000" stroke-width="1.15" />
<line x1="320.8" y1="405.08" x2="324.3" y2="405.08" stroke="#000" stroke-width="1.15" />
<line x1="518" y1="405.08" x2="514.5" y2="405.08" stroke="#000" stroke-width="1.15" />
<line x1="320.8" y1="403.46" x2="324.3" y2="403.46" stroke="#000" stroke-width="1.15" />
<line x1="518" y1="403.46" x2="514.5" y2="403.46" stroke="#000" stroke-width="1.15" />
<line x1="320.8" y1="402" x2="326.1" y2="402" stroke="#000" stroke-width="1.15" />
<line x1="518" y1="402" x2="512.7" y2="402" stroke="#000" stroke-width="1.15" />
<line x1="320.8" y1="392.43" x2="324.3" y2="392.43" stroke="#000" stroke-width="1.15" />
<line x1="518" y1="392.43" x2="514.5" y2="392.43" stroke="#000" stroke-width="1.15" />
<line x1="320.8" y1="386.83" x2="324.3" y2="386.83" stroke="#000" stroke-width="1.15" />
<line x1="518" y1="386.83" x2="514.5" y2="386.83" stroke="#000" stroke-width="1.15" />
<line x1="320.8" y1="382.85" x2="324.3" y2="382.85" stroke="#000" stroke-width="1.15" />
<line x1="518" y1="382.85" x2="514.5" y2="382.85" stroke="#000" stroke-width="1.15" />
<line x1="320.8" y1="379.77" x2="324.3" y2="379.77" stroke="#000" stroke-width="1.15" />
<line x1="518" y1="379.77" x2="514.5" y2="379.77" stroke="#000" stroke-width="1.15" />
<line x1="320.8" y1="377.25" x2="324.3" y2="377.25" stroke="#000" stroke-width="1.15" />
<line x1="518" y1="377.25" x2="514.5" y2="377.25" stroke="#000" stroke-width="1.15" />
<line x1="320.8" y1="375.13" x2="324.3" y2="375.13" stroke="#000" stroke-width="1.15" />
<line x1="518" y1="375.13" x2="514.5" y2="375.13" stroke="#000" stroke-width="1.15" />
<line x1="320.8" y1="373.28" x2="324.3" y2="373.28" stroke="#000" stroke-width="1.15" />
<line x1="518" y1="373.28" x2="514.5" y2="373.28" stroke="#000" stroke-width="1.15" />
<line x1="320.8" y1="371.66" x2="324.3" y2="371.66" stroke="#000" stroke-width="1.15" />
<line x1="518" y1="371.66" x2="514.5" y2="371.66" stroke="#000" stroke-width="1.15" />
<line x1="320.8" y1="370.2" x2="326.1" y2="370.2" stroke="#000" stroke-width="1.15" />
<line x1="518" y1="370.2" x2="512.7" y2="370.2" stroke="#000" stroke-width="1.15" />
<line x1="320.8" y1="360.63" x2="324.3" y2="360.63" stroke="#000" stroke-width="1.15" />
<line x1="518" y1="360.63" x2="514.5" y2="360.63" stroke="#000" stroke-width="1.15" />
<line x1="320.8" y1="355.03" x2="324.3" y2="355.03" stroke="#000" stroke-width="1.15" />
<line x1="518" y1="355.03" x2="514.5" y2="355.03" stroke="#000" stroke-width="1.15" />
<line x1="320.8" y1="351.05" x2="324.3" y2="351.05" stroke="#000" stroke-width="1.15" />
<line x1="518" y1="351.05" x2="514.5" y2="351.05" stroke="#000" stroke-width="1.15" />
<line x1="320.8" y1="347.97" x2="324.3" y2="347.97" stroke="#000" stroke-width="1.15" />
<line x1="518" y1="347.97" x2="514.5" y2="347.97" stroke="#000" stroke-width="1.15" />
<line x1="320.8" y1="345.45" x2="324.3" y2="345.45" stroke="#000" stroke-width="1.15" />
<line x1="518" y1="345.45" x2="514.5" y2="345.45" stroke="#000" stroke-width="1.15" />
<line x1="320.8" y1="343.33" x2="324.3" y2="343.33" stroke="#000" stroke-width="1.15" />
<line x1="518" y1="343.33" x2="514.5" y2="343.33" stroke="#000" stroke-width="1.15" />
<line x1="320.8" y1="341.48" x2="324.3" y2="341.48" stroke="#000" stroke-width="1.15" />
<line x1="518" y1="341.48" x2="514.5" y2="341.48" stroke="#000" stroke-width="1.15" />
<line x1="320.8" y1="339.86" x2="324.3" y2="339.86" stroke="#000" stroke-width="1.15" />
<line x1="518" y1="339.86" x2="514.5" y2="339.86" stroke="#000" stroke-width="1.15" />
<line x1="320.8" y1="338.4" x2="326.1" y2="338.4" stroke="#000" stroke-width="1.15" />
<line x1="518" y1="338.4" x2="512.7" y2="338.4" stroke="#000" stroke-width="1.15" />
<line x1="320.8" y1="328.83" x2="324.3" y2="328.83" stroke="#000" stroke-width="1.15" />
<line x1="518" y1="328.83" x2="514.5" y2="328.83" stroke="#000" stroke-width="1.15" />
<line x1="320.8" y1="323.23" x2="324.3" y2="323.23" stroke="#000" stroke-width="1.15" />
<line x1="518" y1="323.23" x2="514.5" y2="323.23" stroke="#000" stroke-width="1.15" />
<line x1="365.5" y1="517.4" x2="365.5" y2="512.1" stroke="#000" stroke-width="1" />
<line x1="365.5" y1="321.8" x2="365.5" y2="327.1" stroke="#000" stroke-width="1" />
<line x1="437.5" y1="517.4" x2="437.5" y2="512.1" stroke="#000" stroke-width="1" />
<line x1="437.5" y1="321.8" x2="437.5" y2="327.1" stroke="#000" stroke-width="1" />
<line x1="509.5" y1="517.4" x2="509.5" y2="512.1" stroke="#000" stroke-width="1" />
<line x1="509.5" y1="321.8" x2="509.5" y2="327.1" stroke="#000" stroke-width="1" />
<rect x="320.8" y="321.8" width="197.2" height="195.6" fill="none" stroke="#000" stroke-width="1.5" />
<text x="365.5" y="529.7" font-size="11.4" text-anchor="middle" fill="#000" stroke="#000" stroke-width="0.22"  textLength="21.8" lengthAdjust="spacing">10<tspan font-size="7.98" dy="-4.33">−2</tspan></text>
<text x="438.3" y="529.7" font-size="11.4" text-anchor="middle" fill="#000" stroke="#000" stroke-width="0.22"  textLength="15.6" lengthAdjust="spacing">10<tspan font-size="7.98" dy="-4.33">0</tspan></text>
<text x="510.3" y="529.7" font-size="11.4" text-anchor="middle" fill="#000" stroke="#000" stroke-width="0.22"  textLength="15.6" lengthAdjust="spacing">10<tspan font-size="7.98" dy="-4.33">2</tspan></text>
<text x="316.4" y="342.6" font-size="11.4" text-anchor="end" fill="#000" stroke="#000" stroke-width="0.22"  textLength="15.6" lengthAdjust="spacing">10<tspan font-size="7.98" dy="-4.33">2</tspan></text>
<text x="316.4" y="374.4" font-size="11.4" text-anchor="end" fill="#000" stroke="#000" stroke-width="0.22"  textLength="15.6" lengthAdjust="spacing">10<tspan font-size="7.98" dy="-4.33">1</tspan></text>
<text x="316.4" y="406.2" font-size="11.4" text-anchor="end" fill="#000" stroke="#000" stroke-width="0.22"  textLength="15.6" lengthAdjust="spacing">10<tspan font-size="7.98" dy="-4.33">0</tspan></text>
<text x="316.4" y="438" font-size="11.4" text-anchor="end" fill="#000" stroke="#000" stroke-width="0.22"  textLength="21.8" lengthAdjust="spacing">10<tspan font-size="7.98" dy="-4.33">−1</tspan></text>
<text x="316.4" y="469.8" font-size="11.4" text-anchor="end" fill="#000" stroke="#000" stroke-width="0.22"  textLength="21.8" lengthAdjust="spacing">10<tspan font-size="7.98" dy="-4.33">−2</tspan></text>
<text x="316.4" y="501.6" font-size="11.4" text-anchor="end" fill="#000" stroke="#000" stroke-width="0.22"  textLength="21.8" lengthAdjust="spacing">10<tspan font-size="7.98" dy="-4.33">−3</tspan></text>
<text x="419.3" y="542.8" font-size="12" text-anchor="middle" fill="#000" stroke="#000" stroke-width="0.22"  textLength="17.5" lengthAdjust="spacing"><tspan font-style="italic">&#969;&#964;</tspan><tspan font-size="8.4" dy="2.4" dx="0">c</tspan></text>
<text x="283.4" y="424" font-size="12.5" text-anchor="middle" fill="#000" stroke="#000" stroke-width="0.22" transform="rotate(-90 283.4 424)" letter-spacing="1.3"><tspan font-style="italic">G</tspan>&#8242;/<tspan font-style="italic">G</tspan><tspan font-size="8" dy="2.6">p</tspan><tspan dy="-2.6"> &amp; </tspan><tspan font-style="italic">G</tspan>&#8243;/<tspan font-style="italic">G</tspan><tspan font-size="8" dy="-5">M</tspan><tspan font-size="8" dy="8" dx="-8.6">c</tspan></text>
<circle cx="487.1" cy="485" r="2.7" fill="#3464b4" stroke="#000" stroke-width="1"/>
<path d="M493.2 480.4 L494.34 483.44 L497.57 483.58 L495.04 485.6 L495.9 488.72 L493.2 486.93 L490.5 488.72 L491.36 485.6 L488.83 483.58 L492.06 483.44 Z" fill="#f09646" stroke="#000" stroke-width="1" stroke-linejoin="miter"/>
<rect x="496.9" y="482.3" width="5.4" height="5.4" fill="#3c9c54" stroke="#000" stroke-width="1" />
<path d="M505.9 481.1 L509.8 485 L505.9 488.9 L502 485 Z" fill="#d24452" stroke="#000" stroke-width="1" />
<text x="478.3" y="488.6" font-size="12" text-anchor="end" fill="#000" stroke="#000" stroke-width="0.22" ><tspan font-style="italic">G</tspan>&#8242;</text>
<circle cx="487.1" cy="501.2" r="2.7" fill="#fff" stroke="#3a7ad0" stroke-width="1.1"/>
<path d="M493.2 496.6 L494.34 499.64 L497.57 499.78 L495.04 501.8 L495.9 504.92 L493.2 503.13 L490.5 504.92 L491.36 501.8 L488.83 499.78 L492.06 499.64 Z" fill="#fff" stroke="#f09050" stroke-width="1.1" stroke-linejoin="miter"/>
<rect x="496.9" y="498.5" width="5.4" height="5.4" fill="#fff" stroke="#30a050" stroke-width="1.1" />
<path d="M505.9 497.3 L509.8 501.2 L505.9 505.1 L502 501.2 Z" fill="#fff" stroke="#c8303c" stroke-width="1.1" />
<text x="478.3" y="504.8" font-size="12" text-anchor="end" fill="#000" stroke="#000" stroke-width="0.22" ><tspan font-style="italic">G</tspan>&#8243;</text>
<rect x="328.3" y="329.6" width="71.3" height="59.15" fill="#fff" stroke="none" stroke-width="1" />
<clipPath id="cliphi"><rect x="328.3" y="329.6" width="71.3" height="59.15"/></clipPath>
<g clip-path="url(#cliphi)">
<path d="M331.25 382.2 L337.62 377.52 L344 372.79 L350.38 367.97 L356.75 363.02 L363.12 357.93 L369.5 352.67 L375.88 347.27 L382.25 341.74 L388.62 336.12 L395 330.45 L395 337.05 L388.62 342.72 L382.25 348.34 L375.88 353.87 L369.5 359.27 L363.12 364.53 L356.75 369.62 L350.38 374.57 L344 379.39 L337.62 384.12 L331.25 388.8 Z" fill="#e2e2e2" stroke="none" stroke-width="1" />
<path d="M331.25 385.5 L337.62 380.82 L344 376.09 L350.38 371.27 L356.75 366.32 L363.12 361.23 L369.5 355.97 L375.88 350.57 L382.25 345.04 L388.62 339.42 L395 333.75" fill="none" stroke="#555" stroke-width="0.7" />
<path d="M345 373.34 L347.2 375.54 L345 377.74 L342.8 375.54 Z" fill="#d24452" stroke="#000" stroke-width="0.8" />
<path d="M345.94 372.63 L348.14 374.83 L345.94 377.03 L343.74 374.83 Z" fill="#d24452" stroke="#000" stroke-width="0.8" />
<path d="M346.89 371.92 L349.09 374.12 L346.89 376.32 L344.69 374.12 Z" fill="#d24452" stroke="#000" stroke-width="0.8" />
<path d="M347.83 371.21 L350.03 373.41 L347.83 375.61 L345.63 373.41 Z" fill="#d24452" stroke="#000" stroke-width="0.8" />
<path d="M348.78 370.49 L350.98 372.69 L348.78 374.89 L346.58 372.69 Z" fill="#d24452" stroke="#000" stroke-width="0.8" />
<path d="M349.72 369.77 L351.92 371.97 L349.72 374.17 L347.52 371.97 Z" fill="#d24452" stroke="#000" stroke-width="0.8" />
<path d="M350.67 369.05 L352.87 371.25 L350.67 373.45 L348.47 371.25 Z" fill="#d24452" stroke="#000" stroke-width="0.8" />
<path d="M351.61 368.32 L353.81 370.52 L351.61 372.72 L349.41 370.52 Z" fill="#d24452" stroke="#000" stroke-width="0.8" />
<path d="M352.56 367.59 L354.76 369.79 L352.56 371.99 L350.36 369.79 Z" fill="#d24452" stroke="#000" stroke-width="0.8" />
<path d="M353.5 366.86 L355.7 369.06 L353.5 371.26 L351.3 369.06 Z" fill="#d24452" stroke="#000" stroke-width="0.8" />
<path d="M354.44 366.13 L356.64 368.33 L354.44 370.53 L352.24 368.33 Z" fill="#d24452" stroke="#000" stroke-width="0.8" />
<path d="M355.39 365.39 L357.59 367.59 L355.39 369.79 L353.19 367.59 Z" fill="#d24452" stroke="#000" stroke-width="0.8" />
<path d="M356.33 364.65 L358.53 366.85 L356.33 369.05 L354.13 366.85 Z" fill="#d24452" stroke="#000" stroke-width="0.8" />
<path d="M357.28 363.91 L359.48 366.11 L357.28 368.31 L355.08 366.11 Z" fill="#d24452" stroke="#000" stroke-width="0.8" />
<path d="M358.22 363.16 L360.42 365.36 L358.22 367.56 L356.02 365.36 Z" fill="#d24452" stroke="#000" stroke-width="0.8" />
<path d="M359.17 362.41 L361.37 364.61 L359.17 366.81 L356.97 364.61 Z" fill="#d24452" stroke="#000" stroke-width="0.8" />
<path d="M360.11 361.65 L362.31 363.85 L360.11 366.05 L357.91 363.85 Z" fill="#d24452" stroke="#000" stroke-width="0.8" />
<path d="M361.06 360.9 L363.26 363.1 L361.06 365.3 L358.86 363.1 Z" fill="#d24452" stroke="#000" stroke-width="0.8" />
<path d="M362 360.14 L364.2 362.34 L362 364.54 L359.8 362.34 Z" fill="#d24452" stroke="#000" stroke-width="0.8" />
<path d="M362.94 359.37 L365.14 361.57 L362.94 363.77 L360.74 361.57 Z" fill="#d24452" stroke="#000" stroke-width="0.8" />
<path d="M363.89 358.6 L366.09 360.8 L363.89 363 L361.69 360.8 Z" fill="#d24452" stroke="#000" stroke-width="0.8" />
<path d="M364.83 357.83 L367.03 360.03 L364.83 362.23 L362.63 360.03 Z" fill="#d24452" stroke="#000" stroke-width="0.8" />
<path d="M365.78 357.06 L367.98 359.26 L365.78 361.46 L363.58 359.26 Z" fill="#d24452" stroke="#000" stroke-width="0.8" />
<path d="M366.72 356.28 L368.92 358.48 L366.72 360.68 L364.52 358.48 Z" fill="#d24452" stroke="#000" stroke-width="0.8" />
<path d="M367.67 355.5 L369.87 357.7 L367.67 359.9 L365.47 357.7 Z" fill="#d24452" stroke="#000" stroke-width="0.8" />
<path d="M368.61 354.71 L370.81 356.91 L368.61 359.11 L366.41 356.91 Z" fill="#d24452" stroke="#000" stroke-width="0.8" />
<path d="M369.56 353.93 L371.76 356.13 L369.56 358.33 L367.36 356.13 Z" fill="#d24452" stroke="#000" stroke-width="0.8" />
<path d="M370.5 353.13 L372.7 355.33 L370.5 357.53 L368.3 355.33 Z" fill="#d24452" stroke="#000" stroke-width="0.8" />
<path d="M371.44 352.34 L373.64 354.54 L371.44 356.74 L369.24 354.54 Z" fill="#d24452" stroke="#000" stroke-width="0.8" />
<path d="M372.39 351.54 L374.59 353.74 L372.39 355.94 L370.19 353.74 Z" fill="#d24452" stroke="#000" stroke-width="0.8" />
<path d="M373.33 350.74 L375.53 352.94 L373.33 355.14 L371.13 352.94 Z" fill="#d24452" stroke="#000" stroke-width="0.8" />
<path d="M374.28 349.94 L376.48 352.14 L374.28 354.34 L372.08 352.14 Z" fill="#d24452" stroke="#000" stroke-width="0.8" />
<path d="M375.22 349.13 L377.42 351.33 L375.22 353.53 L373.02 351.33 Z" fill="#d24452" stroke="#000" stroke-width="0.8" />
<path d="M376.17 348.32 L378.37 350.52 L376.17 352.72 L373.97 350.52 Z" fill="#d24452" stroke="#000" stroke-width="0.8" />
<path d="M377.11 347.51 L379.31 349.71 L377.11 351.91 L374.91 349.71 Z" fill="#d24452" stroke="#000" stroke-width="0.8" />
<path d="M378.06 346.69 L380.26 348.89 L378.06 351.09 L375.86 348.89 Z" fill="#d24452" stroke="#000" stroke-width="0.8" />
<path d="M379 345.87 L381.2 348.07 L379 350.27 L376.8 348.07 Z" fill="#d24452" stroke="#000" stroke-width="0.8" />
<path d="M379.94 345.05 L382.14 347.25 L379.94 349.45 L377.74 347.25 Z" fill="#d24452" stroke="#000" stroke-width="0.8" />
<path d="M380.89 344.23 L383.09 346.43 L380.89 348.63 L378.69 346.43 Z" fill="#d24452" stroke="#000" stroke-width="0.8" />
<path d="M381.83 343.41 L384.03 345.61 L381.83 347.81 L379.63 345.61 Z" fill="#d24452" stroke="#000" stroke-width="0.8" />
<path d="M382.78 342.58 L384.98 344.78 L382.78 346.98 L380.58 344.78 Z" fill="#d24452" stroke="#000" stroke-width="0.8" />
<path d="M383.72 341.75 L385.92 343.95 L383.72 346.15 L381.52 343.95 Z" fill="#d24452" stroke="#000" stroke-width="0.8" />
<path d="M384.67 340.92 L386.87 343.12 L384.67 345.32 L382.47 343.12 Z" fill="#d24452" stroke="#000" stroke-width="0.8" />
<path d="M385.61 340.09 L387.81 342.29 L385.61 344.49 L383.41 342.29 Z" fill="#d24452" stroke="#000" stroke-width="0.8" />
<path d="M386.56 339.25 L388.76 341.45 L386.56 343.65 L384.36 341.45 Z" fill="#d24452" stroke="#000" stroke-width="0.8" />
<path d="M387.5 338.42 L389.7 340.62 L387.5 342.82 L385.3 340.62 Z" fill="#d24452" stroke="#000" stroke-width="0.8" />
</g>
<line x1="352.5" y1="388.75" x2="352.5" y2="383.75" stroke="#000" stroke-width="1" />
<line x1="352.5" y1="329.6" x2="352.5" y2="334.6" stroke="#000" stroke-width="1" />
<line x1="397" y1="388.75" x2="397" y2="383.75" stroke="#000" stroke-width="1" />
<line x1="397" y1="329.6" x2="397" y2="334.6" stroke="#000" stroke-width="1" />
<line x1="328.3" y1="352" x2="333.3" y2="352" stroke="#000" stroke-width="1" />
<line x1="399.6" y1="352" x2="394.6" y2="352" stroke="#000" stroke-width="1" />
<rect x="328.3" y="329.6" width="71.3" height="59.15" fill="none" stroke="#000" stroke-width="1.4" />
<text x="353.5" y="399.6" font-size="11" text-anchor="middle" fill="#000" stroke="#000" stroke-width="0.22"  textLength="14.4" lengthAdjust="spacing">10<tspan font-size="7.98" dy="-4.33">1</tspan></text>
<text x="397.3" y="399.6" font-size="11" text-anchor="middle" fill="#000" stroke="#000" stroke-width="0.22"  textLength="14.4" lengthAdjust="spacing">10<tspan font-size="7.98" dy="-4.33">3</tspan></text>
<text x="404.6" y="355.6" font-size="11" text-anchor="start" fill="#000" stroke="#000" stroke-width="0.22"  textLength="14.2" lengthAdjust="spacing">10<tspan font-size="7.98" dy="-4.33">2</tspan></text>
<text x="340.4" y="414.6" font-size="13.5" text-anchor="start" fill="#000" stroke="#000" stroke-width="0.22" letter-spacing="1.8"><tspan font-style="italic">&#964;</tspan>/<tspan font-style="italic">&#964;</tspan><tspan font-size="8.5" dy="2.6">J</tspan><tspan dy="-2.6">(</tspan><tspan font-style="italic">&#964;</tspan>)</text>
<text x="430.4" y="358.3" font-size="12.5" text-anchor="middle" fill="#000" stroke="#000" stroke-width="0.22" transform="rotate(-90 430.4 358.3)" letter-spacing="0.9">&#10216;&#916;<tspan font-style="italic">r</tspan><tspan font-size="8.5" dy="-5">2</tspan><tspan dy="5">&#10217;/&#916;</tspan><tspan font-size="8.5" dy="-5.5">2</tspan><tspan font-size="8.5" dy="8.5" dx="-5.3">0</tspan></text>
<rect x="43.75" y="597.6" width="52.5" height="26.4" fill="#c0c0c0" stroke="none" stroke-width="1" />
<text x="69.5" y="613.4" font-size="11.5" text-anchor="middle" fill="#000" stroke="#000" stroke-width="0.22"  textLength="23.5" lengthAdjust="spacing">BSA</text>
<rect x="96.25" y="597.6" width="52.5" height="26.4" fill="#f3f3f3" stroke="none" stroke-width="1" />
<text x="122" y="613.4" font-size="11.5" text-anchor="middle" fill="#000" stroke="#000" stroke-width="0.22"  textLength="13.5" lengthAdjust="spacing">Fg</text>
<rect x="148.75" y="597.6" width="52.5" height="26.4" fill="#e6e6e6" stroke="none" stroke-width="1" />
<text x="174.5" y="613.4" font-size="11.5" text-anchor="middle" fill="#000" stroke="#000" stroke-width="0.22"  textLength="19.5" lengthAdjust="spacing">IgG</text>
<rect x="43.75" y="624" width="52.5" height="27.2" fill="#ffffff" stroke="none" stroke-width="1" />
<text x="69.5" y="640.2" font-size="11.5" text-anchor="middle" fill="#000" stroke="#000" stroke-width="0.22"  textLength="21.5" lengthAdjust="spacing">IgM</text>
<rect x="96.25" y="624" width="52.5" height="27.2" fill="#fcfcfc" stroke="none" stroke-width="1" />
<text x="122" y="640.2" font-size="11.5" text-anchor="middle" fill="#000" stroke="#000" stroke-width="0.22"  textLength="17.5" lengthAdjust="spacing">&#947;-g</text>
<rect x="148.75" y="624" width="52.5" height="27.2" fill="#393939" stroke="none" stroke-width="1" />
<text x="174.5" y="640.2" font-size="11.5" text-anchor="middle" fill="#fff" stroke="#fff" stroke-width="0.22"  textLength="15.8" lengthAdjust="spacing">M1</text>
<rect x="43.75" y="651.2" width="52.5" height="26.8" fill="#0b0b0b" stroke="none" stroke-width="1" />
<text x="69.5" y="667.2" font-size="11.5" text-anchor="middle" fill="#fff" stroke="#fff" stroke-width="0.22"  textLength="17.5" lengthAdjust="spacing">M2</text>
<defs><linearGradient id="cb" x1="0" y1="0" x2="0" y2="1"><stop offset="0" stop-color="#000"/><stop offset="0.5" stop-color="#7a7a7a"/><stop offset="1" stop-color="#fff"/></linearGradient></defs>
<rect x="211.5" y="597" width="7.7" height="68" fill="url(#cb)" stroke="none" stroke-width="1" />
<text x="223.6" y="599.6" font-size="12" text-anchor="start" fill="#000" stroke="#000" stroke-width="0.22" ><tspan font-style="italic">&#951;</tspan></text>
<text x="230.4" y="595.6" font-size="8" text-anchor="start" fill="#000" stroke="#000" stroke-width="0.22"  textLength="10.8" lengthAdjust="spacing">BP</text>
<text x="229.2" y="602.5" font-size="8" text-anchor="start" fill="#000" stroke="#000" stroke-width="0.22" >0</text>
<text x="223.6" y="681.5" font-size="12" text-anchor="start" fill="#000" stroke="#000" stroke-width="0.22" ><tspan font-style="italic">&#951;</tspan></text>
<text x="230.4" y="677.5" font-size="8" text-anchor="start" fill="#000" stroke="#000" stroke-width="0.22"  textLength="16" lengthAdjust="spacing">PBS</text>
<text x="229.2" y="684.4" font-size="8" text-anchor="start" fill="#000" stroke="#000" stroke-width="0.22" >0</text>
<clipPath id="clipj"><rect x="320.6" y="597" width="197.4" height="80.8"/></clipPath>
<g clip-path="url(#clipj)">
<path d="M506.8 675.3 L506.68 671.42 L506.31 667.56 L505.71 663.71 L504.86 659.9 L503.78 656.13 L502.46 652.41 L500.91 648.75 L499.14 645.17 L497.14 641.67 L494.92 638.26 L492.5 634.95 L489.87 631.76 L487.05 628.68 L484.03 625.73 L480.84 622.92 L477.47 620.25 L473.94 617.73 L470.26 615.37 L466.44 613.17 L462.48 611.14 L458.4 609.29 L454.21 607.62 L449.93 606.14 L445.55 604.85 L441.1 603.74 L436.59 602.84 L432.03 602.13 L427.43 601.63 L422.8 601.32 L418.16 601.22 L413.52 601.32 L408.89 601.63 L404.29 602.13 L399.73 602.84 L395.22 603.74 L390.77 604.85 L386.39 606.14 L382.11 607.62 L377.92 609.29 L373.84 611.14 L369.88 613.17 L366.06 615.37 L362.38 617.73 L358.85 620.25 L355.48 622.92 L352.29 625.73 L349.27 628.68 L346.45 631.76 L343.82 634.95 L341.4 638.26 L339.18 641.67 L337.18 645.17 L335.41 648.75 L333.86 652.41 L332.54 656.13 L331.46 659.9 L330.61 663.71 L330.01 667.56 L329.64 671.42 L329.52 675.3" fill="none" stroke="#f5a3a3" stroke-width="10.5" />
<path d="M506.8 675.3 L506.68 671.42 L506.31 667.56 L505.71 663.71 L504.86 659.9 L503.78 656.13 L502.46 652.41 L500.91 648.75 L499.14 645.17 L497.14 641.67 L494.92 638.26 L492.5 634.95 L489.87 631.76 L487.05 628.68 L484.03 625.73 L480.84 622.92 L477.47 620.25 L473.94 617.73 L470.26 615.37 L466.44 613.17 L462.48 611.14 L458.4 609.29 L454.21 607.62 L449.93 606.14 L445.55 604.85 L441.1 603.74 L436.59 602.84 L432.03 602.13 L427.43 601.63 L422.8 601.32 L418.16 601.22 L413.52 601.32 L408.89 601.63 L404.29 602.13 L399.73 602.84 L395.22 603.74 L390.77 604.85 L386.39 606.14 L382.11 607.62 L377.92 609.29 L373.84 611.14 L369.88 613.17 L366.06 615.37 L362.38 617.73 L358.85 620.25 L355.48 622.92 L352.29 625.73 L349.27 628.68 L346.45 631.76 L343.82 634.95 L341.4 638.26 L339.18 641.67 L337.18 645.17 L335.41 648.75 L333.86 652.41 L332.54 656.13 L331.46 659.9 L330.61 663.71 L330.01 667.56 L329.64 671.42 L329.52 675.3" fill="none" stroke="#b03030" stroke-width="0.8" />
<path d="M506.8 675.3 L506.7 671.97 L506.38 668.65 L505.86 665.34 L505.14 662.06 L504.2 658.82 L503.07 655.63 L501.74 652.49 L500.21 649.41 L498.5 646.4 L496.59 643.47 L494.51 640.63 L492.25 637.88 L489.82 635.24 L487.23 632.7 L484.49 630.28 L481.6 627.99 L478.56 625.82 L475.4 623.8 L472.11 621.91 L468.71 620.17 L465.21 618.58 L461.61 617.14 L457.92 615.87 L454.16 614.75 L450.34 613.81 L446.46 613.03 L442.54 612.42 L438.59 611.99 L434.61 611.72 L430.63 611.64 L426.64 611.72 L422.66 611.99 L418.71 612.42 L414.79 613.03 L410.91 613.81 L407.09 614.75 L403.33 615.87 L399.64 617.14 L396.04 618.58 L392.54 620.17 L389.14 621.91 L385.85 623.8 L382.69 625.82 L379.65 627.99 L376.76 630.28 L374.02 632.7 L371.43 635.24 L369 637.88 L366.74 640.63 L364.66 643.47 L362.75 646.4 L361.04 649.41 L359.51 652.49 L358.18 655.63 L357.05 658.82 L356.11 662.06 L355.39 665.34 L354.87 668.65 L354.55 671.97 L354.45 675.3" fill="none" stroke="#f6b57e" stroke-width="10.5" />
<path d="M506.8 675.3 L506.7 671.97 L506.38 668.65 L505.86 665.34 L505.14 662.06 L504.2 658.82 L503.07 655.63 L501.74 652.49 L500.21 649.41 L498.5 646.4 L496.59 643.47 L494.51 640.63 L492.25 637.88 L489.82 635.24 L487.23 632.7 L484.49 630.28 L481.6 627.99 L478.56 625.82 L475.4 623.8 L472.11 621.91 L468.71 620.17 L465.21 618.58 L461.61 617.14 L457.92 615.87 L454.16 614.75 L450.34 613.81 L446.46 613.03 L442.54 612.42 L438.59 611.99 L434.61 611.72 L430.63 611.64 L426.64 611.72 L422.66 611.99 L418.71 612.42 L414.79 613.03 L410.91 613.81 L407.09 614.75 L403.33 615.87 L399.64 617.14 L396.04 618.58 L392.54 620.17 L389.14 621.91 L385.85 623.8 L382.69 625.82 L379.65 627.99 L376.76 630.28 L374.02 632.7 L371.43 635.24 L369 637.88 L366.74 640.63 L364.66 643.47 L362.75 646.4 L361.04 649.41 L359.51 652.49 L358.18 655.63 L357.05 658.82 L356.11 662.06 L355.39 665.34 L354.87 668.65 L354.55 671.97 L354.45 675.3" fill="none" stroke="#c06a20" stroke-width="0.8" />
<path d="M506.8 675.3 L506.73 673.03 L506.52 670.77 L506.16 668.53 L505.67 666.3 L505.03 664.1 L504.26 661.92 L503.36 659.79 L502.32 657.69 L501.15 655.65 L499.86 653.65 L498.44 651.72 L496.91 649.85 L495.26 648.06 L493.5 646.33 L491.63 644.69 L489.66 643.13 L487.6 641.66 L485.45 640.28 L483.21 638.99 L480.9 637.81 L478.52 636.73 L476.07 635.75 L473.56 634.88 L471.01 634.13 L468.41 633.48 L465.77 632.96 L463.1 632.54 L460.42 632.25 L457.71 632.07 L455 632.01 L452.29 632.07 L449.59 632.25 L446.9 632.54 L444.23 632.96 L441.59 633.48 L438.99 634.13 L436.44 634.88 L433.93 635.75 L431.48 636.73 L429.1 637.81 L426.79 638.99 L424.55 640.28 L422.4 641.66 L420.34 643.13 L418.37 644.69 L416.51 646.33 L414.75 648.06 L413.09 649.85 L411.56 651.72 L410.14 653.65 L408.85 655.65 L407.68 657.69 L406.64 659.79 L405.74 661.92 L404.97 664.1 L404.33 666.3 L403.84 668.53 L403.49 670.77 L403.27 673.03 L403.2 675.3" fill="none" stroke="#8fe2a2" stroke-width="10.5" />
<path d="M506.8 675.3 L506.73 673.03 L506.52 670.77 L506.16 668.53 L505.67 666.3 L505.03 664.1 L504.26 661.92 L503.36 659.79 L502.32 657.69 L501.15 655.65 L499.86 653.65 L498.44 651.72 L496.91 649.85 L495.26 648.06 L493.5 646.33 L491.63 644.69 L489.66 643.13 L487.6 641.66 L485.45 640.28 L483.21 638.99 L480.9 637.81 L478.52 636.73 L476.07 635.75 L473.56 634.88 L471.01 634.13 L468.41 633.48 L465.77 632.96 L463.1 632.54 L460.42 632.25 L457.71 632.07 L455 632.01 L452.29 632.07 L449.59 632.25 L446.9 632.54 L444.23 632.96 L441.59 633.48 L438.99 634.13 L436.44 634.88 L433.93 635.75 L431.48 636.73 L429.1 637.81 L426.79 638.99 L424.55 640.28 L422.4 641.66 L420.34 643.13 L418.37 644.69 L416.51 646.33 L414.75 648.06 L413.09 649.85 L411.56 651.72 L410.14 653.65 L408.85 655.65 L407.68 657.69 L406.64 659.79 L405.74 661.92 L404.97 664.1 L404.33 666.3 L403.84 668.53 L403.49 670.77 L403.27 673.03 L403.2 675.3" fill="none" stroke="#208a3a" stroke-width="0.8" />
<path d="M506.8 675.3 L506.75 673.72 L506.6 672.15 L506.36 670.59 L506.01 669.04 L505.57 667.51 L505.04 666 L504.41 664.51 L503.69 663.06 L502.88 661.64 L501.98 660.25 L500.99 658.91 L499.92 657.61 L498.78 656.36 L497.55 655.16 L496.25 654.02 L494.89 652.94 L493.45 651.91 L491.96 650.95 L490.4 650.06 L488.8 649.24 L487.14 648.49 L485.44 647.81 L483.69 647.2 L481.92 646.68 L480.11 646.23 L478.28 645.86 L476.42 645.58 L474.55 645.37 L472.67 645.25 L470.79 645.2 L468.91 645.25 L467.03 645.37 L465.16 645.58 L463.3 645.86 L461.47 646.23 L459.66 646.68 L457.89 647.2 L456.14 647.81 L454.44 648.49 L452.79 649.24 L451.18 650.06 L449.62 650.95 L448.13 651.91 L446.69 652.94 L445.33 654.02 L444.03 655.16 L442.8 656.36 L441.66 657.61 L440.59 658.91 L439.6 660.25 L438.7 661.64 L437.89 663.06 L437.17 664.51 L436.54 666 L436.01 667.51 L435.57 669.04 L435.22 670.59 L434.98 672.15 L434.83 673.72 L434.78 675.3" fill="none" stroke="#a9cff6" stroke-width="10.5" />
<path d="M506.8 675.3 L506.75 673.72 L506.6 672.15 L506.36 670.59 L506.01 669.04 L505.57 667.51 L505.04 666 L504.41 664.51 L503.69 663.06 L502.88 661.64 L501.98 660.25 L500.99 658.91 L499.92 657.61 L498.78 656.36 L497.55 655.16 L496.25 654.02 L494.89 652.94 L493.45 651.91 L491.96 650.95 L490.4 650.06 L488.8 649.24 L487.14 648.49 L485.44 647.81 L483.69 647.2 L481.92 646.68 L480.11 646.23 L478.28 645.86 L476.42 645.58 L474.55 645.37 L472.67 645.25 L470.79 645.2 L468.91 645.25 L467.03 645.37 L465.16 645.58 L463.3 645.86 L461.47 646.23 L459.66 646.68 L457.89 647.2 L456.14 647.81 L454.44 648.49 L452.79 649.24 L451.18 650.06 L449.62 650.95 L448.13 651.91 L446.69 652.94 L445.33 654.02 L444.03 655.16 L442.8 656.36 L441.66 657.61 L440.59 658.91 L439.6 660.25 L438.7 661.64 L437.89 663.06 L437.17 664.51 L436.54 666 L436.01 667.51 L435.57 669.04 L435.22 670.59 L434.98 672.15 L434.83 673.72 L434.78 675.3" fill="none" stroke="#2a5fb0" stroke-width="0.8" />
</g>
<circle cx="434.4" cy="656.3" r="3.1" fill="#3464b4" stroke="#000" stroke-width="1.1"/>
<circle cx="449.2" cy="647.7" r="3.1" fill="#3464b4" stroke="#000" stroke-width="1.1"/>
<circle cx="458.5" cy="647.1" r="3.1" fill="#3464b4" stroke="#000" stroke-width="1.1"/>
<circle cx="465.2" cy="647.3" r="3.1" fill="#3464b4" stroke="#000" stroke-width="1.1"/>
<circle cx="470.59" cy="648.04" r="3.1" fill="#3464b4" stroke="#000" stroke-width="1.1"/>
<circle cx="474.16" cy="648.82" r="3.1" fill="#3464b4" stroke="#000" stroke-width="1.1"/>
<circle cx="477.2" cy="649.61" r="3.1" fill="#3464b4" stroke="#000" stroke-width="1.1"/>
<circle cx="480.09" cy="650.45" r="3.1" fill="#3464b4" stroke="#000" stroke-width="1.1"/>
<circle cx="482.97" cy="651.54" r="3.1" fill="#3464b4" stroke="#000" stroke-width="1.1"/>
<circle cx="485.57" cy="652.58" r="3.1" fill="#3464b4" stroke="#000" stroke-width="1.1"/>
<circle cx="487.48" cy="653.54" r="3.1" fill="#3464b4" stroke="#000" stroke-width="1.1"/>
<circle cx="489.39" cy="654.52" r="3.1" fill="#3464b4" stroke="#000" stroke-width="1.1"/>
<circle cx="491.31" cy="655.67" r="3.1" fill="#3464b4" stroke="#000" stroke-width="1.1"/>
<circle cx="493.22" cy="656.83" r="3.1" fill="#3464b4" stroke="#000" stroke-width="1.1"/>
<circle cx="494.7" cy="657.76" r="3.1" fill="#3464b4" stroke="#000" stroke-width="1.1"/>
<circle cx="495.88" cy="658.53" r="3.1" fill="#3464b4" stroke="#000" stroke-width="1.1"/>
<circle cx="497.06" cy="659.29" r="3.1" fill="#3464b4" stroke="#000" stroke-width="1.1"/>
<circle cx="498.23" cy="659.99" r="3.1" fill="#3464b4" stroke="#000" stroke-width="1.1"/>
<circle cx="499.41" cy="660.68" r="3.1" fill="#3464b4" stroke="#000" stroke-width="1.1"/>
<circle cx="500.59" cy="661.38" r="3.1" fill="#3464b4" stroke="#000" stroke-width="1.1"/>
<path d="M384.6 620 L385.81 623.24 L389.26 623.39 L386.56 625.54 L387.48 628.86 L384.6 626.96 L381.72 628.86 L382.64 625.54 L379.94 623.39 L383.39 623.24 Z" fill="#f09646" stroke="#000" stroke-width="1.1" stroke-linejoin="miter"/>
<path d="M419.6 610.8 L420.81 614.04 L424.26 614.19 L421.56 616.34 L422.48 619.66 L419.6 617.76 L416.72 619.66 L417.64 616.34 L414.94 614.19 L418.39 614.04 Z" fill="#f09646" stroke="#000" stroke-width="1.1" stroke-linejoin="miter"/>
<path d="M441.5 610.6 L442.71 613.84 L446.16 613.99 L443.46 616.14 L444.38 619.46 L441.5 617.56 L438.62 619.46 L439.54 616.14 L436.84 613.99 L440.29 613.84 Z" fill="#f09646" stroke="#000" stroke-width="1.1" stroke-linejoin="miter"/>
<path d="M455.4 612.4 L456.61 615.64 L460.06 615.79 L457.36 617.94 L458.28 621.26 L455.4 619.36 L452.52 621.26 L453.44 617.94 L450.74 615.79 L454.19 615.64 Z" fill="#f09646" stroke="#000" stroke-width="1.1" stroke-linejoin="miter"/>
<path d="M465.8 614.7 L467.01 617.94 L470.46 618.09 L467.76 620.24 L468.68 623.56 L465.8 621.66 L462.92 623.56 L463.84 620.24 L461.14 618.09 L464.59 617.94 Z" fill="#f09646" stroke="#000" stroke-width="1.1" stroke-linejoin="miter"/>
<path d="M472.27 617.12 L473.48 620.36 L476.93 620.51 L474.22 622.66 L475.15 625.99 L472.27 624.08 L469.39 625.99 L470.31 622.66 L467.61 620.51 L471.06 620.36 Z" fill="#f09646" stroke="#000" stroke-width="1.1" stroke-linejoin="miter"/>
<path d="M477.14 620.05 L478.35 623.29 L481.81 623.44 L479.1 625.59 L480.02 628.92 L477.14 627.01 L474.26 628.92 L475.19 625.59 L472.48 623.44 L475.94 623.29 Z" fill="#f09646" stroke="#000" stroke-width="1.1" stroke-linejoin="miter"/>
<path d="M481.53 623.14 L482.74 626.37 L486.19 626.53 L483.49 628.68 L484.41 632 L481.53 630.1 L478.65 632 L479.57 628.68 L476.87 626.53 L480.32 626.37 Z" fill="#f09646" stroke="#000" stroke-width="1.1" stroke-linejoin="miter"/>
<path d="M485.91 626.23 L487.12 629.46 L490.57 629.61 L487.87 631.76 L488.79 635.09 L485.91 633.18 L483.03 635.09 L483.96 631.76 L481.25 629.61 L484.71 629.46 Z" fill="#f09646" stroke="#000" stroke-width="1.1" stroke-linejoin="miter"/>
<path d="M489.75 628.93 L490.96 632.16 L494.41 632.31 L491.71 634.46 L492.63 637.79 L489.75 635.88 L486.87 637.79 L487.8 634.46 L485.09 632.31 L488.54 632.16 Z" fill="#f09646" stroke="#000" stroke-width="1.1" stroke-linejoin="miter"/>
<path d="M492.3 631.88 L493.51 635.11 L496.96 635.26 L494.25 637.41 L495.18 640.74 L492.3 638.83 L489.42 640.74 L490.34 637.41 L487.64 635.26 L491.09 635.11 Z" fill="#f09646" stroke="#000" stroke-width="1.1" stroke-linejoin="miter"/>
<path d="M494.84 634.95 L496.05 638.19 L499.5 638.34 L496.8 640.49 L497.72 643.82 L494.84 641.91 L491.96 643.82 L492.88 640.49 L490.18 638.34 L493.63 638.19 Z" fill="#f09646" stroke="#000" stroke-width="1.1" stroke-linejoin="miter"/>
<path d="M497.38 638.03 L498.59 641.26 L502.04 641.41 L499.34 643.56 L500.26 646.89 L497.38 644.98 L494.5 646.89 L495.42 643.56 L492.72 641.41 L496.17 641.26 Z" fill="#f09646" stroke="#000" stroke-width="1.1" stroke-linejoin="miter"/>
<path d="M499.92 641.1 L501.13 644.34 L504.58 644.49 L501.88 646.64 L502.8 649.96 L499.92 648.06 L497.04 649.96 L497.97 646.64 L495.26 644.49 L498.71 644.34 Z" fill="#f09646" stroke="#000" stroke-width="1.1" stroke-linejoin="miter"/>
<path d="M502.47 644.17 L503.68 647.41 L507.13 647.56 L504.42 649.71 L505.35 653.04 L502.47 651.13 L499.59 653.04 L500.51 649.71 L497.81 647.56 L501.26 647.41 Z" fill="#f09646" stroke="#000" stroke-width="1.1" stroke-linejoin="miter"/>
<path d="M505.01 647.25 L506.22 650.48 L509.67 650.64 L506.97 652.79 L507.89 656.11 L505.01 654.21 L502.13 656.11 L503.05 652.79 L500.35 650.64 L503.8 650.48 Z" fill="#f09646" stroke="#000" stroke-width="1.1" stroke-linejoin="miter"/>
<path d="M507.55 650.32 L508.76 653.56 L512.21 653.71 L509.51 655.86 L510.43 659.19 L507.55 657.28 L504.67 659.19 L505.59 655.86 L502.89 653.71 L506.34 653.56 Z" fill="#f09646" stroke="#000" stroke-width="1.1" stroke-linejoin="miter"/>
<path d="M510.09 653.4 L511.3 656.63 L514.76 656.78 L512.05 658.93 L512.98 662.26 L510.09 660.36 L507.21 662.26 L508.14 658.93 L505.43 656.78 L508.89 656.63 Z" fill="#f09646" stroke="#000" stroke-width="1.1" stroke-linejoin="miter"/>
<rect x="416.05" y="642.15" width="5.7" height="5.7" fill="#3c9c54" stroke="#000" stroke-width="1.1" />
<rect x="435.95" y="634.75" width="5.7" height="5.7" fill="#3c9c54" stroke="#000" stroke-width="1.1" />
<rect x="448.35" y="634.55" width="5.7" height="5.7" fill="#3c9c54" stroke="#000" stroke-width="1.1" />
<rect x="457.65" y="635.25" width="5.7" height="5.7" fill="#3c9c54" stroke="#000" stroke-width="1.1" />
<rect x="463.65" y="635.95" width="5.7" height="5.7" fill="#3c9c54" stroke="#000" stroke-width="1.1" />
<rect x="467.37" y="637.06" width="5.7" height="5.7" fill="#3c9c54" stroke="#000" stroke-width="1.1" />
<rect x="471.09" y="638.16" width="5.7" height="5.7" fill="#3c9c54" stroke="#000" stroke-width="1.1" />
<rect x="474.81" y="639.27" width="5.7" height="5.7" fill="#3c9c54" stroke="#000" stroke-width="1.1" />
<rect x="478.53" y="640.37" width="5.7" height="5.7" fill="#3c9c54" stroke="#000" stroke-width="1.1" />
<rect x="481.81" y="641.54" width="5.7" height="5.7" fill="#3c9c54" stroke="#000" stroke-width="1.1" />
<rect x="484.04" y="642.87" width="5.7" height="5.7" fill="#3c9c54" stroke="#000" stroke-width="1.1" />
<rect x="486.28" y="644.2" width="5.7" height="5.7" fill="#3c9c54" stroke="#000" stroke-width="1.1" />
<rect x="488.51" y="645.53" width="5.7" height="5.7" fill="#3c9c54" stroke="#000" stroke-width="1.1" />
<rect x="490.74" y="646.86" width="5.7" height="5.7" fill="#3c9c54" stroke="#000" stroke-width="1.1" />
<rect x="492.97" y="648.19" width="5.7" height="5.7" fill="#3c9c54" stroke="#000" stroke-width="1.1" />
<rect x="495.21" y="649.52" width="5.7" height="5.7" fill="#3c9c54" stroke="#000" stroke-width="1.1" />
<rect x="497.44" y="650.85" width="5.7" height="5.7" fill="#3c9c54" stroke="#000" stroke-width="1.1" />
<rect x="499.67" y="652.17" width="5.7" height="5.7" fill="#3c9c54" stroke="#000" stroke-width="1.1" />
<rect x="501.9" y="653.5" width="5.7" height="5.7" fill="#3c9c54" stroke="#000" stroke-width="1.1" />
<path d="M435.8 595.9 L440.5 600.6 L435.8 605.3 L431.1 600.6 Z" fill="#d24452" stroke="#000" stroke-width="1.1" />
<path d="M465.6 614.5 L470.3 619.2 L465.6 623.9 L460.9 619.2 Z" fill="#d24452" stroke="#000" stroke-width="1.1" />
<path d="M477.7 623.8 L482.4 628.5 L477.7 633.2 L473 628.5 Z" fill="#d24452" stroke="#000" stroke-width="1.1" />
<path d="M485.4 631.5 L490.1 636.2 L485.4 640.9 L480.7 636.2 Z" fill="#d24452" stroke="#000" stroke-width="1.1" />
<path d="M490.2 636.3 L494.9 641 L490.2 645.7 L485.5 641 Z" fill="#d24452" stroke="#000" stroke-width="1.1" />
<path d="M492.02 639.24 L496.72 643.94 L492.02 648.64 L487.32 643.94 Z" fill="#d24452" stroke="#000" stroke-width="1.1" />
<path d="M493.84 642.18 L498.54 646.88 L493.84 651.58 L489.14 646.88 Z" fill="#d24452" stroke="#000" stroke-width="1.1" />
<path d="M495.66 645.12 L500.36 649.82 L495.66 654.52 L490.96 649.82 Z" fill="#d24452" stroke="#000" stroke-width="1.1" />
<path d="M496.79 646.95 L501.49 651.65 L496.79 656.35 L492.09 651.65 Z" fill="#d24452" stroke="#000" stroke-width="1.1" />
<path d="M497.77 648.53 L502.47 653.23 L497.77 657.93 L493.07 653.23 Z" fill="#d24452" stroke="#000" stroke-width="1.1" />
<path d="M498.74 650.11 L503.44 654.81 L498.74 659.51 L494.04 654.81 Z" fill="#d24452" stroke="#000" stroke-width="1.1" />
<path d="M499.72 651.68 L504.42 656.38 L499.72 661.08 L495.02 656.38 Z" fill="#d24452" stroke="#000" stroke-width="1.1" />
<path d="M500.7 653.26 L505.4 657.96 L500.7 662.66 L496 657.96 Z" fill="#d24452" stroke="#000" stroke-width="1.1" />
<path d="M501.67 654.84 L506.37 659.54 L501.67 664.24 L496.97 659.54 Z" fill="#d24452" stroke="#000" stroke-width="1.1" />
<path d="M502.65 656.41 L507.35 661.11 L502.65 665.81 L497.95 661.11 Z" fill="#d24452" stroke="#000" stroke-width="1.1" />
<line x1="340.6" y1="677.8" x2="340.6" y2="672.5" stroke="#000" stroke-width="1.15" />
<line x1="340.6" y1="597" x2="340.6" y2="602.3" stroke="#000" stroke-width="1.15" />
<text x="340.3" y="690" font-size="11" text-anchor="middle" fill="#000" stroke="#000" stroke-width="0.22"  textLength="14" lengthAdjust="spacing">0.7</text>
<line x1="396" y1="677.8" x2="396" y2="672.5" stroke="#000" stroke-width="1.15" />
<line x1="396" y1="597" x2="396" y2="602.3" stroke="#000" stroke-width="1.15" />
<text x="395.7" y="690" font-size="11" text-anchor="middle" fill="#000" stroke="#000" stroke-width="0.22"  textLength="14" lengthAdjust="spacing">0.8</text>
<line x1="451.4" y1="677.8" x2="451.4" y2="672.5" stroke="#000" stroke-width="1.15" />
<line x1="451.4" y1="597" x2="451.4" y2="602.3" stroke="#000" stroke-width="1.15" />
<text x="451.1" y="690" font-size="11" text-anchor="middle" fill="#000" stroke="#000" stroke-width="0.22"  textLength="14" lengthAdjust="spacing">0.9</text>
<line x1="506.8" y1="677.8" x2="506.8" y2="672.5" stroke="#000" stroke-width="1.15" />
<line x1="506.8" y1="597" x2="506.8" y2="602.3" stroke="#000" stroke-width="1.15" />
<text x="506.5" y="690" font-size="11" text-anchor="middle" fill="#000" stroke="#000" stroke-width="0.22"  textLength="14" lengthAdjust="spacing">1.0</text>
<line x1="320.6" y1="675.3" x2="325.9" y2="675.3" stroke="#000" stroke-width="1.15" />
<line x1="518" y1="675.3" x2="512.7" y2="675.3" stroke="#000" stroke-width="1.15" />
<text x="316.8" y="678.8" font-size="11" text-anchor="end" fill="#000" stroke="#000" stroke-width="0.22"  textLength="14.5" lengthAdjust="spacing">0.0</text>
<line x1="320.6" y1="629" x2="325.9" y2="629" stroke="#000" stroke-width="1.15" />
<line x1="518" y1="629" x2="512.7" y2="629" stroke="#000" stroke-width="1.15" />
<text x="316.8" y="632.5" font-size="11" text-anchor="end" fill="#000" stroke="#000" stroke-width="0.22"  textLength="14.5" lengthAdjust="spacing">0.1</text>
<rect x="320.6" y="597" width="197.4" height="80.8" fill="none" stroke="#000" stroke-width="1.5" />
<text x="406.3" y="702.8" font-size="13" text-anchor="start" fill="#000" stroke="#000" stroke-width="0.22" letter-spacing="0.6"><tspan font-style="italic">&#951;</tspan>&#8242;/<tspan font-style="italic">&#951;</tspan><tspan font-size="8.5" dy="2.6">0</tspan></text>
<text x="294.2" y="656.2" font-size="13" text-anchor="start" fill="#000" stroke="#000" stroke-width="0.22" transform="rotate(-90 294.2 656.2)" letter-spacing="1.0"><tspan font-style="italic">&#951;</tspan>&#8243;/<tspan font-style="italic">&#951;</tspan><tspan font-size="8.5" dy="2.6">0</tspan></text>
<rect x="324.6" y="581" width="23.1" height="9.7" fill="#a9cff6" stroke="none" stroke-width="1" />
<line x1="324.6" y1="585.9" x2="347.7" y2="585.9" stroke="#2a5fb0" stroke-width="0.8" />
<circle cx="336.15" cy="585.9" r="3.1" fill="#3464b4" stroke="#000" stroke-width="1.1"/>
<text x="351.6" y="590.3" font-size="11" text-anchor="start" fill="#000" stroke="#000" stroke-width="0.22"  textLength="16.3" lengthAdjust="spacing">&#947;-g</text>
<rect x="374.2" y="581" width="22" height="9.7" fill="#f6b57e" stroke="none" stroke-width="1" />
<line x1="374.2" y1="585.9" x2="396.2" y2="585.9" stroke="#c06a20" stroke-width="0.8" />
<path d="M385.2 581 L386.41 584.24 L389.86 584.39 L387.16 586.54 L388.08 589.86 L385.2 587.96 L382.32 589.86 L383.24 586.54 L380.54 584.39 L383.99 584.24 Z" fill="#f09646" stroke="#000" stroke-width="1.1" stroke-linejoin="miter"/>
<text x="400.8" y="590.3" font-size="11" text-anchor="start" fill="#000" stroke="#000" stroke-width="0.22"  textLength="14.8" lengthAdjust="spacing">M1</text>
<rect x="422.4" y="581" width="22.6" height="9.7" fill="#8fe2a2" stroke="none" stroke-width="1" />
<line x1="422.4" y1="585.9" x2="445" y2="585.9" stroke="#208a3a" stroke-width="0.8" />
<rect x="430.85" y="583.05" width="5.7" height="5.7" fill="#3c9c54" stroke="#000" stroke-width="1.1" />
<text x="449.6" y="590.3" font-size="11" text-anchor="start" fill="#000" stroke="#000" stroke-width="0.22"  textLength="14.8" lengthAdjust="spacing">M2</text>
<rect x="470.4" y="581" width="24.2" height="9.7" fill="#f5a3a3" stroke="none" stroke-width="1" />
<line x1="470.4" y1="585.9" x2="494.6" y2="585.9" stroke="#b03030" stroke-width="0.8" />
<path d="M482.5 581.2 L487.2 585.9 L482.5 590.6 L477.8 585.9 Z" fill="#d24452" stroke="#000" stroke-width="1.1" />
<text x="497.9" y="590.3" font-size="11" text-anchor="start" fill="#000" stroke="#000" stroke-width="0.22"  textLength="13.4" lengthAdjust="spacing">BP</text>
<text x="14.6" y="17.3" font-size="21" text-anchor="start" fill="#222" stroke="#222" stroke-width="0"  textLength="21" lengthAdjust="spacing">(e)</text>
<text x="291.5" y="17.3" font-size="21" text-anchor="start" fill="#222" stroke="#222" stroke-width="0"  textLength="19.9" lengthAdjust="spacing">(f)</text>
<text x="14.6" y="292.3" font-size="21" text-anchor="start" fill="#222" stroke="#222" stroke-width="0"  textLength="22.2" lengthAdjust="spacing">(g)</text>
<text x="291.5" y="292.3" font-size="21" text-anchor="start" fill="#222" stroke="#222" stroke-width="0"  textLength="23.1" lengthAdjust="spacing">(h)</text>
<text x="21" y="584.6" font-size="21" text-anchor="start" fill="#222" stroke="#222" stroke-width="0"  textLength="17.6" lengthAdjust="spacing">(i)</text>
<text x="292.1" y="584.6" font-size="21" text-anchor="start" fill="#222" stroke="#222" stroke-width="0"  textLength="17.7" lengthAdjust="spacing">(j)</text>
</g>
</svg>
</body></html>
